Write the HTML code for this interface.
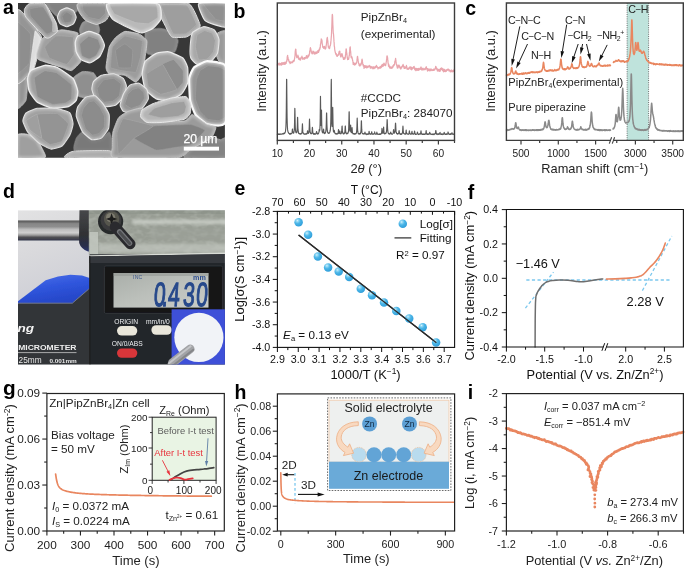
<!DOCTYPE html>
<html><head><meta charset="utf-8"><title>Figure</title>
<style>html,body{margin:0;padding:0;background:#fff}svg{display:block}text{font-family:'Liberation Sans', Arial, sans-serif}</style>
</head><body>
<svg width="685" height="568" viewBox="0 0 685 568">
<defs>
<radialGradient id="ball" cx="0.36" cy="0.3" r="0.78">
<stop offset="0" stop-color="#d8f3fc"/><stop offset="0.16" stop-color="#93d8f4"/><stop offset="0.45" stop-color="#4ab5e7"/><stop offset="1" stop-color="#2b9ad8"/>
</radialGradient>

<filter id="blurA" x="-5%" y="-5%" width="110%" height="110%"><feGaussianBlur stdDeviation="0.5"/></filter>
<filter id="blurG" x="-20%" y="-20%" width="140%" height="140%"><feGaussianBlur stdDeviation="1.2"/></filter>

<linearGradient id="dBg" x1="0" y1="0" x2="0.5" y2="1"><stop offset="0" stop-color="#e2e2e3"/><stop offset="0.25" stop-color="#d9d9dc"/><stop offset="0.5" stop-color="#cfd0d7"/></linearGradient>
<linearGradient id="dRod" x1="0" y1="0" x2="0" y2="1"><stop offset="0" stop-color="#8a8a8a"/><stop offset="0.07" stop-color="#606060"/><stop offset="0.17" stop-color="#878787"/><stop offset="0.32" stop-color="#8e8e8e"/><stop offset="0.45" stop-color="#bdbdbd"/><stop offset="0.62" stop-color="#cfcfcf"/><stop offset="0.74" stop-color="#9a9a9a"/><stop offset="0.84" stop-color="#505052"/><stop offset="1" stop-color="#33364c"/></linearGradient>
<linearGradient id="dCollar" x1="0" y1="0" x2="0" y2="1"><stop offset="0" stop-color="#47484a"/><stop offset="0.6" stop-color="#303134"/><stop offset="0.85" stop-color="#2a2d4a"/><stop offset="1" stop-color="#2a3470"/></linearGradient>
<linearGradient id="dLcd" x1="0" y1="0" x2="1" y2="1"><stop offset="0" stop-color="#a9aea9"/><stop offset="0.5" stop-color="#bcc0bb"/><stop offset="1" stop-color="#c9ccc8"/></linearGradient>
<linearGradient id="dGlove" x1="0.2" y1="0" x2="0.6" y2="1"><stop offset="0" stop-color="#4a6ee8"/><stop offset="0.45" stop-color="#2f55dc"/><stop offset="1" stop-color="#2444c4"/></linearGradient>
<filter id="blurD2" x="-10%" y="-50%" width="120%" height="200%"><feGaussianBlur stdDeviation="1.6"/></filter>
<filter id="blurD" x="-5%" y="-5%" width="110%" height="110%"><feGaussianBlur stdDeviation="0.45"/></filter>
<filter id="hammer" x="0" y="0" width="100%" height="100%"><feTurbulence type="fractalNoise" baseFrequency="0.14 0.22" numOctaves="2" seed="7" result="n"/><feColorMatrix in="n" type="matrix" values="0 0 0 0 1  0 0 0 0 1  0 0 0 0 1  2.4 0 0 0 -0.95" result="m"/><feComposite in="SourceGraphic" in2="m" operator="in"/></filter>
</defs>
<rect width="685" height="568" fill="#fff"/>
<path d="M277.3,65.15 L277.43,64.4 L277.56,64.21 L277.69,63.13 L277.82,64 L277.94,63.96 L278.07,64.1 L278.2,63.8 L278.33,64.12 L278.46,63.88 L278.59,63.41 L278.72,64.62 L278.85,64.61 L278.98,65.06 L279.1,64.15 L279.23,63.89 L279.36,63.81 L279.49,63.25 L279.62,64.64 L279.75,63.49 L279.88,63.44 L280.01,63.97 L280.14,64.89 L280.26,64.2 L280.39,63.5 L280.52,63.66 L280.65,64.39 L280.78,63.95 L280.91,63.61 L281.04,63.9 L281.17,64.42 L281.3,65.09 L281.42,63.31 L281.55,63.64 L281.68,63.53 L281.81,62.63 L281.94,63.44 L282.07,63.37 L282.2,64.54 L282.33,63.84 L282.46,63 L282.58,64.24 L282.71,63.67 L282.84,62.89 L282.97,63.5 L283.1,63.49 L283.23,63.31 L283.36,63.79 L283.49,62.52 L283.62,63.58 L283.74,64.26 L283.87,64.15 L284,64.26 L284.13,64.23 L284.26,64.4 L284.39,62.93 L284.52,63.97 L284.65,62.44 L284.78,63.08 L284.9,62.31 L285.03,63.88 L285.16,63.97 L285.29,63.06 L285.42,64.06 L285.55,62.61 L285.68,62.96 L285.81,62.83 L285.93,62.01 L286.06,62.66 L286.19,63.27 L286.32,61.38 L286.45,62.12 L286.58,61.16 L286.71,61.75 L286.84,60.46 L286.97,59.87 L287.09,59.04 L287.22,57.93 L287.35,56.17 L287.48,57.06 L287.61,55.28 L287.74,56.38 L287.87,57.2 L288,57.22 L288.13,58.6 L288.25,59.94 L288.38,59.94 L288.51,60 L288.64,59.32 L288.77,60.73 L288.9,61.21 L289.03,61.47 L289.16,61.4 L289.29,62.27 L289.41,61.86 L289.54,62.2 L289.67,62.7 L289.8,61.91 L289.93,62.25 L290.06,63.63 L290.19,62.95 L290.32,61.77 L290.45,62.44 L290.57,62.8 L290.7,63.16 L290.83,62.55 L290.96,62.17 L291.09,62.04 L291.22,62.77 L291.35,62.56 L291.48,62.08 L291.61,62.22 L291.73,62.06 L291.86,62.65 L291.99,61.83 L292.12,62.42 L292.25,62.57 L292.38,62.31 L292.51,61.52 L292.64,62.65 L292.77,61.46 L292.89,61.99 L293.02,61.25 L293.15,60.6 L293.28,61.57 L293.41,61.47 L293.54,61.12 L293.67,61.15 L293.8,60.45 L293.93,60.17 L294.05,60.22 L294.18,61.05 L294.31,60.07 L294.44,58.88 L294.57,58.91 L294.7,57.64 L294.83,56.78 L294.96,56.42 L295.09,54.34 L295.21,52.16 L295.34,50.93 L295.47,49.96 L295.6,49.03 L295.73,49.56 L295.86,49.29 L295.99,51.44 L296.12,52.77 L296.25,53.82 L296.37,55.5 L296.5,56.18 L296.63,56.08 L296.76,57.58 L296.89,56.59 L297.02,57.4 L297.15,57.32 L297.28,57.36 L297.41,56.41 L297.53,56.36 L297.66,55.84 L297.79,56.11 L297.92,55.02 L298.05,55.71 L298.18,56 L298.31,56.02 L298.44,58.79 L298.57,57.78 L298.69,57.41 L298.82,59.33 L298.95,58.21 L299.08,59.19 L299.21,59.6 L299.34,58.87 L299.47,59.06 L299.6,59.04 L299.73,59.29 L299.85,58.47 L299.98,58.67 L300.11,59.24 L300.24,59.85 L300.37,59.56 L300.5,60.09 L300.63,59.42 L300.76,58.63 L300.89,58.68 L301.01,57.44 L301.14,57.79 L301.27,57.47 L301.4,57.86 L301.53,57.74 L301.66,56.82 L301.79,56.67 L301.92,56.19 L302.04,57.15 L302.17,57.59 L302.3,57.94 L302.43,57.47 L302.56,59.15 L302.69,58.83 L302.82,58.2 L302.95,58.02 L303.08,58.16 L303.2,58.44 L303.33,58.34 L303.46,58.61 L303.59,58.75 L303.72,59.05 L303.85,58.9 L303.98,58.17 L304.11,58.41 L304.24,57.94 L304.36,57.78 L304.49,59.11 L304.62,57.75 L304.75,59.05 L304.88,57.7 L305.01,57.98 L305.14,58.38 L305.27,57.74 L305.4,57.88 L305.52,57.47 L305.65,57.28 L305.78,57.38 L305.91,57.05 L306.04,58.24 L306.17,57.18 L306.3,58.15 L306.43,55.65 L306.56,57.06 L306.68,57.29 L306.81,56.74 L306.94,57.42 L307.07,57.09 L307.2,56.5 L307.33,56.8 L307.46,58.01 L307.59,56.51 L307.72,56.43 L307.84,55.91 L307.97,56.11 L308.1,55.21 L308.23,55.67 L308.36,56.99 L308.49,56.06 L308.62,55.65 L308.75,55.7 L308.88,55.9 L309,54.94 L309.13,55.45 L309.26,54.55 L309.39,53.63 L309.52,54 L309.65,51.17 L309.78,51.47 L309.91,51.14 L310.04,49.63 L310.16,49.18 L310.29,48.17 L310.42,47.7 L310.55,49.49 L310.68,48.66 L310.81,48.89 L310.94,50.37 L311.07,50.25 L311.2,51.51 L311.32,51.76 L311.45,52.9 L311.58,51.56 L311.71,53.02 L311.84,52.86 L311.97,52.28 L312.1,53.57 L312.23,52.53 L312.36,53.88 L312.48,53.2 L312.61,53.18 L312.74,52.66 L312.87,52.88 L313,51.08 L313.13,51.86 L313.26,51.25 L313.39,51.65 L313.52,51.54 L313.64,52.1 L313.77,51.56 L313.9,53.29 L314.03,53.77 L314.16,52.56 L314.29,52.8 L314.42,53.06 L314.55,53.66 L314.68,54.06 L314.8,52.37 L314.93,52.71 L315.06,52.46 L315.19,52.43 L315.32,52.12 L315.45,53.2 L315.58,52.34 L315.71,53.77 L315.84,53.41 L315.96,52.3 L316.09,52.26 L316.22,52.44 L316.35,53.5 L316.48,52.21 L316.61,51.8 L316.74,52.54 L316.87,52.71 L317,52.08 L317.12,53.26 L317.25,52.43 L317.38,52.48 L317.51,51.68 L317.64,52.04 L317.77,51.89 L317.9,50.63 L318.03,51.93 L318.15,50.67 L318.28,51.52 L318.41,50.6 L318.54,52.38 L318.67,51.29 L318.8,51.41 L318.93,51.26 L319.06,49.81 L319.19,49.05 L319.31,49.86 L319.44,50.24 L319.57,49.46 L319.7,49.46 L319.83,49.11 L319.96,47.28 L320.09,47.69 L320.22,47.97 L320.35,45.85 L320.47,44.23 L320.6,44.33 L320.73,43.23 L320.86,42.73 L320.99,41.04 L321.12,40.73 L321.25,38.8 L321.38,40.12 L321.51,40.48 L321.63,40.63 L321.76,39.66 L321.89,41.46 L322.02,40.53 L322.15,43.23 L322.28,43.92 L322.41,44.21 L322.54,45.66 L322.67,46.17 L322.79,47.13 L322.92,47.1 L323.05,47.5 L323.18,46.54 L323.31,47.13 L323.44,47.58 L323.57,47.98 L323.7,47.69 L323.83,48.29 L323.95,46.69 L324.08,46.7 L324.21,46.71 L324.34,46.36 L324.47,46.91 L324.6,46.66 L324.73,48.15 L324.86,47.57 L324.99,48.65 L325.11,48.22 L325.24,49.16 L325.37,47.58 L325.5,48.55 L325.63,47.86 L325.76,47.96 L325.89,48.13 L326.02,46.37 L326.15,45.66 L326.27,45.07 L326.4,44.83 L326.53,42.55 L326.66,42.36 L326.79,40.23 L326.92,38.96 L327.05,38.27 L327.18,38.03 L327.31,37.46 L327.43,38.15 L327.56,39.48 L327.69,40.67 L327.82,40.69 L327.95,43.16 L328.08,44.52 L328.21,45.97 L328.34,47.21 L328.47,47.02 L328.59,47.14 L328.72,46.89 L328.85,47.7 L328.98,48.22 L329.11,48.56 L329.24,47.37 L329.37,47.92 L329.5,48.11 L329.63,48.49 L329.75,47.34 L329.88,46.58 L330.01,46.1 L330.14,45.81 L330.27,45.1 L330.4,45.27 L330.53,44.67 L330.66,43.64 L330.79,42.94 L330.91,40.94 L331.04,40.16 L331.17,38.32 L331.3,36.92 L331.43,35.65 L331.56,32.7 L331.69,29 L331.82,26.69 L331.95,22.77 L332.07,18.47 L332.2,15.43 L332.33,14.39 L332.46,14.98 L332.59,16.15 L332.72,20.65 L332.85,24.68 L332.98,26.89 L333.11,30.25 L333.23,32.22 L333.36,33.67 L333.49,33.7 L333.62,35.43 L333.75,37.61 L333.88,39.54 L334.01,41.9 L334.14,42.73 L334.26,45.76 L334.39,46.66 L334.52,46.86 L334.65,49.13 L334.78,49.43 L334.91,50.69 L335.04,51.01 L335.17,52.3 L335.3,52.27 L335.42,52.41 L335.55,53.48 L335.68,53.43 L335.81,53.37 L335.94,54.57 L336.07,53.89 L336.2,53.99 L336.33,54.24 L336.46,53.92 L336.58,54.58 L336.71,56.06 L336.84,54.67 L336.97,55.29 L337.1,54.77 L337.23,55.13 L337.36,56.36 L337.49,56.06 L337.62,55.25 L337.74,55.59 L337.87,55.1 L338,55.05 L338.13,54.87 L338.26,54.71 L338.39,55.16 L338.52,55 L338.65,54.55 L338.78,53.7 L338.9,52.46 L339.03,52.51 L339.16,51.37 L339.29,51.8 L339.42,51.32 L339.55,51.47 L339.68,51.28 L339.81,51.13 L339.94,53.42 L340.06,54.32 L340.19,53.5 L340.32,54.95 L340.45,55.97 L340.58,55.06 L340.71,56.86 L340.84,55.83 L340.97,55.48 L341.1,56.78 L341.22,56.04 L341.35,55.28 L341.48,55.8 L341.61,53.84 L341.74,55.5 L341.87,53.7 L342,54.15 L342.13,53.88 L342.26,54.7 L342.38,55.5 L342.51,55.19 L342.64,56.7 L342.77,56.67 L342.9,56.94 L343.03,57.6 L343.16,57.5 L343.29,57.89 L343.42,59.07 L343.54,58.64 L343.67,59.48 L343.8,59.19 L343.93,58.45 L344.06,58 L344.19,58.66 L344.32,59.15 L344.45,58.92 L344.58,58.34 L344.7,59.17 L344.83,57.41 L344.96,57.35 L345.09,57.68 L345.22,58.27 L345.35,56.59 L345.48,54.92 L345.61,54.71 L345.74,53.46 L345.86,52.18 L345.99,50.07 L346.12,48.83 L346.25,48.97 L346.38,49.56 L346.51,51.3 L346.64,53 L346.77,52.93 L346.9,54.39 L347.02,55.79 L347.15,56.61 L347.28,57.76 L347.41,58.34 L347.54,58.67 L347.67,59.6 L347.8,59.01 L347.93,58.68 L348.06,58.48 L348.18,58.79 L348.31,58.72 L348.44,58.11 L348.57,59.29 L348.7,58.71 L348.83,57.94 L348.96,57.11 L349.09,55.99 L349.22,55.43 L349.34,55.81 L349.47,52.19 L349.6,51.9 L349.73,50.54 L349.86,48.62 L349.99,47.21 L350.12,47.39 L350.25,46.81 L350.37,48.91 L350.5,50.99 L350.63,51.33 L350.76,53.03 L350.89,54.9 L351.02,56.45 L351.15,57.45 L351.28,57.64 L351.41,57.22 L351.53,57.09 L351.66,57.78 L351.79,57.73 L351.92,56.84 L352.05,57.62 L352.18,58.22 L352.31,59.29 L352.44,58.95 L352.57,60.56 L352.69,60.28 L352.82,61.25 L352.95,61.9 L353.08,63.17 L353.21,64.47 L353.34,63.05 L353.47,63.41 L353.6,63.88 L353.73,62.74 L353.85,64.04 L353.98,63.06 L354.11,64.74 L354.24,64.72 L354.37,64.28 L354.5,63.62 L354.63,65.03 L354.76,64.29 L354.89,64.23 L355.01,64.5 L355.14,63.24 L355.27,64.4 L355.4,64.68 L355.53,64.27 L355.66,64.09 L355.79,63.39 L355.92,64.13 L356.05,63.71 L356.17,63.39 L356.3,62.78 L356.43,63.2 L356.56,62.95 L356.69,61.9 L356.82,61.45 L356.95,60.81 L357.08,59.96 L357.21,58.17 L357.33,57.03 L357.46,56.39 L357.59,56.65 L357.72,57.53 L357.85,58.7 L357.98,59.05 L358.11,60.42 L358.24,60.72 L358.37,62.74 L358.49,62.47 L358.62,63.4 L358.75,63.22 L358.88,63.79 L359.01,63.86 L359.14,65.39 L359.27,64.84 L359.4,64.69 L359.53,64.38 L359.65,64.65 L359.78,65.37 L359.91,66.02 L360.04,64.34 L360.17,64.62 L360.3,65 L360.43,64.7 L360.56,64.05 L360.69,64.85 L360.81,65.08 L360.94,63.57 L361.07,64.24 L361.2,64.25 L361.33,63.74 L361.46,62.32 L361.59,63.05 L361.72,61.25 L361.85,59.75 L361.97,60.28 L362.1,59.16 L362.23,60.78 L362.36,60.41 L362.49,62.44 L362.62,62.52 L362.75,64.18 L362.88,64.55 L363.01,64.86 L363.13,65.02 L363.26,65.9 L363.39,64.55 L363.52,65.99 L363.65,66.15 L363.78,66.37 L363.91,66.64 L364.04,68.33 L364.17,66.44 L364.29,66.9 L364.42,66.61 L364.55,67.45 L364.68,65.53 L364.81,67.63 L364.94,66.36 L365.07,65.54 L365.2,66.23 L365.33,66.76 L365.45,66.99 L365.58,66.89 L365.71,67.39 L365.84,66.94 L365.97,66.95 L366.1,65.83 L366.23,67.29 L366.36,67.59 L366.48,66.82 L366.61,66.03 L366.74,66.34 L366.87,68 L367,66.75 L367.13,66.72 L367.26,66.63 L367.39,67.45 L367.52,66.73 L367.64,66.56 L367.77,66.18 L367.9,66.91 L368.03,67.46 L368.16,66.75 L368.29,67.22 L368.42,66.71 L368.55,66.53 L368.68,66.36 L368.8,66.07 L368.93,66.43 L369.06,66.03 L369.19,65.45 L369.32,65.98 L369.45,66.07 L369.58,66.61 L369.71,66.65 L369.84,66.97 L369.96,66.08 L370.09,67.22 L370.22,67.83 L370.35,66.45 L370.48,68.13 L370.61,67.47 L370.74,67.24 L370.87,66.4 L371,68.02 L371.12,66.92 L371.25,67.2 L371.38,67.8 L371.51,66.96 L371.64,67 L371.77,66.93 L371.9,67.51 L372.03,67.91 L372.16,67.82 L372.28,67.84 L372.41,67.43 L372.54,67.71 L372.67,67.26 L372.8,68.75 L372.93,67.76 L373.06,66.59 L373.19,67.08 L373.32,68.55 L373.44,66.92 L373.57,67.43 L373.7,67.9 L373.83,67.07 L373.96,68.26 L374.09,68.59 L374.22,67.21 L374.35,68.28 L374.48,67.16 L374.6,67.09 L374.73,67.75 L374.86,67.73 L374.99,67.24 L375.12,67.99 L375.25,66.68 L375.38,66.96 L375.51,66.76 L375.64,67.67 L375.76,67.58 L375.89,67.35 L376.02,66.09 L376.15,66.66 L376.28,66.63 L376.41,65.33 L376.54,65.7 L376.67,66.58 L376.8,66.78 L376.92,66.74 L377.05,67.12 L377.18,67.19 L377.31,67.25 L377.44,67.23 L377.57,66.91 L377.7,67.33 L377.83,67.31 L377.96,68.85 L378.08,67.76 L378.21,67.64 L378.34,67.55 L378.47,67.63 L378.6,67.56 L378.73,68.02 L378.86,67.71 L378.99,68.18 L379.12,67.35 L379.24,67.92 L379.37,68.21 L379.5,67.08 L379.63,67.8 L379.76,67.83 L379.89,67.49 L380.02,67.39 L380.15,66.61 L380.28,68.23 L380.4,67.05 L380.53,66.83 L380.66,67.82 L380.79,66.39 L380.92,67.85 L381.05,67.46 L381.18,67.43 L381.31,66.86 L381.44,66.1 L381.56,65.49 L381.69,67.05 L381.82,65.65 L381.95,65.23 L382.08,65.99 L382.21,64.45 L382.34,64.51 L382.47,64.55 L382.59,64.81 L382.72,64.59 L382.85,65.1 L382.98,66.31 L383.11,66.12 L383.24,64.09 L383.37,64.58 L383.5,65.69 L383.63,65.2 L383.75,64.72 L383.88,65.09 L384.01,63.1 L384.14,64.39 L384.27,63.64 L384.4,63.95 L384.53,64.05 L384.66,64.72 L384.79,64.44 L384.91,64.53 L385.04,65.42 L385.17,65.16 L385.3,64.36 L385.43,65.7 L385.56,65.45 L385.69,65.32 L385.82,64.22 L385.95,63.93 L386.07,62.97 L386.2,61.96 L386.33,61.72 L386.46,60.83 L386.59,59.31 L386.72,59.56 L386.85,56.6 L386.98,56.18 L387.11,55.79 L387.23,56.89 L387.36,56.55 L387.49,57.4 L387.62,58.2 L387.75,59.43 L387.88,60.24 L388.01,62.51 L388.14,63.16 L388.27,64.11 L388.39,63.83 L388.52,66.1 L388.65,64.63 L388.78,64.41 L388.91,65.7 L389.04,66.2 L389.17,66.77 L389.3,65.99 L389.43,67.04 L389.55,67.8 L389.68,66.52 L389.81,66.69 L389.94,66.25 L390.07,67.4 L390.2,67.81 L390.33,67.82 L390.46,67.91 L390.59,68.27 L390.71,67.6 L390.84,68.08 L390.97,67.06 L391.1,67.16 L391.23,67.73 L391.36,67.15 L391.49,67.91 L391.62,68.34 L391.75,67.78 L391.87,67.12 L392,67.07 L392.13,68.17 L392.26,66.91 L392.39,67.3 L392.52,66.99 L392.65,67.02 L392.78,67.4 L392.91,66.27 L393.03,65.5 L393.16,66.73 L393.29,65.69 L393.42,65.6 L393.55,64.91 L393.68,65.21 L393.81,65.47 L393.94,65.58 L394.07,64.72 L394.19,64.64 L394.32,64.91 L394.45,64.54 L394.58,64.34 L394.71,63.08 L394.84,61.48 L394.97,62.14 L395.1,61.34 L395.23,60.27 L395.35,59.99 L395.48,59.07 L395.61,58.41 L395.74,59.71 L395.87,60.02 L396,61.82 L396.13,62.32 L396.26,63.39 L396.39,64.08 L396.51,64.67 L396.64,64.37 L396.77,65.68 L396.9,64.77 L397.03,66.58 L397.16,67.09 L397.29,67.86 L397.42,67.08 L397.55,66.58 L397.67,66.17 L397.8,68.15 L397.93,66.29 L398.06,67.53 L398.19,65.68 L398.32,66.77 L398.45,66.98 L398.58,66.52 L398.7,66 L398.83,65.26 L398.96,64.97 L399.09,65.95 L399.22,65.76 L399.35,65.73 L399.48,66.31 L399.61,66.06 L399.74,67.45 L399.86,67.85 L399.99,66.94 L400.12,67.59 L400.25,68.24 L400.38,67.4 L400.51,68.94 L400.64,68.7 L400.77,67.75 L400.9,68.45 L401.02,68.82 L401.15,67.2 L401.28,68.18 L401.41,67.7 L401.54,67.57 L401.67,67.97 L401.8,67.17 L401.93,66.47 L402.06,66.23 L402.18,66.71 L402.31,66.72 L402.44,65.96 L402.57,65.46 L402.7,65.13 L402.83,65.57 L402.96,65.05 L403.09,64.46 L403.22,65.02 L403.34,66.25 L403.47,65.7 L403.6,66.22 L403.73,66.78 L403.86,66.51 L403.99,67.84 L404.12,66.33 L404.25,68.49 L404.38,67.57 L404.5,67.21 L404.63,68.11 L404.76,67.05 L404.89,68.29 L405.02,68.4 L405.15,67.61 L405.28,67.63 L405.41,68.24 L405.54,67.18 L405.66,67.34 L405.79,67.26 L405.92,67.67 L406.05,66.34 L406.18,66.57 L406.31,67.27 L406.44,65.48 L406.57,67.04 L406.7,66.43 L406.82,66.73 L406.95,69.03 L407.08,68.24 L407.21,69.08 L407.34,68.24 L407.47,68.75 L407.6,68.28 L407.73,68.26 L407.86,68.56 L407.98,68.69 L408.11,69.48 L408.24,68.53 L408.37,68.83 L408.5,68.46 L408.63,68.64 L408.76,67.79 L408.89,69.04 L409.02,68.05 L409.14,68.23 L409.27,67.92 L409.4,68.36 L409.53,67.84 L409.66,67.26 L409.79,67.04 L409.92,66.9 L410.05,67.04 L410.18,67 L410.3,67.68 L410.43,68.18 L410.56,67.94 L410.69,67.15 L410.82,69.07 L410.95,69.47 L411.08,68.23 L411.21,68.31 L411.34,67.49 L411.46,69.12 L411.59,68.18 L411.72,69.77 L411.85,67.41 L411.98,68.82 L412.11,69.13 L412.24,68.51 L412.37,68.25 L412.5,68.75 L412.62,68.23 L412.75,68.2 L412.88,68.2 L413.01,67.7 L413.14,67.63 L413.27,67.91 L413.4,67.01 L413.53,67.17 L413.66,66.67 L413.78,67.76 L413.91,66.83 L414.04,68.36 L414.17,66.45 L414.3,67.85 L414.43,67.67 L414.56,69.26 L414.69,68.98 L414.81,68.21 L414.94,68.7 L415.07,69.82 L415.2,69.1 L415.33,69.49 L415.46,68.39 L415.59,68.43 L415.72,69.6 L415.85,70.58 L415.97,69.03 L416.1,69.67 L416.23,68.85 L416.36,70.07 L416.49,69.14 L416.62,69.17 L416.75,68.38 L416.88,69.2 L417.01,69.54 L417.13,70.2 L417.26,68.8 L417.39,69.99 L417.52,69.27 L417.65,69.3 L417.78,68.94 L417.91,68.53 L418.04,68.79 L418.17,70.35 L418.29,68.8 L418.42,69.21 L418.55,70.05 L418.68,68.27 L418.81,69.66 L418.94,69.12 L419.07,69.48 L419.2,69.83 L419.33,69.24 L419.45,69.18 L419.58,69.64 L419.71,69.53 L419.84,68.7 L419.97,68.89 L420.1,68.13 L420.23,69.42 L420.36,67.84 L420.49,68.36 L420.61,68.94 L420.74,68.14 L420.87,67.32 L421,67 L421.13,67.15 L421.26,68.22 L421.39,68.19 L421.52,68.29 L421.65,69.98 L421.77,68.3 L421.9,68.66 L422.03,68.86 L422.16,69.3 L422.29,69.43 L422.42,69.18 L422.55,69.79 L422.68,69.73 L422.81,69.3 L422.93,68.15 L423.06,69.96 L423.19,69.02 L423.32,69.19 L423.45,69.48 L423.58,68.88 L423.71,69.12 L423.84,69.6 L423.97,69.36 L424.09,69.72 L424.22,69.05 L424.35,69.38 L424.48,68.89 L424.61,69.28 L424.74,69.55 L424.87,69.2 L425,68.47 L425.13,69.06 L425.25,69.12 L425.38,69.5 L425.51,68.66 L425.64,68.21 L425.77,67.52 L425.9,68.98 L426.03,67.15 L426.16,66.97 L426.29,67.6 L426.41,66.91 L426.54,68.79 L426.67,68.59 L426.8,69.02 L426.93,68.43 L427.06,68.86 L427.19,69.75 L427.32,69.89 L427.45,71.04 L427.57,70.16 L427.7,68.58 L427.83,69.72 L427.96,69.51 L428.09,70.35 L428.22,69.73 L428.35,70.08 L428.48,69.66 L428.61,70.19 L428.73,70.68 L428.86,69.55 L428.99,68.79 L429.12,69.35 L429.25,70.79 L429.38,70.07 L429.51,69.79 L429.64,69.44 L429.77,70.55 L429.89,70.14 L430.02,69.93 L430.15,69.7 L430.28,69.92 L430.41,69.84 L430.54,70.33 L430.67,70.72 L430.8,68.95 L430.92,69.24 L431.05,69.98 L431.18,70.09 L431.31,69.19 L431.44,69.71 L431.57,69.83 L431.7,69.81 L431.83,69.8 L431.96,70 L432.08,70.54 L432.21,70.46 L432.34,70.37 L432.47,70.2 L432.6,69.65 L432.73,69.77 L432.86,70.41 L432.99,70.08 L433.12,70.45 L433.24,70.14 L433.37,70.01 L433.5,70.2 L433.63,69.09 L433.76,69.82 L433.89,69.55 L434.02,70.3 L434.15,69.41 L434.28,69.85 L434.4,69.41 L434.53,69.81 L434.66,69.82 L434.79,69.15 L434.92,69.13 L435.05,68.92 L435.18,68.94 L435.31,67.97 L435.44,67.74 L435.56,67.06 L435.69,66.44 L435.82,66.94 L435.95,67.21 L436.08,66.87 L436.21,68.61 L436.34,67.76 L436.47,68.97 L436.6,69.08 L436.72,68.19 L436.85,69.31 L436.98,68.62 L437.11,69.56 L437.24,70.09 L437.37,70.82 L437.5,70.31 L437.63,69.1 L437.76,69.79 L437.88,70.85 L438.01,70.16 L438.14,71.06 L438.27,69.71 L438.4,69.83 L438.53,69.41 L438.66,69.96 L438.79,70.87 L438.92,69.68 L439.04,70.65 L439.17,70.45 L439.3,70.63 L439.43,70.06 L439.56,70.21 L439.69,71.36 L439.82,69.49 L439.95,70.57 L440.08,70.97 L440.2,70.35 L440.33,70.97 L440.46,68.37 L440.59,69.76 L440.72,69.19 L440.85,69.49 L440.98,69.51 L441.11,69.65 L441.24,68.71 L441.36,69.45 L441.49,67.95 L441.62,69.28 L441.75,68.69 L441.88,68.02 L442.01,68.24 L442.14,68.44 L442.27,69.08 L442.4,69.85 L442.52,70.64 L442.65,70.45 L442.78,69.37 L442.91,68.9 L443.04,70.06 L443.17,69.48 L443.3,70.21 L443.43,69.96 L443.56,71.78 L443.68,69.44 L443.81,70.58 L443.94,71.44 L444.07,70.21 L444.2,70.02 L444.33,71.38 L444.46,69.3 L444.59,69.53 L444.72,69.81 L444.84,70.71 L444.97,70.92 L445.1,70.43 L445.23,71.71 L445.36,70.39 L445.49,70.51 L445.62,70.34 L445.75,71.19 L445.88,70.51 L446,70.28 L446.13,71.43 L446.26,71.2 L446.39,71.02 L446.52,69.75 L446.65,69.83 L446.78,70.25 L446.91,70.19 L447.03,70.04 L447.16,70.08 L447.29,70.46 L447.42,69.41 L447.55,69.95 L447.68,69.42 L447.81,69.19 L447.94,69.17 L448.07,69.68 L448.19,69.49 L448.32,69.05 L448.45,69.86 L448.58,69.95 L448.71,70.27 L448.84,70.04 L448.97,70.86 L449.1,70.61 L449.23,69.84 L449.35,69.83 L449.48,69.81 L449.61,70.85 L449.74,70.29 L449.87,70.51 L450,70.69 L450.13,71.43 L450.26,71.98 L450.39,70.73 L450.51,71.91 L450.64,71.13 L450.77,71.5 L450.9,70.7 L451.03,70.18 L451.16,71.14 L451.29,71.6 L451.42,70.03 L451.55,70.87 L451.67,71.03 L451.8,71.25 L451.93,70.33 L452.06,70.63 L452.19,71.46 L452.32,71.95 L452.45,71.01 L452.58,71.51 L452.71,71.07 L452.83,71.22 L452.96,70.77 L453.09,70.86 L453.22,70.68 L453.35,71.06 L453.48,71.62 L453.61,71.12 L453.74,71.38 L453.87,70.67 L453.99,71.43 L454.12,69.3 L454.25,70.26 L454.38,70.86 L454.51,70.05" fill="none" stroke="#E9A6AE" stroke-width="1.25" stroke-linejoin="round" stroke-linecap="round" />
<path d="M277.3,134.33 L277.43,134.26 L277.56,134.06 L277.69,134.24 L277.82,133.94 L277.94,134.05 L278.07,134.14 L278.2,133.92 L278.33,134.4 L278.46,134.09 L278.59,134.39 L278.72,134.18 L278.85,134.26 L278.98,134.03 L279.1,134.14 L279.23,134.11 L279.36,134.23 L279.49,134.43 L279.62,134.08 L279.75,134.15 L279.88,134.24 L280.01,134.32 L280.14,134.14 L280.26,134.09 L280.39,134.05 L280.52,134.15 L280.65,134.19 L280.78,134.01 L280.91,134.07 L281.04,134.26 L281.17,134.11 L281.3,134 L281.42,134.22 L281.55,134.22 L281.68,134.19 L281.81,134.19 L281.94,133.98 L282.07,134.08 L282.2,134.08 L282.33,134.03 L282.46,133.68 L282.58,133.98 L282.71,134.02 L282.84,134.03 L282.97,133.86 L283.1,133.89 L283.23,133.53 L283.36,133.55 L283.49,133.25 L283.62,133.7 L283.74,133.99 L283.87,133.96 L284,133.38 L284.13,133.63 L284.26,133.65 L284.39,133.27 L284.52,132.86 L284.65,133.33 L284.78,132.84 L284.9,132.63 L285.03,132.76 L285.16,132.22 L285.29,131.88 L285.42,131.49 L285.55,130.46 L285.68,129.33 L285.81,128.24 L285.93,126.01 L286.06,122.89 L286.19,117.51 L286.32,108.38 L286.45,94.45 L286.58,79.4 L286.71,79.41 L286.84,94.43 L286.97,108.58 L287.09,117.47 L287.22,122.51 L287.35,126.11 L287.48,127.83 L287.61,129.89 L287.74,130.33 L287.87,131.17 L288,131.95 L288.13,132.07 L288.25,132.19 L288.38,132.41 L288.51,132.92 L288.64,133.1 L288.77,133.31 L288.9,133.32 L289.03,133.28 L289.16,133.53 L289.29,133.77 L289.41,133.42 L289.54,134.26 L289.67,133.58 L289.8,133.91 L289.93,134.06 L290.06,133.9 L290.19,133.81 L290.32,133.9 L290.45,134.02 L290.57,133.31 L290.7,133.87 L290.83,133.71 L290.96,133.65 L291.09,133.78 L291.22,133.77 L291.35,133.79 L291.48,133.54 L291.61,133.76 L291.73,133.05 L291.86,133.05 L291.99,132.65 L292.12,132.23 L292.25,130.86 L292.38,129.29 L292.51,129.02 L292.64,131.1 L292.77,132.2 L292.89,132.57 L293.02,132.64 L293.15,132.85 L293.28,132.81 L293.41,133.27 L293.54,133.08 L293.67,132.55 L293.8,132.86 L293.93,132.09 L294.05,131.18 L294.18,130.91 L294.31,129.53 L294.44,126.87 L294.57,122.38 L294.7,115.54 L294.83,108.31 L294.96,111.2 L295.09,119.34 L295.21,125.03 L295.34,128.11 L295.47,129.82 L295.6,131.23 L295.73,131.36 L295.86,132.25 L295.99,132.51 L296.12,132.72 L296.25,132.65 L296.37,132.76 L296.5,132.8 L296.63,132.31 L296.76,132.23 L296.89,131.81 L297.02,130.72 L297.15,129.4 L297.28,127.37 L297.41,122.93 L297.53,117.36 L297.66,117.64 L297.79,122.88 L297.92,127.44 L298.05,129.93 L298.18,130.72 L298.31,131.96 L298.44,132.8 L298.57,133.2 L298.69,133.05 L298.82,133.12 L298.95,133.52 L299.08,133.46 L299.21,133.65 L299.34,133.51 L299.47,133.9 L299.6,133.91 L299.73,133.92 L299.85,133.66 L299.98,133.57 L300.11,133.66 L300.24,133.99 L300.37,133.58 L300.5,134.02 L300.63,134.21 L300.76,133.77 L300.89,133.83 L301.01,134.01 L301.14,133.95 L301.27,133.61 L301.4,133.6 L301.53,133.52 L301.66,133.25 L301.79,133.09 L301.92,132.51 L302.04,131.71 L302.17,129.28 L302.3,126.44 L302.43,123.79 L302.56,126.21 L302.69,129.67 L302.82,131.66 L302.95,132.52 L303.08,132.97 L303.2,133.39 L303.33,133.42 L303.46,133.44 L303.59,133.62 L303.72,133.71 L303.85,133.93 L303.98,134.08 L304.11,134.01 L304.24,134.26 L304.36,134 L304.49,133.91 L304.62,133.91 L304.75,133.89 L304.88,134 L305.01,134.31 L305.14,133.8 L305.27,134.16 L305.4,134.06 L305.52,134.21 L305.65,133.97 L305.78,134.18 L305.91,133.95 L306.04,134.14 L306.17,133.66 L306.3,134.08 L306.43,134.09 L306.56,133.63 L306.68,134.02 L306.81,133.58 L306.94,133.85 L307.07,133.47 L307.2,133.25 L307.33,132.55 L307.46,131.12 L307.59,130.72 L307.72,131.48 L307.84,132.16 L307.97,133.01 L308.1,133.25 L308.23,133.12 L308.36,133.04 L308.49,133.35 L308.62,132.84 L308.75,132.74 L308.88,132.37 L309,131.2 L309.13,129.35 L309.26,126.81 L309.39,121.89 L309.52,118.98 L309.65,122.67 L309.78,126.5 L309.91,129.59 L310.04,130.95 L310.16,132.04 L310.29,132.66 L310.42,132.51 L310.55,133.11 L310.68,133.5 L310.81,133.65 L310.94,133.63 L311.07,133.44 L311.2,133.7 L311.32,133.54 L311.45,133.45 L311.58,133.5 L311.71,133.77 L311.84,132.94 L311.97,132.83 L312.1,131.8 L312.23,129.77 L312.36,127.44 L312.48,127.59 L312.61,129.97 L312.74,131.85 L312.87,132.53 L313,133.01 L313.13,133.65 L313.26,133.64 L313.39,133.6 L313.52,133.83 L313.64,134.22 L313.77,133.83 L313.9,133.69 L314.03,134.15 L314.16,134.35 L314.29,134.24 L314.42,133.78 L314.55,133.65 L314.68,134.25 L314.8,133.99 L314.93,134.11 L315.06,133.98 L315.19,134.31 L315.32,134.01 L315.45,133.92 L315.58,133.98 L315.71,133.7 L315.84,133.89 L315.96,133.77 L316.09,133.27 L316.22,133.2 L316.35,132.72 L316.48,131.85 L316.61,131.58 L316.74,132.32 L316.87,132.96 L317,133.07 L317.12,133.23 L317.25,133.8 L317.38,133.65 L317.51,133.71 L317.64,133.5 L317.77,133.35 L317.9,134.08 L318.03,133.53 L318.15,133.55 L318.28,133.3 L318.41,133.67 L318.54,133.17 L318.67,132.97 L318.8,132.63 L318.93,131.96 L319.06,131.1 L319.19,129.58 L319.31,130.49 L319.44,130.86 L319.57,130.93 L319.7,130.41 L319.83,129.58 L319.96,127.4 L320.09,124.08 L320.22,117.58 L320.35,105.44 L320.47,96.22 L320.6,105.27 L320.73,116.74 L320.86,122.8 L320.99,125.42 L321.12,125.47 L321.25,123.4 L321.38,116.46 L321.51,110.07 L321.63,117.54 L321.76,124.78 L321.89,128.53 L322.02,130.48 L322.15,131.63 L322.28,132 L322.41,132.36 L322.54,132.59 L322.67,132.86 L322.79,132.75 L322.92,132.84 L323.05,132.85 L323.18,132.14 L323.31,131.21 L323.44,129.59 L323.57,129.04 L323.7,130.4 L323.83,131.72 L323.95,132.5 L324.08,133.01 L324.21,133.23 L324.34,133.17 L324.47,133.35 L324.6,133.07 L324.73,133.66 L324.86,133.69 L324.99,133.16 L325.11,133.17 L325.24,132.96 L325.37,132.9 L325.5,132.38 L325.63,131.85 L325.76,131.74 L325.89,130.6 L326.02,129.62 L326.15,127.36 L326.27,123.97 L326.4,118.9 L326.53,113.27 L326.66,112.95 L326.79,118.63 L326.92,124.14 L327.05,127.39 L327.18,129.2 L327.31,130.74 L327.43,131.13 L327.56,132.13 L327.69,132.32 L327.82,132.69 L327.95,132.57 L328.08,132.83 L328.21,133.15 L328.34,133.36 L328.47,133.3 L328.59,133.23 L328.72,132.96 L328.85,133.24 L328.98,133.12 L329.11,132.99 L329.24,133.2 L329.37,132.72 L329.5,133.04 L329.63,132.44 L329.75,132.21 L329.88,132.02 L330.01,131.42 L330.14,131.06 L330.27,130.44 L330.4,129.1 L330.53,127.74 L330.66,125.27 L330.79,121.51 L330.91,114.9 L331.04,102.44 L331.17,85.35 L331.3,79.39 L331.43,93.63 L331.56,108.98 L331.69,117.79 L331.82,122.57 L331.95,124.89 L332.07,126.18 L332.2,126.41 L332.33,124.95 L332.46,120.78 L332.59,113.27 L332.72,107.36 L332.85,113.64 L332.98,121.71 L333.11,126.98 L333.23,128.93 L333.36,130.52 L333.49,131.57 L333.62,131.72 L333.75,132.03 L333.88,132.19 L334.01,131.91 L334.14,131.45 L334.26,130.43 L334.39,130.8 L334.52,131.82 L334.65,132.34 L334.78,132.76 L334.91,133.14 L335.04,133.31 L335.17,133.4 L335.3,133.78 L335.42,133.55 L335.55,133.64 L335.68,133.79 L335.81,133.44 L335.94,133.9 L336.07,133.95 L336.2,134.11 L336.33,133.7 L336.46,133.8 L336.58,133.93 L336.71,133.83 L336.84,133.64 L336.97,134.06 L337.1,133.84 L337.23,133.93 L337.36,133.65 L337.49,133.98 L337.62,133.69 L337.74,133.54 L337.87,133.67 L338,133.49 L338.13,132.7 L338.26,132.23 L338.39,130.9 L338.52,129.53 L338.65,130.32 L338.78,132.09 L338.9,132.94 L339.03,132.93 L339.16,133.55 L339.29,133.19 L339.42,133.01 L339.55,132.74 L339.68,131.66 L339.81,131.13 L339.94,131.65 L340.06,132.68 L340.19,133.15 L340.32,133.46 L340.45,133.65 L340.58,133.7 L340.71,133.57 L340.84,133.78 L340.97,133.54 L341.1,133.68 L341.22,133.42 L341.35,133.05 L341.48,132.53 L341.61,131.99 L341.74,131.01 L341.87,128.67 L342,126.26 L342.13,126.07 L342.26,128.58 L342.38,130.64 L342.51,131.63 L342.64,132.72 L342.77,133.08 L342.9,133.31 L343.03,133.62 L343.16,133.41 L343.29,133.96 L343.42,133.43 L343.54,133.77 L343.67,133.51 L343.8,133.67 L343.93,133.9 L344.06,133.38 L344.19,133.61 L344.32,133.49 L344.45,133.34 L344.58,133.1 L344.7,132.79 L344.83,132.05 L344.96,130.81 L345.09,128.78 L345.22,126.17 L345.35,126.03 L345.48,128.39 L345.61,130.87 L345.74,131.88 L345.86,132.92 L345.99,132.92 L346.12,133.05 L346.25,133.63 L346.38,133.39 L346.51,133.32 L346.64,133.84 L346.77,133.39 L346.9,133.89 L347.02,133.48 L347.15,133.7 L347.28,133.63 L347.41,133.21 L347.54,133.46 L347.67,133.29 L347.8,133.26 L347.93,133.16 L348.06,133.12 L348.18,132.46 L348.31,132.01 L348.44,131.7 L348.57,130.3 L348.7,128.39 L348.83,124.57 L348.96,118.71 L349.09,111.75 L349.22,111.78 L349.34,118.94 L349.47,125.15 L349.6,127.73 L349.73,129.66 L349.86,130.79 L349.99,131.13 L350.12,131.25 L350.25,130.38 L350.37,128.69 L350.5,126.45 L350.63,125.12 L350.76,127.6 L350.89,130.22 L351.02,131.57 L351.15,131.97 L351.28,132.68 L351.41,132.66 L351.53,132.43 L351.66,131.95 L351.79,131.38 L351.92,129.22 L352.05,127.67 L352.18,128.97 L352.31,131.1 L352.44,132.52 L352.57,133.25 L352.69,133.1 L352.82,133.14 L352.95,133.65 L353.08,133.72 L353.21,133.95 L353.34,133.72 L353.47,133.9 L353.6,133.57 L353.73,133.71 L353.85,133.84 L353.98,133.87 L354.11,134.06 L354.24,134.18 L354.37,133.71 L354.5,134.27 L354.63,133.82 L354.76,133.87 L354.89,134.14 L355.01,133.49 L355.14,133.64 L355.27,133.72 L355.4,133.85 L355.53,133.98 L355.66,133.93 L355.79,133.49 L355.92,133.69 L356.05,133.34 L356.17,133.5 L356.3,132.92 L356.43,132.76 L356.56,131.78 L356.69,131.12 L356.82,129.01 L356.95,126.2 L357.08,121.09 L357.21,118.15 L357.33,121.23 L357.46,126 L357.59,129.29 L357.72,131.11 L357.85,131.98 L357.98,132.62 L358.11,133.08 L358.24,133.44 L358.37,133.58 L358.49,133.6 L358.62,133.99 L358.75,133.61 L358.88,133.9 L359.01,133.58 L359.14,134.25 L359.27,133.79 L359.4,133.87 L359.53,134.09 L359.65,133.79 L359.78,133.65 L359.91,133.44 L360.04,133.67 L360.17,134.01 L360.3,133.57 L360.43,133.7 L360.56,133.32 L360.69,132.74 L360.81,132 L360.94,131.23 L361.07,129.51 L361.2,125.78 L361.33,120.8 L361.46,120.88 L361.59,125.76 L361.72,129.16 L361.85,131.23 L361.97,132.39 L362.1,132.71 L362.23,133.02 L362.36,133.26 L362.49,133.56 L362.62,133.69 L362.75,133.79 L362.88,133.63 L363.01,133.92 L363.13,133.83 L363.26,133.8 L363.39,133.66 L363.52,133.81 L363.65,133.91 L363.78,134.05 L363.91,134.09 L364.04,134.01 L364.17,134.01 L364.29,133.71 L364.42,133.97 L364.55,133.79 L364.68,133.41 L364.81,132.57 L364.94,132.15 L365.07,132.58 L365.2,133.07 L365.33,133.61 L365.45,133.58 L365.58,133.65 L365.71,134.13 L365.84,134.17 L365.97,134.25 L366.1,134.04 L366.23,134.14 L366.36,134.24 L366.48,134.08 L366.61,133.79 L366.74,134.56 L366.87,134.38 L367,134.39 L367.13,134.18 L367.26,134.02 L367.39,134.17 L367.52,134.2 L367.64,133.9 L367.77,134.05 L367.9,134.22 L368.03,134.37 L368.16,134.17 L368.29,133.94 L368.42,133.71 L368.55,134.19 L368.68,133.64 L368.8,133.37 L368.93,132.5 L369.06,131.21 L369.19,131.84 L369.32,132.61 L369.45,133.45 L369.58,133.47 L369.71,133.81 L369.84,134.18 L369.96,133.93 L370.09,133.91 L370.22,133.86 L370.35,133.83 L370.48,134.23 L370.61,134.06 L370.74,133.73 L370.87,134.3 L371,134.2 L371.12,134.08 L371.25,133.37 L371.38,133.41 L371.51,133 L371.64,131.71 L371.77,131.76 L371.9,132.73 L372.03,133.03 L372.16,133.75 L372.28,134.06 L372.41,134.1 L372.54,134.31 L372.67,134.09 L372.8,134.09 L372.93,134.08 L373.06,133.99 L373.19,133.93 L373.32,133.98 L373.44,134.09 L373.57,133.99 L373.7,134.08 L373.83,134.03 L373.96,134.05 L374.09,133.72 L374.22,133.21 L374.35,132.96 L374.48,132.67 L374.6,131.85 L374.73,132.25 L374.86,133.09 L374.99,133.56 L375.12,133.72 L375.25,133.96 L375.38,134.12 L375.51,134.26 L375.64,133.99 L375.76,134.01 L375.89,134 L376.02,134.05 L376.15,134.19 L376.28,133.79 L376.41,134.2 L376.54,133.65 L376.67,133.25 L376.8,132.2 L376.92,132.29 L377.05,132.97 L377.18,133.56 L377.31,133.45 L377.44,134.04 L377.57,133.73 L377.7,134.15 L377.83,134.3 L377.96,134.12 L378.08,134.12 L378.21,134.13 L378.34,134.13 L378.47,134.22 L378.6,134.34 L378.73,134.29 L378.86,134.45 L378.99,134.19 L379.12,134.09 L379.24,134.09 L379.37,133.95 L379.5,134.1 L379.63,134.06 L379.76,134.48 L379.89,134.24 L380.02,134.46 L380.15,133.78 L380.28,134.17 L380.4,134.28 L380.53,134.13 L380.66,133.96 L380.79,134.03 L380.92,133.97 L381.05,133.9 L381.18,133.82 L381.31,133.79 L381.44,133.41 L381.56,133 L381.69,132.17 L381.82,130.75 L381.95,128.43 L382.08,128.64 L382.21,130.53 L382.34,132.19 L382.47,132.66 L382.59,133.1 L382.72,133.22 L382.85,133.07 L382.98,133.32 L383.11,132.89 L383.24,132.22 L383.37,131.21 L383.5,128.7 L383.63,127.05 L383.75,128.98 L383.88,131.46 L384.01,132.3 L384.14,133.22 L384.27,133.31 L384.4,133.34 L384.53,133.7 L384.66,133.9 L384.79,133.76 L384.91,133.83 L385.04,133.55 L385.17,133.32 L385.3,133.74 L385.43,133.39 L385.56,133.57 L385.69,133.37 L385.82,133.4 L385.95,133.37 L386.07,132.69 L386.2,132.66 L386.33,132.24 L386.46,131.87 L386.59,130.68 L386.72,128.99 L386.85,126.6 L386.98,123.5 L387.11,119.63 L387.23,119.8 L387.36,123.23 L387.49,126.51 L387.62,129 L387.75,130.32 L387.88,131.48 L388.01,132.4 L388.14,132.75 L388.27,132.68 L388.39,133.49 L388.52,133.16 L388.65,133.36 L388.78,133.91 L388.91,133.78 L389.04,133.74 L389.17,134.07 L389.3,133.82 L389.43,133.92 L389.55,133.78 L389.68,133.86 L389.81,133.87 L389.94,134.05 L390.07,133.7 L390.2,133.68 L390.33,133.15 L390.46,132.88 L390.59,132.68 L390.71,132 L390.84,132.5 L390.97,133.31 L391.1,133.51 L391.23,133.77 L391.36,133.8 L391.49,133.55 L391.62,134.05 L391.75,134.22 L391.87,134.17 L392,133.97 L392.13,134 L392.26,134 L392.39,134.18 L392.52,134.08 L392.65,133.75 L392.78,133.71 L392.91,133.58 L393.03,133.32 L393.16,132.99 L393.29,132.47 L393.42,130.92 L393.55,129.82 L393.68,129.64 L393.81,131.02 L393.94,132.26 L394.07,132.66 L394.19,133.22 L394.32,132.86 L394.45,133.01 L394.58,132.9 L394.71,132.4 L394.84,131.88 L394.97,131.45 L395.1,130.16 L395.23,128.21 L395.35,125.43 L395.48,123.2 L395.61,123.37 L395.74,125.62 L395.87,128.51 L396,130.48 L396.13,131.64 L396.26,132.11 L396.39,132.79 L396.51,133.15 L396.64,133.72 L396.77,133.47 L396.9,133.75 L397.03,133.8 L397.16,133.85 L397.29,133.61 L397.42,133.88 L397.55,134.12 L397.67,133.81 L397.8,133.93 L397.93,133.75 L398.06,133.91 L398.19,133.89 L398.32,133.89 L398.45,133.59 L398.58,133.39 L398.7,133 L398.83,132.44 L398.96,131.15 L399.09,130.53 L399.22,131.01 L399.35,132.53 L399.48,133.03 L399.61,133.42 L399.74,133.9 L399.86,133.91 L399.99,134 L400.12,133.73 L400.25,134.45 L400.38,134.38 L400.51,133.91 L400.64,133.81 L400.77,133.92 L400.9,134.08 L401.02,133.87 L401.15,134.07 L401.28,133.89 L401.41,134.46 L401.54,133.9 L401.67,133.82 L401.8,134.18 L401.93,133.8 L402.06,133.61 L402.18,133.41 L402.31,133.21 L402.44,132.54 L402.57,131.78 L402.7,130.13 L402.83,127.59 L402.96,126.17 L403.09,127.85 L403.22,130.5 L403.34,131.8 L403.47,132.56 L403.6,133.14 L403.73,133.52 L403.86,133.22 L403.99,133.66 L404.12,133.45 L404.25,133.58 L404.38,133.81 L404.5,133.94 L404.63,133.99 L404.76,134.02 L404.89,134.22 L405.02,134.06 L405.15,134.03 L405.28,133.87 L405.41,134.19 L405.54,133.96 L405.66,133.44 L405.79,133.07 L405.92,132.59 L406.05,131.36 L406.18,130.14 L406.31,131.38 L406.44,132.26 L406.57,133.16 L406.7,133.74 L406.82,133.67 L406.95,133.92 L407.08,133.97 L407.21,133.98 L407.34,133.73 L407.47,134.02 L407.6,134.12 L407.73,134.14 L407.86,134.24 L407.98,134.26 L408.11,134.03 L408.24,134.04 L408.37,134.34 L408.5,134.16 L408.63,133.95 L408.76,133.8 L408.89,133.85 L409.02,133.52 L409.14,132.69 L409.27,131.67 L409.4,130.73 L409.53,131.58 L409.66,133.03 L409.79,133.11 L409.92,133.79 L410.05,133.65 L410.18,133.82 L410.3,134.15 L410.43,133.81 L410.56,133.89 L410.69,133.87 L410.82,133.96 L410.95,134.1 L411.08,134.22 L411.21,133.86 L411.34,134.04 L411.46,133.52 L411.59,133.83 L411.72,132.84 L411.85,131.87 L411.98,131.27 L412.11,131.98 L412.24,132.89 L412.37,133.16 L412.5,133.88 L412.62,134.01 L412.75,133.9 L412.88,133.82 L413.01,134.1 L413.14,134.27 L413.27,133.77 L413.4,133.87 L413.53,134.07 L413.66,133.88 L413.78,133.91 L413.91,133.87 L414.04,133.87 L414.17,133.6 L414.3,133.1 L414.43,132.13 L414.56,131.12 L414.69,131.55 L414.81,132.99 L414.94,133.55 L415.07,133.83 L415.2,133.79 L415.33,134.33 L415.46,133.76 L415.59,134.23 L415.72,134.22 L415.85,134.29 L415.97,134.38 L416.1,134.23 L416.23,134.2 L416.36,134.08 L416.49,134.25 L416.62,134.16 L416.75,134.18 L416.88,133.77 L417.01,133.57 L417.13,133.59 L417.26,133.18 L417.39,132.12 L417.52,132.21 L417.65,133.03 L417.78,133.64 L417.91,133.9 L418.04,134.15 L418.17,134.03 L418.29,134.18 L418.42,134.36 L418.55,134.11 L418.68,134.57 L418.81,134.11 L418.94,134.2 L419.07,133.85 L419.2,134.17 L419.33,134.09 L419.45,134.06 L419.58,134.21 L419.71,133.96 L419.84,134.17 L419.97,133.75 L420.1,133.97 L420.23,134.22 L420.36,133.9 L420.49,133.81 L420.61,133.22 L420.74,132.52 L420.87,131.87 L421,130.94 L421.13,131.78 L421.26,132.75 L421.39,133.58 L421.52,133.63 L421.65,134.01 L421.77,134.11 L421.9,133.9 L422.03,134.36 L422.16,134.16 L422.29,134.3 L422.42,133.92 L422.55,133.98 L422.68,134.13 L422.81,134.3 L422.93,134.42 L423.06,134.29 L423.19,134.2 L423.32,134.33 L423.45,134.19 L423.58,134.26 L423.71,134.3 L423.84,134.11 L423.97,134.3 L424.09,133.97 L424.22,134.07 L424.35,134.33 L424.48,134.09 L424.61,134.28 L424.74,134.22 L424.87,134.13 L425,134.41 L425.13,134.19 L425.25,133.96 L425.38,133.91 L425.51,133.91 L425.64,133.45 L425.77,133.58 L425.9,132.74 L426.03,131.33 L426.16,130.6 L426.29,131.88 L426.41,132.79 L426.54,133.76 L426.67,133.71 L426.8,133.97 L426.93,134.33 L427.06,134.43 L427.19,133.94 L427.32,134.29 L427.45,133.97 L427.57,134.09 L427.7,133.88 L427.83,134.29 L427.96,134.01 L428.09,134.06 L428.22,134.53 L428.35,134.34 L428.48,134.15 L428.61,133.85 L428.73,134.21 L428.86,133.72 L428.99,133.91 L429.12,134.11 L429.25,134 L429.38,133.63 L429.51,133.25 L429.64,132.45 L429.77,132.28 L429.89,133.12 L430.02,133.91 L430.15,133.86 L430.28,134.06 L430.41,134.18 L430.54,133.89 L430.67,133.98 L430.8,133.91 L430.92,134.27 L431.05,134.15 L431.18,134 L431.31,134.01 L431.44,134.36 L431.57,134.38 L431.7,134.31 L431.83,134.25 L431.96,134.33 L432.08,134.25 L432.21,134.31 L432.34,134.17 L432.47,134.06 L432.6,134.11 L432.73,134.29 L432.86,134.54 L432.99,134.09 L433.12,134.04 L433.24,134.36 L433.37,134.36 L433.5,134.1 L433.63,134.11 L433.76,134.1 L433.89,134.26 L434.02,134.73 L434.15,134.05 L434.28,134.22 L434.4,134.06 L434.53,134.14 L434.66,134.16 L434.79,134.08 L434.92,133.79 L435.05,133.7 L435.18,133.88 L435.31,133.52 L435.44,133.07 L435.56,132.37 L435.69,130.94 L435.82,130.48 L435.95,130.92 L436.08,132.08 L436.21,132.86 L436.34,133.44 L436.47,134.18 L436.6,133.87 L436.72,134.01 L436.85,134.29 L436.98,134 L437.11,133.85 L437.24,134.02 L437.37,134.08 L437.5,133.87 L437.63,134.12 L437.76,134.19 L437.88,134.54 L438.01,134.32 L438.14,134.21 L438.27,134.1 L438.4,134.06 L438.53,133.86 L438.66,134.15 L438.79,133.77 L438.92,134.13 L439.04,134.42 L439.17,134.03 L439.3,134.13 L439.43,133.82 L439.56,133.51 L439.69,133.63 L439.82,133.04 L439.95,132.48 L440.08,132.42 L440.2,133.2 L440.33,133.5 L440.46,133.94 L440.59,134.16 L440.72,133.97 L440.85,134.05 L440.98,134.33 L441.11,134.25 L441.24,134.14 L441.36,133.92 L441.49,134.15 L441.62,134.47 L441.75,134.13 L441.88,134.18 L442.01,134.06 L442.14,134.2 L442.27,134.21 L442.4,134.26 L442.52,134.09 L442.65,134.01 L442.78,134.57 L442.91,134.22 L443.04,134.03 L443.17,134.13 L443.3,134.22 L443.43,134.29 L443.56,134.09 L443.68,133.87 L443.81,133.84 L443.94,133.14 L444.07,132.58 L444.2,132.47 L444.33,132.78 L444.46,133.38 L444.59,133.64 L444.72,133.73 L444.84,134.08 L444.97,134.1 L445.1,134.44 L445.23,134.01 L445.36,134.18 L445.49,134.13 L445.62,134.04 L445.75,134.52 L445.88,134.45 L446,134.23 L446.13,133.96 L446.26,134.26 L446.39,134.29 L446.52,134.09 L446.65,133.91 L446.78,134.49 L446.91,133.92 L447.03,134.33 L447.16,133.99 L447.29,133.99 L447.42,134.16 L447.55,133.65 L447.68,133.56 L447.81,133.16 L447.94,132.58 L448.07,131.94 L448.19,132.4 L448.32,132.96 L448.45,133.84 L448.58,133.79 L448.71,134.04 L448.84,133.74 L448.97,134.08 L449.1,134.24 L449.23,134.11 L449.35,134.29 L449.48,134.42 L449.61,134.48 L449.74,134.11 L449.87,133.95 L450,133.78 L450.13,134.16 L450.26,133.93 L450.39,134.3 L450.51,133.84 L450.64,134.4 L450.77,134.21 L450.9,133.9 L451.03,134.22 L451.16,134.24 L451.29,134.19 L451.42,134.02 L451.55,133.99 L451.67,133.7 L451.8,133.07 L451.93,132.78 L452.06,132.9 L452.19,133.75 L452.32,133.65 L452.45,133.99 L452.58,133.89 L452.71,134.31 L452.83,134.2 L452.96,134.01 L453.09,134.25 L453.22,134.18 L453.35,134.34 L453.48,134.24 L453.61,134.23 L453.74,134.2 L453.87,133.95 L453.99,134.33 L454.12,134.38 L454.25,134.07 L454.38,134.34 L454.51,134.46" fill="none" stroke="#5a5a5a" stroke-width="1.15" stroke-linejoin="round" stroke-linecap="round" />
<rect x="277.3" y="3" width="177.2" height="137.4" fill="none" stroke="#3c3c3c" stroke-width="1.4" />
<line x1="277.3" y1="140.4" x2="277.3" y2="144.6" stroke="#3c3c3c" stroke-width="1.2" />
<line x1="293.41" y1="140.4" x2="293.41" y2="143" stroke="#3c3c3c" stroke-width="1.2" />
<line x1="309.52" y1="140.4" x2="309.52" y2="144.6" stroke="#3c3c3c" stroke-width="1.2" />
<line x1="325.63" y1="140.4" x2="325.63" y2="143" stroke="#3c3c3c" stroke-width="1.2" />
<line x1="341.74" y1="140.4" x2="341.74" y2="144.6" stroke="#3c3c3c" stroke-width="1.2" />
<line x1="357.85" y1="140.4" x2="357.85" y2="143" stroke="#3c3c3c" stroke-width="1.2" />
<line x1="373.96" y1="140.4" x2="373.96" y2="144.6" stroke="#3c3c3c" stroke-width="1.2" />
<line x1="390.07" y1="140.4" x2="390.07" y2="143" stroke="#3c3c3c" stroke-width="1.2" />
<line x1="406.18" y1="140.4" x2="406.18" y2="144.6" stroke="#3c3c3c" stroke-width="1.2" />
<line x1="422.29" y1="140.4" x2="422.29" y2="143" stroke="#3c3c3c" stroke-width="1.2" />
<line x1="438.4" y1="140.4" x2="438.4" y2="144.6" stroke="#3c3c3c" stroke-width="1.2" />
<line x1="454.51" y1="140.4" x2="454.51" y2="143" stroke="#3c3c3c" stroke-width="1.2" />
<text x="277.3" y="156.9" font-size="10.2" text-anchor="middle" fill="#222" >10</text>
<text x="309.52" y="156.9" font-size="10.2" text-anchor="middle" fill="#222" >20</text>
<text x="341.74" y="156.9" font-size="10.2" text-anchor="middle" fill="#222" >30</text>
<text x="373.96" y="156.9" font-size="10.2" text-anchor="middle" fill="#222" >40</text>
<text x="406.18" y="156.9" font-size="10.2" text-anchor="middle" fill="#222" >50</text>
<text x="438.4" y="156.9" font-size="10.2" text-anchor="middle" fill="#222" >60</text>
<text x="366.2" y="172.9" font-size="12.9" text-anchor="middle" fill="#222" >2<tspan font-style="italic">θ</tspan> (°)</text>
<text transform="translate(266.1,71) rotate(-90)" font-size="12.9" text-anchor="middle" fill="#222" >Intensity (a.u.)</text>
<text x="360.8" y="20.8" font-size="11.7" fill="#222" >PipZnBr<tspan font-size="0.62em" dy="2.2">4</tspan><tspan dy="-2.2">&#8203;</tspan></text>
<text x="360.8" y="37.8" font-size="11.7" fill="#222" >(experimental)</text>
<text x="360.8" y="102" font-size="11.7" fill="#222" >#CCDC</text>
<text x="360.8" y="116.6" font-size="11.7" fill="#222" >PipZnBr<tspan font-size="0.62em" dy="2.2">4</tspan><tspan dy="-2.2">&#8203;</tspan>: 284070</text>
<text x="233.6" y="17.6" font-size="19.5" font-weight="bold" fill="#000" >b</text>
<rect x="627.1" y="3" width="21.5" height="137.4" fill="#BFE3DC" stroke="none" stroke-width="1" />
<line x1="627.1" y1="3" x2="627.1" y2="140.4" stroke="#555" stroke-width="0.8" stroke-dasharray="1 1.2"/>
<line x1="648.6" y1="3" x2="648.6" y2="140.4" stroke="#555" stroke-width="0.8" stroke-dasharray="1 1.2"/>
<path d="M506.45,75.26 L506.6,75.05 L506.75,75.72 L506.9,75.02 L507.05,75.09 L507.2,75.43 L507.35,74.79 L507.5,74.84 L507.65,75 L507.8,74.85 L507.94,74.6 L508.09,74.81 L508.24,74.74 L508.39,74.94 L508.54,74.33 L508.69,74.52 L508.84,74.94 L508.99,75.06 L509.14,74.15 L509.29,74.62 L509.44,74.13 L509.59,74.07 L509.74,73.95 L509.88,73.93 L510.03,74.12 L510.18,73.86 L510.33,73.45 L510.48,73.04 L510.63,72.74 L510.78,72.2 L510.93,71.78 L511.08,70.61 L511.23,69.78 L511.38,68.72 L511.53,67.86 L511.68,67.58 L511.82,67.88 L511.97,69 L512.12,69.65 L512.27,71 L512.42,71.31 L512.57,71.87 L512.72,72.48 L512.87,72.89 L513.02,73.13 L513.17,73.58 L513.32,73.69 L513.47,73.64 L513.61,73.5 L513.76,73.61 L513.91,74.01 L514.06,73.71 L514.21,73.3 L514.36,73.4 L514.51,73.34 L514.66,73.65 L514.81,73.16 L514.96,73.5 L515.11,72.75 L515.26,72.18 L515.4,71.53 L515.55,71.43 L515.7,70.94 L515.85,70.98 L516,71.78 L516.15,72.15 L516.3,72.89 L516.45,72.92 L516.6,72.48 L516.75,73.58 L516.9,73.05 L517.05,74.01 L517.2,74.16 L517.34,73.66 L517.49,73.52 L517.64,73.49 L517.79,74.08 L517.94,73.83 L518.09,73.75 L518.24,73.85 L518.39,74.44 L518.54,74 L518.69,74.1 L518.84,74.11 L518.99,74.17 L519.13,74.18 L519.28,73.73 L519.43,73.85 L519.58,73.7 L519.73,73.71 L519.88,74.16 L520.03,73.74 L520.18,73.84 L520.33,73.68 L520.48,73.69 L520.63,74.03 L520.78,73.71 L520.93,73.69 L521.07,73.92 L521.22,73.91 L521.37,73.97 L521.52,73.8 L521.67,73.31 L521.82,73.89 L521.97,73.85 L522.12,73.97 L522.27,73.49 L522.42,74.31 L522.57,73.36 L522.72,73.84 L522.87,73.66 L523.01,73.51 L523.16,73.82 L523.31,73.53 L523.46,73.01 L523.61,73.28 L523.76,73.68 L523.91,74.11 L524.06,73.16 L524.21,73.51 L524.36,73.87 L524.51,73.64 L524.66,73.38 L524.8,73.1 L524.95,73 L525.1,73.24 L525.25,73.32 L525.4,72.83 L525.55,72.96 L525.7,73.44 L525.85,73.24 L526,73.14 L526.15,73.21 L526.3,73.09 L526.45,73.51 L526.6,73.67 L526.74,73.76 L526.89,73.4 L527.04,73.39 L527.19,73.55 L527.34,73.6 L527.49,73.51 L527.64,73.43 L527.79,72.94 L527.94,72.68 L528.09,73.28 L528.24,73.01 L528.39,72.99 L528.53,72.76 L528.68,72.63 L528.83,73.27 L528.98,73 L529.13,72.59 L529.28,72.91 L529.43,72.85 L529.58,72.86 L529.73,73.25 L529.88,72.63 L530.03,72.26 L530.18,72.53 L530.33,72.3 L530.47,72.53 L530.62,72.38 L530.77,72.35 L530.92,72.06 L531.07,72.25 L531.22,71.98 L531.37,72.2 L531.52,71.98 L531.67,71.78 L531.82,72.2 L531.97,71.92 L532.12,72.49 L532.26,72.28 L532.41,72.32 L532.56,72.26 L532.71,72.26 L532.86,71.7 L533.01,72.63 L533.16,72.14 L533.31,72.6 L533.46,72.22 L533.61,72.35 L533.76,72.34 L533.91,72.14 L534.05,72.36 L534.2,72.52 L534.35,72.29 L534.5,72.08 L534.65,72.25 L534.8,72.45 L534.95,72.66 L535.1,72.58 L535.25,72.43 L535.4,72.1 L535.55,72.57 L535.7,72.34 L535.85,72.26 L535.99,72.53 L536.14,72.45 L536.29,72.4 L536.44,71.98 L536.59,72.1 L536.74,71.81 L536.89,72.27 L537.04,72.21 L537.19,72.42 L537.34,72.22 L537.49,72.06 L537.64,72.66 L537.78,71.86 L537.93,71.76 L538.08,71.92 L538.23,72.19 L538.38,71.95 L538.53,71.9 L538.68,71.71 L538.83,72.33 L538.98,71.78 L539.13,71.64 L539.28,71.85 L539.43,71.65 L539.58,71.76 L539.72,72.12 L539.87,71.64 L540.02,71.7 L540.17,71.58 L540.32,71.57 L540.47,71.78 L540.62,71.65 L540.77,71.37 L540.92,71.15 L541.07,71.26 L541.22,71.41 L541.37,71.09 L541.51,70.94 L541.66,70.36 L541.81,70.88 L541.96,70.04 L542.11,69.82 L542.26,69.7 L542.41,69.36 L542.56,68.79 L542.71,67.86 L542.86,67.04 L543.01,65.8 L543.16,64.18 L543.31,63.29 L543.45,62.34 L543.6,62.61 L543.75,63.27 L543.9,64.79 L544.05,66.02 L544.2,67.2 L544.35,68.18 L544.5,68.75 L544.65,69.07 L544.8,69.86 L544.95,69.61 L545.1,70.08 L545.25,70.49 L545.39,70.35 L545.54,70.72 L545.69,70.44 L545.84,70.58 L545.99,70.91 L546.14,71 L546.29,71.16 L546.44,70.88 L546.59,70.99 L546.74,71.09 L546.89,71.06 L547.04,70.63 L547.18,70.81 L547.33,71.32 L547.48,70.64 L547.63,71.1 L547.78,70.83 L547.93,71.17 L548.08,70.71 L548.23,70.9 L548.38,70.36 L548.53,70.83 L548.68,71.08 L548.83,70.4 L548.98,71.04 L549.12,70.53 L549.27,70.65 L549.42,69.92 L549.57,70.83 L549.72,70.28 L549.87,70.3 L550.02,70.06 L550.17,70.07 L550.32,70.54 L550.47,70.08 L550.62,70.39 L550.77,70.09 L550.91,70.21 L551.06,70 L551.21,70.25 L551.36,70.81 L551.51,70.36 L551.66,70.36 L551.81,70.16 L551.96,70.56 L552.11,70.68 L552.26,69.95 L552.41,70.05 L552.56,70.95 L552.71,70.54 L552.85,70.48 L553,70.6 L553.15,70.74 L553.3,70.67 L553.45,70.42 L553.6,70.99 L553.75,70.47 L553.9,70.25 L554.05,70.32 L554.2,70.42 L554.35,70.35 L554.5,70.38 L554.64,70.5 L554.79,69.58 L554.94,70.2 L555.09,70.61 L555.24,70.5 L555.39,70.17 L555.54,70.17 L555.69,70.59 L555.84,70.22 L555.99,70.13 L556.14,70.7 L556.29,70.12 L556.43,70.36 L556.58,70.15 L556.73,70.14 L556.88,69.86 L557.03,69.85 L557.18,70.34 L557.33,69.7 L557.48,70.01 L557.63,69.59 L557.78,69.77 L557.93,69.76 L558.08,69.29 L558.23,69.91 L558.37,69.49 L558.52,69.74 L558.67,69.09 L558.82,69.41 L558.97,69.6 L559.12,68.88 L559.27,68.42 L559.42,68.41 L559.57,67.96 L559.72,67.4 L559.87,66.83 L560.02,65.94 L560.16,65.2 L560.31,63.74 L560.46,62.11 L560.61,60.91 L560.76,59.33 L560.91,59.49 L561.06,59.28 L561.21,60.47 L561.36,62.09 L561.51,63.81 L561.66,64.77 L561.81,65.59 L561.96,67.06 L562.1,66.9 L562.25,68.03 L562.4,68.02 L562.55,67.99 L562.7,68.88 L562.85,68.57 L563,68.51 L563.15,68.88 L563.3,69.27 L563.45,69.19 L563.6,69.28 L563.75,69.56 L563.89,69.21 L564.04,69.28 L564.19,69.15 L564.34,68.86 L564.49,69.2 L564.64,69.64 L564.79,68.8 L564.94,69.57 L565.09,69.29 L565.24,68.99 L565.39,69.21 L565.54,69.62 L565.69,69.01 L565.83,69.31 L565.98,69.35 L566.13,68.79 L566.28,69.11 L566.43,69 L566.58,68.63 L566.73,68.78 L566.88,68.32 L567.03,68.01 L567.18,67.52 L567.33,67.56 L567.48,67.03 L567.62,66.85 L567.77,66.81 L567.92,67.05 L568.07,67.53 L568.22,68.19 L568.37,68.02 L568.52,68.74 L568.67,68.59 L568.82,68.59 L568.97,68.3 L569.12,69.11 L569.27,68.26 L569.42,68.74 L569.56,69.01 L569.71,68.49 L569.86,68.32 L570.01,68.41 L570.16,68.56 L570.31,68.55 L570.46,68.22 L570.61,67.62 L570.76,67.48 L570.91,67.4 L571.06,66.63 L571.21,66.39 L571.36,66.38 L571.5,64.84 L571.65,64.71 L571.8,63.73 L571.95,63.87 L572.1,64.36 L572.25,64.67 L572.4,65.71 L572.55,66.66 L572.7,66.99 L572.85,67.36 L573,67.27 L573.15,67.64 L573.29,67.89 L573.44,68.14 L573.59,68.4 L573.74,67.88 L573.89,68.61 L574.04,68.16 L574.19,68.2 L574.34,67.98 L574.49,68.29 L574.64,68.26 L574.79,68.01 L574.94,68.25 L575.09,68.35 L575.23,68.21 L575.38,68.5 L575.53,68.04 L575.68,68.5 L575.83,68.21 L575.98,68.33 L576.13,67.76 L576.28,68.23 L576.43,68.15 L576.58,68.37 L576.73,67.81 L576.88,68.41 L577.02,67.76 L577.17,68.31 L577.32,68.08 L577.47,67.69 L577.62,68.35 L577.77,67.44 L577.92,67.61 L578.07,67.61 L578.22,67.58 L578.37,67.38 L578.52,67.37 L578.67,67.1 L578.82,66.78 L578.96,66.27 L579.11,66.08 L579.26,65.96 L579.41,64.91 L579.56,64.53 L579.71,63.09 L579.86,62.28 L580.01,60.61 L580.16,59.69 L580.31,57.35 L580.46,56.72 L580.61,56.95 L580.75,57.91 L580.9,59.5 L581.05,61.18 L581.2,62.43 L581.35,63.64 L581.5,64.29 L581.65,64.96 L581.8,65.04 L581.95,65.91 L582.1,66.49 L582.25,66.23 L582.4,66.31 L582.54,66.78 L582.69,67.16 L582.84,67.27 L582.99,66.67 L583.14,67.22 L583.29,66.99 L583.44,67.27 L583.59,66.66 L583.74,67.48 L583.89,67.16 L584.04,67.32 L584.19,67.23 L584.34,67.01 L584.48,67.39 L584.63,67.13 L584.78,67.06 L584.93,67.37 L585.08,67.16 L585.23,66.97 L585.38,67.34 L585.53,66.9 L585.68,66.98 L585.83,67.1 L585.98,67.07 L586.13,67.02 L586.27,67.01 L586.42,66.45 L586.57,66.04 L586.72,66.39 L586.87,66 L587.02,65.16 L587.17,64.87 L587.32,63.92 L587.47,62.81 L587.62,62.58 L587.77,61.68 L587.92,61.32 L588.07,61.98 L588.21,62.6 L588.36,62.91 L588.51,63.57 L588.66,64.01 L588.81,64.97 L588.96,65.24 L589.11,65.7 L589.26,65.81 L589.41,65.78 L589.56,65.92 L589.71,65.68 L589.86,66.38 L590,65.91 L590.15,66.13 L590.3,65.69 L590.45,65.7 L590.6,65.59 L590.75,65.04 L590.9,64.49 L591.05,64.79 L591.2,63.7 L591.35,63.59 L591.5,63.43 L591.65,63.56 L591.8,64.56 L591.94,64.82 L592.09,65.23 L592.24,64.92 L592.39,65.82 L592.54,66.16 L592.69,66.17 L592.84,66.18 L592.99,66.6 L593.14,66.43 L593.29,66.57 L593.44,66.72 L593.59,66.74 L593.74,66.18 L593.88,66.61 L594.03,66.34 L594.18,66.03 L594.33,66.61 L594.48,66.1 L594.63,66.41 L594.78,65.89 L594.93,66.25 L595.08,66.37 L595.23,66.47 L595.38,66.32 L595.53,66.2 L595.67,66.18 L595.82,66.76 L595.97,66.22 L596.12,66.28 L596.27,66.73 L596.42,65.77 L596.57,65.63 L596.72,65.83 L596.87,65.91 L597.02,65.63 L597.17,65.8 L597.32,65.66 L597.47,65.14 L597.61,65.39 L597.76,64.77 L597.91,65.04 L598.06,64.61 L598.21,64.75 L598.36,64.04 L598.51,63.45 L598.66,63.33 L598.81,63.18 L598.96,63.03 L599.11,63.08 L599.26,64.04 L599.4,64.49 L599.55,64.32 L599.7,64.65 L599.85,64.84 L600,65.41 L600.15,65.62 L600.3,65.23 L600.45,65.46 L600.6,65.5 L600.75,65.75 L600.9,65.95 L601.05,66.07 L601.19,65.76 L601.34,65.62 L601.49,66.02 L601.64,66.05 L601.79,65.83 L601.94,65.97 L602.09,66.02 L602.24,66.16 L602.39,65.96 L602.54,66.06 L602.69,65.99 L602.84,65.7 L602.99,66.11 L603.13,65.96 L603.28,66.19 L603.43,65.63 L603.58,65.74 L603.73,65.99 L603.88,65.47 L604.03,65.86 L604.18,65.77 L604.33,65.77 L604.48,65.8 L604.63,65.3 L604.78,65.86 L604.92,65.86 L605.07,66.09 L605.22,66.18 L605.37,65.89 L605.52,66.02 L605.67,65.18 L605.82,65.91 L605.97,66.04 L606.12,65.96 L606.27,65.79 L606.42,65.63 L606.57,65.62 L606.72,65.7 L606.86,65.79 L607.01,65.82 L607.16,65.64 L607.31,65.34 L607.46,66.09 L607.61,65.41 L607.76,64.94 L607.91,65.96 L608.06,65.84 L608.21,65.62 L608.36,65.8 L608.51,65.66 L608.65,65.33 L608.8,65.55 L608.95,65.2 L609.1,65.33 L609.25,65.26 L609.4,65.51 L609.55,65.72 L609.7,65.28 L609.85,65.54 L610,64.88 L610.15,65.13 L610.3,65.52 L610.45,65.61" fill="none" stroke="#E9865F" stroke-width="1.5" stroke-linejoin="round" stroke-linecap="round" />
<path d="M613.39,62.45 L613.54,62.45 L613.69,61.74 L613.84,61.98 L613.99,61.43 L614.14,61.98 L614.29,62.02 L614.44,61.81 L614.59,61.59 L614.74,61.83 L614.88,61.75 L615.03,61.53 L615.18,61.21 L615.33,61.23 L615.48,61.09 L615.63,60.99 L615.78,60.96 L615.93,60.72 L616.08,60.33 L616.23,60.63 L616.38,60.84 L616.53,60.7 L616.68,60.93 L616.82,60.76 L616.97,61.3 L617.12,61.07 L617.27,60.97 L617.42,61.07 L617.57,60.99 L617.72,60.7 L617.87,60.78 L618.02,60.53 L618.17,60.26 L618.32,60.07 L618.47,59.7 L618.62,60 L618.76,60.04 L618.91,59.91 L619.06,60.62 L619.21,60.48 L619.36,60.4 L619.51,60.75 L619.66,61.01 L619.81,61.15 L619.96,61.08 L620.11,61.38 L620.26,61.08 L620.41,61.39 L620.55,61.65 L620.7,61.39 L620.85,61.73 L621,61.77 L621.15,61.4 L621.3,60.92 L621.45,61.7 L621.6,61.77 L621.75,60.98 L621.9,61.37 L622.05,61.33 L622.2,60.78 L622.35,61 L622.49,61.41 L622.64,61.13 L622.79,61.08 L622.94,61.39 L623.09,60.99 L623.24,60.75 L623.39,61.6 L623.54,61.14 L623.69,61.4 L623.84,61.76 L623.99,61.59 L624.14,61.62 L624.28,61.47 L624.43,61.8 L624.58,62.23 L624.73,61.56 L624.88,61.44 L625.03,61.8 L625.18,61.54 L625.33,61.75 L625.48,61.72 L625.63,61.82 L625.78,61.72 L625.93,61.72 L626.07,61.93 L626.22,61.33 L626.37,61.54 L626.52,61.56 L626.67,61.12 L626.82,61.12 L626.97,61.2 L627.12,61.07 L627.27,61.39 L627.42,61.04 L627.57,61.63 L627.72,60.68 L627.87,60.55 L628.01,61.03 L628.16,60.15 L628.31,60.64 L628.46,59.08 L628.61,59.44 L628.76,59.66 L628.91,59.37 L629.06,58.7 L629.21,57.98 L629.36,57.59 L629.51,57.22 L629.66,56.4 L629.8,55.74 L629.95,54.36 L630.1,53.63 L630.25,52.43 L630.4,51.35 L630.55,48.99 L630.7,46.95 L630.85,44.21 L631,41.32 L631.15,37.8 L631.3,34.53 L631.45,30.29 L631.6,24.92 L631.74,20.44 L631.89,19.86 L632.04,21.95 L632.19,26.67 L632.34,32.82 L632.49,37.9 L632.64,42.28 L632.79,45.1 L632.94,47.98 L633.09,49.58 L633.24,51.62 L633.39,52.16 L633.53,53.56 L633.68,53.87 L633.83,54.23 L633.98,53.99 L634.13,54.52 L634.28,53.71 L634.43,53.49 L634.58,52.98 L634.73,52.89 L634.88,51.26 L635.03,49.6 L635.18,48.11 L635.33,46.6 L635.47,44.11 L635.62,42.68 L635.77,42.49 L635.92,43.64 L636.07,45.57 L636.22,46.73 L636.37,48.09 L636.52,48.92 L636.67,49.51 L636.82,50.31 L636.97,50.01 L637.12,49.54 L637.26,48.24 L637.41,47.52 L637.56,45.96 L637.71,44.68 L637.86,43.3 L638.01,42.45 L638.16,43.04 L638.31,44.25 L638.46,45.69 L638.61,47 L638.76,48.72 L638.91,50.06 L639.06,50.21 L639.2,51.16 L639.35,50.99 L639.5,51.16 L639.65,51.28 L639.8,51.15 L639.95,51.32 L640.1,51.17 L640.25,50.04 L640.4,50.75 L640.55,50.6 L640.7,51.05 L640.85,50.63 L641,51.24 L641.14,51.92 L641.29,52.26 L641.44,52.79 L641.59,52.52 L641.74,52.78 L641.89,53.25 L642.04,52.83 L642.19,53.29 L642.34,53.34 L642.49,53.06 L642.64,52.47 L642.79,52.45 L642.93,52.29 L643.08,52.25 L643.23,52.01 L643.38,51.68 L643.53,51.28 L643.68,51.24 L643.83,51.53 L643.98,51.72 L644.13,52.11 L644.28,52.37 L644.43,53.06 L644.58,53.45 L644.73,54.19 L644.87,54.7 L645.02,55.41 L645.17,55.57 L645.32,56.12 L645.47,56.57 L645.62,57.35 L645.77,57.96 L645.92,58.48 L646.07,58.61 L646.22,58.89 L646.37,59.44 L646.52,59.54 L646.66,59.58 L646.81,60.27 L646.96,60.22 L647.11,60.17 L647.26,60.69 L647.41,60.72 L647.56,61.09 L647.71,61.08 L647.86,61.32 L648.01,61.39 L648.16,61.64 L648.31,61.94 L648.45,61.96 L648.6,62.01 L648.75,62.36 L648.9,61.86 L649.05,62.33 L649.2,62.66 L649.35,62.59 L649.5,62.8 L649.65,62.36 L649.8,62.94 L649.95,62.55 L650.1,63.06 L650.25,62.9 L650.39,63.11 L650.54,62.75 L650.69,62.94 L650.84,62.58 L650.99,63.18 L651.14,63.32 L651.29,63.27 L651.44,63.5 L651.59,63.41 L651.74,63.33 L651.89,63.47 L652.04,63.23 L652.18,63.63 L652.33,63.5 L652.48,63.55 L652.63,63.46 L652.78,63.38 L652.93,63.31 L653.08,63.51 L653.23,63.78 L653.38,63.19 L653.53,63.69 L653.68,64.57 L653.83,63.76 L653.98,63.7 L654.12,63.86 L654.27,63.75 L654.42,63.83 L654.57,63.87 L654.72,63.6 L654.87,64.17 L655.02,63.94 L655.17,64.19 L655.32,63.97 L655.47,64.21 L655.62,63.98 L655.77,64.74 L655.91,64.29 L656.06,64.35 L656.21,64.02 L656.36,63.67 L656.51,63.99 L656.66,64.21 L656.81,64.13 L656.96,63.97 L657.11,63.94 L657.26,63.84 L657.41,64.04 L657.56,64.32 L657.71,64.35 L657.85,64.35 L658,64.16 L658.15,64.27 L658.3,64.23 L658.45,64.35 L658.6,64.33 L658.75,64.42 L658.9,64.24 L659.05,64.27 L659.2,64.64 L659.35,64.63 L659.5,63.8 L659.64,64.41 L659.79,64.42 L659.94,64.55 L660.09,63.83 L660.24,63.94 L660.39,64.26 L660.54,64.4 L660.69,64.1 L660.84,64.67 L660.99,64.66 L661.14,64.58 L661.29,64.63 L661.44,64.15 L661.58,64.41 L661.73,63.88 L661.88,64.7 L662.03,64.75 L662.18,64.58 L662.33,64.24 L662.48,64.51 L662.63,64.75 L662.78,64.22 L662.93,64.59 L663.08,64.72 L663.23,64.36 L663.38,64.42 L663.52,64.86 L663.67,64.77 L663.82,64.94 L663.97,64.66 L664.12,64.37 L664.27,64.6 L664.42,64.47 L664.57,64.57 L664.72,64.76 L664.87,65.03 L665.02,64.7 L665.17,65.13 L665.31,64.36 L665.46,64.65 L665.61,64.71 L665.76,64.19 L665.91,64.32 L666.06,64.65 L666.21,64.76 L666.36,64.85 L666.51,64.77 L666.66,64.69 L666.81,64.43 L666.96,64.79 L667.11,65.18 L667.25,64.9 L667.4,64.63 L667.55,64.84 L667.7,64.92 L667.85,65.14 L668,64.7 L668.15,64.97 L668.3,64.99 L668.45,64.78 L668.6,64.84 L668.75,64.77 L668.9,64.9 L669.04,64.95 L669.19,64.6 L669.34,64.87 L669.49,65.29 L669.64,64.92 L669.79,64.47 L669.94,65.29 L670.09,64.89 L670.24,64.99 L670.39,65.09 L670.54,64.87 L670.69,64.72 L670.84,64.8 L670.98,65.05 L671.13,64.99 L671.28,64.93 L671.43,65.54 L671.58,65.08 L671.73,65.26 L671.88,65.55 L672.03,65.07 L672.18,64.95 L672.33,64.99 L672.48,65.09 L672.63,65.51 L672.77,65.34 L672.92,65.03 L673.07,64.95 L673.22,65.29 L673.37,65.55 L673.52,64.97 L673.67,65.52 L673.82,65.21 L673.97,65.14 L674.12,65.08 L674.27,64.99 L674.42,65.05 L674.56,65.47 L674.71,64.83 L674.86,65.07 L675.01,65.18 L675.16,64.91 L675.31,65.08 L675.46,64.86 L675.61,65.37 L675.76,65.38 L675.91,64.89 L676.06,65.58 L676.21,64.99 L676.36,64.77 L676.5,64.81 L676.65,65.37 L676.8,64.68 L676.95,65.24 L677.1,65.33 L677.25,65.52 L677.4,65.2 L677.55,65.58 L677.7,65.19 L677.85,65.53 L678,65.07 L678.15,65.39 L678.29,65.24 L678.44,65.37 L678.59,65.88 L678.74,65.34 L678.89,65.36 L679.04,65.39 L679.19,65.44 L679.34,64.82 L679.49,65.56 L679.64,65.05 L679.79,64.89 L679.94,65.42 L680.09,65.1 L680.23,65.47 L680.38,65.69 L680.53,65.43 L680.68,65.18 L680.83,65.46 L680.98,65.95 L681.13,65.46 L681.28,65.89 L681.43,65.82 L681.58,65.17 L681.73,65.7 L681.88,65.15 L682.02,65.63 L682.17,65.63 L682.32,65.45 L682.47,65.11 L682.62,65.42 L682.77,65.44 L682.92,65.64 L683.07,65.51 L683.22,65.66" fill="none" stroke="#E9865F" stroke-width="1.5" stroke-linejoin="round" stroke-linecap="round" />
<path d="M506.45,130.01 L506.6,129.75 L506.75,130.06 L506.9,130.33 L507.05,129.88 L507.2,129.84 L507.35,129.65 L507.5,130.4 L507.65,129.81 L507.8,130.22 L507.94,130.03 L508.09,129.96 L508.24,129.99 L508.39,130.33 L508.54,130.28 L508.69,130.03 L508.84,129.82 L508.99,130.18 L509.14,130.01 L509.29,129.87 L509.44,129.92 L509.59,129.63 L509.74,129.9 L509.88,129.66 L510.03,129.62 L510.18,129.39 L510.33,129.59 L510.48,129.59 L510.63,129.15 L510.78,129.43 L510.93,129.38 L511.08,129.47 L511.23,129.35 L511.38,128.92 L511.53,129.2 L511.68,128.98 L511.82,128.78 L511.97,128.63 L512.12,128.95 L512.27,128.94 L512.42,128.71 L512.57,128.9 L512.72,128.8 L512.87,128.77 L513.02,128.78 L513.17,129.13 L513.32,129.09 L513.47,129.11 L513.61,129.07 L513.76,129.01 L513.91,129.12 L514.06,128.53 L514.21,128.9 L514.36,128.34 L514.51,128.3 L514.66,128.05 L514.81,127.6 L514.96,127.09 L515.11,126.04 L515.26,125.53 L515.4,124.25 L515.55,123.11 L515.7,122.72 L515.85,122.93 L516,123.68 L516.15,124.88 L516.3,126.28 L516.45,126.44 L516.6,127.84 L516.75,128.02 L516.9,128.03 L517.05,128.28 L517.2,128.17 L517.34,128.48 L517.49,128.51 L517.64,128.52 L517.79,127.77 L517.94,127.89 L518.09,127.36 L518.24,127.06 L518.39,127.12 L518.54,127.52 L518.69,128.26 L518.84,128.63 L518.99,128.87 L519.13,128.83 L519.28,129.15 L519.43,129.53 L519.58,129.55 L519.73,129.42 L519.88,130.01 L520.03,130.18 L520.18,129.87 L520.33,129.73 L520.48,129.84 L520.63,129.67 L520.78,129.66 L520.93,129.99 L521.07,129.89 L521.22,130.14 L521.37,130.55 L521.52,130.08 L521.67,130 L521.82,130.04 L521.97,130.11 L522.12,130.32 L522.27,130.08 L522.42,130.22 L522.57,129.85 L522.72,129.87 L522.87,130.03 L523.01,130.26 L523.16,129.9 L523.31,130.34 L523.46,129.9 L523.61,130.13 L523.76,130.09 L523.91,130.41 L524.06,129.91 L524.21,129.93 L524.36,130.05 L524.51,130.26 L524.66,130.25 L524.8,129.87 L524.95,129.96 L525.1,129.87 L525.25,130.46 L525.4,130.21 L525.55,130.25 L525.7,129.7 L525.85,130.17 L526,130.08 L526.15,130.32 L526.3,129.81 L526.45,130.42 L526.6,130.27 L526.74,130.26 L526.89,129.91 L527.04,130.54 L527.19,130.2 L527.34,130.22 L527.49,130.16 L527.64,130.1 L527.79,130.19 L527.94,130.19 L528.09,130.38 L528.24,130.27 L528.39,130.02 L528.53,130.2 L528.68,130.35 L528.83,130.03 L528.98,130.14 L529.13,130.38 L529.28,130.25 L529.43,130.06 L529.58,130.28 L529.73,130.35 L529.88,130.3 L530.03,130.2 L530.18,130.53 L530.33,129.89 L530.47,130.23 L530.62,130.29 L530.77,129.98 L530.92,130 L531.07,130.01 L531.22,130.18 L531.37,130.13 L531.52,130.25 L531.67,130.39 L531.82,130.03 L531.97,130.17 L532.12,130.23 L532.26,129.75 L532.41,130.09 L532.56,129.79 L532.71,129.97 L532.86,129.94 L533.01,130.34 L533.16,130 L533.31,129.99 L533.46,130.26 L533.61,130.09 L533.76,129.84 L533.91,130.33 L534.05,130.3 L534.2,130.04 L534.35,129.78 L534.5,129.96 L534.65,129.92 L534.8,130.42 L534.95,129.95 L535.1,130.25 L535.25,130.34 L535.4,130.15 L535.55,130.15 L535.7,130.34 L535.85,130.24 L535.99,129.78 L536.14,130.29 L536.29,129.64 L536.44,129.94 L536.59,130.23 L536.74,129.7 L536.89,130.27 L537.04,130.5 L537.19,130.01 L537.34,129.69 L537.49,130.37 L537.64,129.85 L537.78,129.78 L537.93,129.8 L538.08,129.92 L538.23,129.88 L538.38,130.39 L538.53,129.82 L538.68,129.66 L538.83,129.67 L538.98,129.89 L539.13,130.31 L539.28,129.69 L539.43,129.92 L539.58,130.1 L539.72,129.88 L539.87,129.88 L540.02,129.85 L540.17,129.98 L540.32,129.75 L540.47,130.18 L540.62,129.52 L540.77,130.05 L540.92,130.05 L541.07,129.83 L541.22,129.74 L541.37,130.03 L541.51,129.56 L541.66,129.68 L541.81,129.52 L541.96,129.71 L542.11,129.44 L542.26,129.44 L542.41,129.66 L542.56,129.46 L542.71,129.44 L542.86,129.63 L543.01,128.82 L543.16,128.98 L543.31,128.96 L543.45,129.06 L543.6,128.35 L543.75,128.28 L543.9,128.07 L544.05,127.32 L544.2,126.88 L544.35,126.25 L544.5,125.24 L544.65,124.37 L544.8,123.26 L544.95,122.03 L545.1,121.83 L545.25,122.13 L545.39,122.95 L545.54,123.89 L545.69,125.38 L545.84,125.67 L545.99,126.57 L546.14,127.15 L546.29,126.8 L546.44,127.39 L546.59,127.27 L546.74,127.66 L546.89,127.81 L547.04,127.47 L547.18,127.47 L547.33,127.37 L547.48,126.77 L547.63,126.45 L547.78,125.76 L547.93,125.39 L548.08,124.39 L548.23,123.74 L548.38,122.59 L548.53,121.02 L548.68,120.52 L548.83,120.23 L548.98,120.55 L549.12,121.43 L549.27,122.42 L549.42,123.8 L549.57,124.78 L549.72,125.63 L549.87,126.17 L550.02,127.11 L550.17,127.08 L550.32,127.95 L550.47,128.19 L550.62,128.16 L550.77,128.64 L550.91,129.2 L551.06,128.89 L551.21,128.89 L551.36,129.15 L551.51,129.33 L551.66,129.64 L551.81,129.32 L551.96,129.62 L552.11,129.52 L552.26,129.77 L552.41,129.65 L552.56,129.4 L552.71,129.78 L552.85,129.89 L553,129.65 L553.15,129.3 L553.3,129.55 L553.45,129.76 L553.6,129.91 L553.75,129.68 L553.9,130 L554.05,129.71 L554.2,129.55 L554.35,129.92 L554.5,129.7 L554.64,130.11 L554.79,130.07 L554.94,129.78 L555.09,129.74 L555.24,129.91 L555.39,130.09 L555.54,129.89 L555.69,129.84 L555.84,130.08 L555.99,130 L556.14,129.73 L556.29,129.74 L556.43,129.43 L556.58,129.81 L556.73,129.78 L556.88,129.94 L557.03,129.7 L557.18,129.75 L557.33,129.74 L557.48,129.7 L557.63,129.74 L557.78,129.67 L557.93,130 L558.08,129.72 L558.23,129.81 L558.37,129.78 L558.52,129.47 L558.67,129.25 L558.82,129.39 L558.97,129.51 L559.12,129.54 L559.27,129.21 L559.42,129.56 L559.57,129.3 L559.72,129.45 L559.87,129.01 L560.02,128.52 L560.16,129.07 L560.31,128.91 L560.46,129.08 L560.61,128.43 L560.76,128.19 L560.91,128.13 L561.06,126.79 L561.21,126.48 L561.36,125.64 L561.51,125.14 L561.66,123.79 L561.81,122.42 L561.96,120.25 L562.1,118.73 L562.25,117.77 L562.4,117.74 L562.55,118.8 L562.7,120.75 L562.85,122.14 L563,123.71 L563.15,124.93 L563.3,126.1 L563.45,126.5 L563.6,127.06 L563.75,127.51 L563.89,127.71 L564.04,128.27 L564.19,128.39 L564.34,128.28 L564.49,128.72 L564.64,128.95 L564.79,129.35 L564.94,129.08 L565.09,129.43 L565.24,129.24 L565.39,129.5 L565.54,129.01 L565.69,128.98 L565.83,129.2 L565.98,129.16 L566.13,129.18 L566.28,129.2 L566.43,128.79 L566.58,128.94 L566.73,128.62 L566.88,128.9 L567.03,128.18 L567.18,127.77 L567.33,127.84 L567.48,126.85 L567.62,127.38 L567.77,127.25 L567.92,127.41 L568.07,127.79 L568.22,128.24 L568.37,128.58 L568.52,128.6 L568.67,128.99 L568.82,129.18 L568.97,129.13 L569.12,129.5 L569.27,129.05 L569.42,129.28 L569.56,129.45 L569.71,129.34 L569.86,129.52 L570.01,129.38 L570.16,128.91 L570.31,129.34 L570.46,128.84 L570.61,129.05 L570.76,128.68 L570.91,128.69 L571.06,127.72 L571.21,128 L571.36,127.37 L571.5,127.12 L571.65,126.37 L571.8,125.36 L571.95,123.89 L572.1,122.68 L572.25,121.46 L572.4,121.21 L572.55,121.66 L572.7,122.79 L572.85,124.22 L573,124.95 L573.15,126.14 L573.29,127 L573.44,127.44 L573.59,127.59 L573.74,128.2 L573.89,128.44 L574.04,128.55 L574.19,129 L574.34,129.02 L574.49,129.17 L574.64,129.34 L574.79,129.38 L574.94,129.57 L575.09,129.63 L575.23,129.61 L575.38,129.69 L575.53,129.79 L575.68,129.61 L575.83,129.91 L575.98,129.99 L576.13,129.72 L576.28,130.04 L576.43,129.9 L576.58,129.89 L576.73,130.16 L576.88,129.56 L577.02,129.99 L577.17,129.69 L577.32,129.86 L577.47,129.39 L577.62,129.99 L577.77,130.05 L577.92,129.6 L578.07,130.11 L578.22,129.66 L578.37,129.73 L578.52,129.52 L578.67,129.8 L578.82,129.6 L578.96,129.59 L579.11,129.59 L579.26,129.29 L579.41,129.52 L579.56,129.26 L579.71,129.45 L579.86,128.99 L580.01,128.87 L580.16,128.56 L580.31,128.34 L580.46,127.96 L580.61,127.28 L580.75,126.81 L580.9,127 L581.05,127.19 L581.2,127.8 L581.35,128.04 L581.5,128.53 L581.65,128.8 L581.8,129.04 L581.95,128.98 L582.1,129.52 L582.25,129.31 L582.4,129.17 L582.54,129.4 L582.69,129.53 L582.84,129.56 L582.99,129.75 L583.14,129.59 L583.29,129.77 L583.44,129.93 L583.59,129.59 L583.74,129.65 L583.89,130.07 L584.04,129.89 L584.19,129.98 L584.34,129.78 L584.48,129.81 L584.63,129.78 L584.78,129.65 L584.93,130.02 L585.08,129.57 L585.23,129.66 L585.38,129.56 L585.53,130.14 L585.68,129.59 L585.83,129.98 L585.98,129.48 L586.13,130.13 L586.27,130.21 L586.42,129.68 L586.57,129.97 L586.72,129.4 L586.87,129.54 L587.02,129.85 L587.17,129.58 L587.32,129.43 L587.47,129.5 L587.62,129.33 L587.77,129.25 L587.92,129.51 L588.07,128.88 L588.21,129.07 L588.36,129.1 L588.51,129.18 L588.66,128.92 L588.81,128.66 L588.96,128.15 L589.11,128.98 L589.26,128.04 L589.41,128.07 L589.56,127.37 L589.71,127.42 L589.86,126.49 L590,126.07 L590.15,125.47 L590.3,124.29 L590.45,123.53 L590.6,121.91 L590.75,120.31 L590.9,118.1 L591.05,115.51 L591.2,113.22 L591.35,112.06 L591.5,112.34 L591.65,113.13 L591.8,115.8 L591.94,117.63 L592.09,120.21 L592.24,122.01 L592.39,123.21 L592.54,124.27 L592.69,125.47 L592.84,126.31 L592.99,126.54 L593.14,127.35 L593.29,127.7 L593.44,127.71 L593.59,127.85 L593.74,128.44 L593.88,128.56 L594.03,128.49 L594.18,128.74 L594.33,129.46 L594.48,129.26 L594.63,129.33 L594.78,129.15 L594.93,129.37 L595.08,129.65 L595.23,129.3 L595.38,129.42 L595.53,129.5 L595.67,129.51 L595.82,129.77 L595.97,129.53 L596.12,129.75 L596.27,129.8 L596.42,129.82 L596.57,129.84 L596.72,129.53 L596.87,129.57 L597.02,129.49 L597.17,129.9 L597.32,129.99 L597.47,129.99 L597.61,130.22 L597.76,129.87 L597.91,130.15 L598.06,129.98 L598.21,130.13 L598.36,129.82 L598.51,129.96 L598.66,129.82 L598.81,129.77 L598.96,129.57 L599.11,130.2 L599.26,130.09 L599.4,130.59 L599.55,130.04 L599.7,130.11 L599.85,129.84 L600,130.27 L600.15,129.92 L600.3,130.48 L600.45,130.55 L600.6,129.68 L600.75,129.93 L600.9,129.81 L601.05,129.91 L601.19,129.83 L601.34,130.16 L601.49,130.35 L601.64,130.11 L601.79,130.37 L601.94,130.19 L602.09,130.32 L602.24,130.41 L602.39,129.94 L602.54,130.45 L602.69,129.94 L602.84,129.92 L602.99,130.29 L603.13,129.94 L603.28,129.91 L603.43,130.28 L603.58,130.07 L603.73,130.01 L603.88,129.97 L604.03,129.94 L604.18,130.17 L604.33,130.09 L604.48,130 L604.63,130.55 L604.78,130.26 L604.92,129.88 L605.07,130.19 L605.22,129.99 L605.37,130.03 L605.52,130.52 L605.67,130.4 L605.82,130.2 L605.97,130.36 L606.12,129.85 L606.27,130.29 L606.42,130.3 L606.57,130 L606.72,129.81 L606.86,130.26 L607.01,130.2 L607.16,130.13 L607.31,130.16 L607.46,130.17 L607.61,130.33 L607.76,130.45 L607.91,130.06 L608.06,130.41 L608.21,130.06 L608.36,130.01 L608.51,130.1 L608.65,130.28 L608.8,130.25 L608.95,130.15 L609.1,129.94 L609.25,130.35 L609.4,130.09 L609.55,130.15 L609.7,129.99 L609.85,130.51 L610,130.07 L610.15,129.88 L610.3,130.32 L610.45,130.15" fill="none" stroke="#8a8a8a" stroke-width="1.5" stroke-linejoin="round" stroke-linecap="round" />
<path d="M613.02,129.05 L613.17,128.93 L613.32,128.29 L613.47,128.46 L613.62,128.82 L613.77,128.29 L613.92,128.1 L614.06,127.98 L614.21,127.76 L614.36,127.21 L614.51,127.01 L614.66,126.54 L614.81,125.87 L614.96,125.11 L615.11,124.34 L615.26,123.05 L615.41,121.22 L615.56,119.18 L615.71,117.18 L615.85,115.16 L616,114.49 L616.15,114.75 L616.3,116.34 L616.45,118.06 L616.6,119.69 L616.75,120.8 L616.9,121.6 L617.05,121.59 L617.2,121.81 L617.35,121.64 L617.5,120.6 L617.65,120.19 L617.79,118.8 L617.94,117.32 L618.09,115.35 L618.24,112.89 L618.39,110.13 L618.54,108.12 L618.69,107.23 L618.84,107.78 L618.99,109.59 L619.14,112.12 L619.29,114.76 L619.44,116.35 L619.58,117.48 L619.73,118.35 L619.88,119.28 L620.03,119.71 L620.18,120.34 L620.33,119.66 L620.48,119.99 L620.63,119.89 L620.78,119.55 L620.93,118.54 L621.08,118.21 L621.23,117.22 L621.38,116.07 L621.52,114.53 L621.67,112.3 L621.82,109.97 L621.97,106.44 L622.12,102.33 L622.27,97.94 L622.42,93.48 L622.57,90.14 L622.72,88.36 L622.87,90.21 L623.02,93.46 L623.17,98.22 L623.31,102.73 L623.46,107.08 L623.61,110.44 L623.76,113.27 L623.91,115.13 L624.06,116.89 L624.21,117.92 L624.36,119.15 L624.51,120.36 L624.66,120.47 L624.81,121.2 L624.96,121.79 L625.11,122.09 L625.25,122.18 L625.4,122.32 L625.55,122.33 L625.7,122.95 L625.85,122.46 L626,122.76 L626.15,122.62 L626.3,122.75 L626.45,122.59 L626.6,122.8 L626.75,122.94 L626.9,122.61 L627.04,122.67 L627.19,122.64 L627.34,122.46 L627.49,122.81 L627.64,122.2 L627.79,122.19 L627.94,122.39 L628.09,122.14 L628.24,121.95 L628.39,122.07 L628.54,121.23 L628.69,121.52 L628.84,121.46 L628.98,120.64 L629.13,121.06 L629.28,120.07 L629.43,119.44 L629.58,118.66 L629.73,117.53 L629.88,116.61 L630.03,114.15 L630.18,111.91 L630.33,109.16 L630.48,105.17 L630.63,99.65 L630.77,93.59 L630.92,85.66 L631.07,78.57 L631.22,74 L631.37,74.25 L631.52,79.06 L631.67,86.62 L631.82,94.43 L631.97,101.21 L632.12,106.32 L632.27,110.66 L632.42,114.36 L632.57,116.78 L632.71,118.81 L632.86,120.04 L633.01,120.87 L633.16,122.7 L633.31,123.95 L633.46,123.81 L633.61,124.9 L633.76,125.39 L633.91,125.39 L634.06,126.46 L634.21,126.59 L634.36,126.7 L634.5,127.23 L634.65,127.31 L634.8,127.77 L634.95,128.12 L635.1,127.89 L635.25,128.23 L635.4,128.61 L635.55,128.12 L635.7,128.51 L635.85,128.41 L636,128.88 L636.15,128.59 L636.3,128.98 L636.44,128.89 L636.59,129.13 L636.74,129.05 L636.89,128.77 L637.04,128.92 L637.19,129.57 L637.34,129.64 L637.49,129.37 L637.64,129.54 L637.79,129.31 L637.94,129.37 L638.09,129.29 L638.23,129.58 L638.38,130.04 L638.53,129.48 L638.68,129.93 L638.83,129.89 L638.98,129.94 L639.13,129.51 L639.28,129.64 L639.43,130.11 L639.58,129.56 L639.73,129.91 L639.88,129.89 L640.03,129.96 L640.17,130.17 L640.32,129.91 L640.47,130.24 L640.62,130.22 L640.77,129.72 L640.92,130.08 L641.07,130 L641.22,130.1 L641.37,129.95 L641.52,130.09 L641.67,130.39 L641.82,130.15 L641.96,129.9 L642.11,130.17 L642.26,130.28 L642.41,129.83 L642.56,130.05 L642.71,130.05 L642.86,130.31 L643.01,130.09 L643.16,130.11 L643.31,130.24 L643.46,130.27 L643.61,130.07 L643.76,130.55 L643.9,130.24 L644.05,130.3 L644.2,130.07 L644.35,130.03 L644.5,129.85 L644.65,129.63 L644.8,130.3 L644.95,130.02 L645.1,129.8 L645.25,129.93 L645.4,130.12 L645.55,129.96 L645.69,130.13 L645.84,129.56 L645.99,129.83 L646.14,129.75 L646.29,130.03 L646.44,129.81 L646.59,129.79 L646.74,129.86 L646.89,129.66 L647.04,129.16 L647.19,129.67 L647.34,129.44 L647.49,129.19 L647.63,129.2 L647.78,129.34 L647.93,129.04 L648.08,128.72 L648.23,128.7 L648.38,128.25 L648.53,128.31 L648.68,127.99 L648.83,127.82 L648.98,127.08 L649.13,126.82 L649.28,127.29 L649.42,126.25 L649.57,125.75 L649.72,125.28 L649.87,124.4 L650.02,123.66 L650.17,122.21 L650.32,121.32 L650.47,119.83 L650.62,117.68 L650.77,115.62 L650.92,113.64 L651.07,110.58 L651.22,107.87 L651.36,105.72 L651.51,103.99 L651.66,103.2 L651.81,104.28 L651.96,105.82 L652.11,107.68 L652.26,109.82 L652.41,111.25 L652.56,112.29 L652.71,113.95 L652.86,114.19 L653.01,114.55 L653.15,115.37 L653.3,115.86 L653.45,116.65 L653.6,117.62 L653.75,118.3 L653.9,119.65 L654.05,120.41 L654.2,121.19 L654.35,122.07 L654.5,122.95 L654.65,123.71 L654.8,124.24 L654.95,125.16 L655.09,125.21 L655.24,126.09 L655.39,126.56 L655.54,126.93 L655.69,127.42 L655.84,127.37 L655.99,127.95 L656.14,127.66 L656.29,128.08 L656.44,128.22 L656.59,128.79 L656.74,128.36 L656.88,129.15 L657.03,129.11 L657.18,129.11 L657.33,129.06 L657.48,129.38 L657.63,130 L657.78,129.18 L657.93,129.59 L658.08,129.87 L658.23,129.92 L658.38,129.97 L658.53,129.87 L658.68,130.01 L658.82,129.85 L658.97,130.32 L659.12,130.03 L659.27,130.09 L659.42,130.4 L659.57,130.23 L659.72,130.51 L659.87,130.24 L660.02,130.23 L660.17,130.34 L660.32,130.36 L660.47,130.38 L660.61,130.56 L660.76,130.57 L660.91,130.52 L661.06,130.69 L661.21,130.67 L661.36,130.78 L661.51,130.58 L661.66,130.57 L661.81,130.66 L661.96,131.04 L662.11,131 L662.26,130.76 L662.41,130.56 L662.55,130.88 L662.7,131.04 L662.85,131.13 L663,130.92 L663.15,130.56 L663.3,130.59 L663.45,130.7 L663.6,131.06 L663.75,130.74 L663.9,130.95 L664.05,130.55 L664.2,131.02 L664.34,130.97 L664.49,130.73 L664.64,130.84 L664.79,130.8 L664.94,130.94 L665.09,130.82 L665.24,130.75 L665.39,130.87 L665.54,130.79 L665.69,131 L665.84,130.86 L665.99,130.78 L666.14,130.79 L666.28,130.85 L666.43,130.94 L666.58,130.93 L666.73,130.76 L666.88,130.88 L667.03,130.96 L667.18,131.13 L667.33,131.24 L667.48,131.02 L667.63,131.25 L667.78,131.33 L667.93,131.12 L668.07,131.4 L668.22,130.72 L668.37,131.08 L668.52,130.98 L668.67,130.95 L668.82,130.86 L668.97,130.85 L669.12,131.09 L669.27,130.89 L669.42,131.04 L669.57,130.87 L669.72,131.51 L669.87,131.09 L670.01,130.86 L670.16,130.73 L670.31,130.56 L670.46,130.87 L670.61,131.22 L670.76,130.94 L670.91,130.96 L671.06,131.27 L671.21,131.01 L671.36,131.11 L671.51,131.03 L671.66,131.2 L671.8,131.08 L671.95,130.93 L672.1,130.98 L672.25,131.3 L672.4,131.23 L672.55,131.22 L672.7,131.44 L672.85,130.99 L673,131.28 L673.15,130.75 L673.3,131.17 L673.45,131.01 L673.6,131.1 L673.74,131.01 L673.89,131.48 L674.04,131.13 L674.19,131.34 L674.34,131.03 L674.49,131.18 L674.64,131.08 L674.79,130.98 L674.94,131.1 L675.09,131.26 L675.24,131.45 L675.39,131.17 L675.53,130.9 L675.68,131.38 L675.83,131.06 L675.98,131.29 L676.13,130.94 L676.28,131.17 L676.43,131.24 L676.58,131.17 L676.73,131.36 L676.88,130.99 L677.03,131.42 L677.18,130.9 L677.33,131.49 L677.47,131.4 L677.62,131.29 L677.77,130.87 L677.92,131.29 L678.07,131.06 L678.22,131.06 L678.37,131.19 L678.52,131.52 L678.67,131.11 L678.82,130.85 L678.97,130.96 L679.12,131.27 L679.26,131.03 L679.41,131.1 L679.56,131.52 L679.71,131.14 L679.86,131.12 L680.01,130.91 L680.16,130.89 L680.31,130.96 L680.46,131.21 L680.61,131.5 L680.76,131.03 L680.91,131.2 L681.06,131.29 L681.2,130.9 L681.35,131.11 L681.5,130.98 L681.65,131.2 L681.8,131.01 L681.95,131.03 L682.1,130.77 L682.25,131.16 L682.4,131.21 L682.55,131.31 L682.7,131.15 L682.85,131.5 L682.99,130.88 L683.14,131.06" fill="none" stroke="#8a8a8a" stroke-width="1.5" stroke-linejoin="round" stroke-linecap="round" />
<path d="M610.3,140.4 L506.4,140.4 L506.4,3.0 L683.3,3.0 L683.3,140.4 L613.6,140.4" fill="none" stroke="#3c3c3c" stroke-width="1.4"/>
<line x1="609.3" y1="143.6" x2="611.6" y2="137.2" stroke="#3c3c3c" stroke-width="1.1" />
<line x1="612.3" y1="143.6" x2="614.6" y2="137.2" stroke="#3c3c3c" stroke-width="1.1" />
<line x1="521" y1="140.4" x2="521" y2="144.6" stroke="#3c3c3c" stroke-width="1.2" />
<line x1="539.65" y1="140.4" x2="539.65" y2="143" stroke="#3c3c3c" stroke-width="1.2" />
<line x1="558.3" y1="140.4" x2="558.3" y2="144.6" stroke="#3c3c3c" stroke-width="1.2" />
<line x1="576.95" y1="140.4" x2="576.95" y2="143" stroke="#3c3c3c" stroke-width="1.2" />
<line x1="595.6" y1="140.4" x2="595.6" y2="144.6" stroke="#3c3c3c" stroke-width="1.2" />
<line x1="616.75" y1="140.4" x2="616.75" y2="143" stroke="#3c3c3c" stroke-width="1.2" />
<line x1="635.4" y1="140.4" x2="635.4" y2="144.6" stroke="#3c3c3c" stroke-width="1.2" />
<line x1="654.05" y1="140.4" x2="654.05" y2="143" stroke="#3c3c3c" stroke-width="1.2" />
<line x1="672.7" y1="140.4" x2="672.7" y2="144.6" stroke="#3c3c3c" stroke-width="1.2" />
<text x="521" y="157" font-size="10.2" text-anchor="middle" fill="#222" >500</text>
<text x="558.3" y="157" font-size="10.2" text-anchor="middle" fill="#222" >1000</text>
<text x="595.6" y="157" font-size="10.2" text-anchor="middle" fill="#222" >1500</text>
<text x="635.4" y="157" font-size="10.2" text-anchor="middle" fill="#222" >3000</text>
<text x="672.7" y="157" font-size="10.2" text-anchor="middle" fill="#222" >3500</text>
<text x="594.8" y="172.9" font-size="12.8" text-anchor="middle" fill="#222" >Raman shift (cm<tspan font-size="0.65em" dy="-4.3">−1</tspan><tspan dy="4.3">&#8203;</tspan>)</text>
<text transform="translate(495.2,71) rotate(-90)" font-size="12.9" text-anchor="middle" fill="#222" >Intensity (a.u.)</text>
<text x="507.9" y="24.2" font-size="10.7" fill="#222" letter-spacing="-0.38">C<tspan font-size="0.9em">−</tspan>N<tspan font-size="0.9em">−</tspan>C</text>
<text x="521.2" y="40" font-size="10.7" fill="#222" letter-spacing="-0.38">C<tspan font-size="0.9em">−</tspan>C<tspan font-size="0.9em">−</tspan>N</text>
<text x="530.9" y="59.3" font-size="10.7" fill="#222" letter-spacing="-0.38">N<tspan font-size="0.9em">−</tspan>H</text>
<text x="565.1" y="24.2" font-size="10.7" fill="#222" letter-spacing="-0.38">C<tspan font-size="0.9em">−</tspan>N</text>
<text x="567.8" y="39.2" font-size="10.7" fill="#222" letter-spacing="-0.38"><tspan font-size="0.9em">−</tspan>CH<tspan font-size="0.65em" dy="2.2">2</tspan><tspan dy="-2.2">&#8203;</tspan></text>
<text x="596.9" y="39.2" font-size="10.7" fill="#222" letter-spacing="-0.38"><tspan font-size="0.9em">−</tspan>NH<tspan font-size="0.65em" dy="2.2">2</tspan><tspan dy="-2.2">&#8203;</tspan><tspan font-size="0.65em" dy="-4">+</tspan><tspan dy="4">&#8203;</tspan></text>
<text x="628.2" y="13" font-size="10.7" fill="#222" letter-spacing="-0.38">C<tspan font-size="0.9em">−</tspan>H</text>
<line x1="519.8" y1="26.4" x2="513" y2="59.63" stroke="#111" stroke-width="0.95" /><path d="M511.7,66 L511.34,58.78 L514.87,59.5 Z" fill="#111" stroke="none" stroke-width="1" />
<line x1="527.5" y1="44" x2="518.83" y2="62.7" stroke="#111" stroke-width="0.95" /><path d="M516.1,68.6 L517.41,61.49 L520.68,63.01 Z" fill="#111" stroke="none" stroke-width="1" />
<line x1="566.7" y1="24.6" x2="562.33" y2="51.68" stroke="#111" stroke-width="0.95" /><path d="M561.3,58.1 L560.64,50.9 L564.19,51.48 Z" fill="#111" stroke="none" stroke-width="1" />
<line x1="578.2" y1="44" x2="573.77" y2="57.14" stroke="#111" stroke-width="0.95" /><path d="M571.7,63.3 L572.23,56.09 L575.64,57.24 Z" fill="#111" stroke="none" stroke-width="1" />
<line x1="582.6" y1="44" x2="581.77" y2="48.13" stroke="#111" stroke-width="0.95" /><path d="M580.5,54.5 L580.11,47.28 L583.64,47.99 Z" fill="#111" stroke="none" stroke-width="1" />
<line x1="586.5" y1="44" x2="588.99" y2="54.38" stroke="#111" stroke-width="0.95" /><path d="M590.5,60.7 L587.12,54.31 L590.62,53.47 Z" fill="#111" stroke="none" stroke-width="1" />
<line x1="607.2" y1="44.9" x2="601.72" y2="55.79" stroke="#111" stroke-width="0.95" /><path d="M598.8,61.6 L600.34,54.54 L603.55,56.16 Z" fill="#111" stroke="none" stroke-width="1" />
<text x="508.3" y="86.1" font-size="11.1" fill="#222" >PipZnBr<tspan font-size="0.62em" dy="2.2">4</tspan><tspan dy="-2.2">&#8203;</tspan>(experimental)</text>
<text x="508.3" y="111.3" font-size="11.1" fill="#222" >Pure piperazine</text>
<text x="465.2" y="15" font-size="19.5" font-weight="bold" fill="#000" >c</text>
<line x1="298.6" y1="235.1" x2="436.4" y2="342.8" stroke="#2b2b2b" stroke-width="1.3" />
<circle cx="298.6" cy="222.3" r="4.25" fill="url(#ball)"/>
<circle cx="308.1" cy="234.8" r="4.25" fill="url(#ball)"/>
<circle cx="317.9" cy="256.6" r="4.25" fill="url(#ball)"/>
<circle cx="328.1" cy="267.4" r="4.25" fill="url(#ball)"/>
<circle cx="338.7" cy="271.6" r="4.25" fill="url(#ball)"/>
<circle cx="349.2" cy="276.9" r="4.25" fill="url(#ball)"/>
<circle cx="360.8" cy="288.8" r="4.25" fill="url(#ball)"/>
<circle cx="372" cy="295.3" r="4.25" fill="url(#ball)"/>
<circle cx="384" cy="302.5" r="4.25" fill="url(#ball)"/>
<circle cx="396.3" cy="311.1" r="4.25" fill="url(#ball)"/>
<circle cx="409.2" cy="318.4" r="4.25" fill="url(#ball)"/>
<circle cx="422.7" cy="327.2" r="4.25" fill="url(#ball)"/>
<circle cx="436.1" cy="342.5" r="4.25" fill="url(#ball)"/>
<line x1="298.6" y1="235.1" x2="436.4" y2="342.8" stroke="#2b2b2b" stroke-width="1.3" />
<rect x="277.4" y="211.4" width="177.2" height="136" fill="none" stroke="#111" stroke-width="1.1" />
<line x1="272.8" y1="211.4" x2="277.4" y2="211.4" stroke="#111" stroke-width="1.0" />
<line x1="274.7" y1="222.73" x2="277.4" y2="222.73" stroke="#111" stroke-width="1.0" />
<line x1="272.8" y1="234.07" x2="277.4" y2="234.07" stroke="#111" stroke-width="1.0" />
<line x1="274.7" y1="245.4" x2="277.4" y2="245.4" stroke="#111" stroke-width="1.0" />
<line x1="272.8" y1="256.73" x2="277.4" y2="256.73" stroke="#111" stroke-width="1.0" />
<line x1="274.7" y1="268.06" x2="277.4" y2="268.06" stroke="#111" stroke-width="1.0" />
<line x1="272.8" y1="279.4" x2="277.4" y2="279.4" stroke="#111" stroke-width="1.0" />
<line x1="274.7" y1="290.73" x2="277.4" y2="290.73" stroke="#111" stroke-width="1.0" />
<line x1="272.8" y1="302.06" x2="277.4" y2="302.06" stroke="#111" stroke-width="1.0" />
<line x1="274.7" y1="313.4" x2="277.4" y2="313.4" stroke="#111" stroke-width="1.0" />
<line x1="272.8" y1="324.73" x2="277.4" y2="324.73" stroke="#111" stroke-width="1.0" />
<line x1="274.7" y1="336.06" x2="277.4" y2="336.06" stroke="#111" stroke-width="1.0" />
<line x1="272.8" y1="347.4" x2="277.4" y2="347.4" stroke="#111" stroke-width="1.0" />
<text x="270.3" y="215.1" font-size="10.7" text-anchor="end" fill="#111" >-2.8</text>
<text x="270.3" y="237.77" font-size="10.7" text-anchor="end" fill="#111" >-3.0</text>
<text x="270.3" y="260.43" font-size="10.7" text-anchor="end" fill="#111" >-3.2</text>
<text x="270.3" y="283.1" font-size="10.7" text-anchor="end" fill="#111" >-3.4</text>
<text x="270.3" y="305.76" font-size="10.7" text-anchor="end" fill="#111" >-3.6</text>
<text x="270.3" y="328.43" font-size="10.7" text-anchor="end" fill="#111" >-3.8</text>
<text x="270.3" y="351.1" font-size="10.7" text-anchor="end" fill="#111" >-4.0</text>
<line x1="277.4" y1="347.4" x2="277.4" y2="352" stroke="#111" stroke-width="1.0" />
<line x1="287.82" y1="347.4" x2="287.82" y2="350.1" stroke="#111" stroke-width="1.0" />
<line x1="298.25" y1="347.4" x2="298.25" y2="352" stroke="#111" stroke-width="1.0" />
<line x1="308.67" y1="347.4" x2="308.67" y2="350.1" stroke="#111" stroke-width="1.0" />
<line x1="319.1" y1="347.4" x2="319.1" y2="352" stroke="#111" stroke-width="1.0" />
<line x1="329.52" y1="347.4" x2="329.52" y2="350.1" stroke="#111" stroke-width="1.0" />
<line x1="339.95" y1="347.4" x2="339.95" y2="352" stroke="#111" stroke-width="1.0" />
<line x1="350.38" y1="347.4" x2="350.38" y2="350.1" stroke="#111" stroke-width="1.0" />
<line x1="360.8" y1="347.4" x2="360.8" y2="352" stroke="#111" stroke-width="1.0" />
<line x1="371.23" y1="347.4" x2="371.23" y2="350.1" stroke="#111" stroke-width="1.0" />
<line x1="381.65" y1="347.4" x2="381.65" y2="352" stroke="#111" stroke-width="1.0" />
<line x1="392.08" y1="347.4" x2="392.08" y2="350.1" stroke="#111" stroke-width="1.0" />
<line x1="402.5" y1="347.4" x2="402.5" y2="352" stroke="#111" stroke-width="1.0" />
<line x1="412.92" y1="347.4" x2="412.92" y2="350.1" stroke="#111" stroke-width="1.0" />
<line x1="423.35" y1="347.4" x2="423.35" y2="352" stroke="#111" stroke-width="1.0" />
<line x1="433.77" y1="347.4" x2="433.77" y2="350.1" stroke="#111" stroke-width="1.0" />
<line x1="444.2" y1="347.4" x2="444.2" y2="352" stroke="#111" stroke-width="1.0" />
<text x="277.4" y="362.8" font-size="10.7" text-anchor="middle" fill="#111" >2.9</text>
<text x="298.25" y="362.8" font-size="10.7" text-anchor="middle" fill="#111" >3.0</text>
<text x="319.1" y="362.8" font-size="10.7" text-anchor="middle" fill="#111" >3.1</text>
<text x="339.95" y="362.8" font-size="10.7" text-anchor="middle" fill="#111" >3.2</text>
<text x="360.8" y="362.8" font-size="10.7" text-anchor="middle" fill="#111" >3.3</text>
<text x="381.65" y="362.8" font-size="10.7" text-anchor="middle" fill="#111" >3.4</text>
<text x="402.5" y="362.8" font-size="10.7" text-anchor="middle" fill="#111" >3.5</text>
<text x="423.35" y="362.8" font-size="10.7" text-anchor="middle" fill="#111" >3.6</text>
<text x="444.2" y="362.8" font-size="10.7" text-anchor="middle" fill="#111" >3.7</text>
<line x1="277.4" y1="211.4" x2="277.4" y2="214.8" stroke="#111" stroke-width="1.0" />
<line x1="288.47" y1="211.4" x2="288.47" y2="213.6" stroke="#111" stroke-width="1.0" />
<line x1="299.55" y1="211.4" x2="299.55" y2="214.8" stroke="#111" stroke-width="1.0" />
<line x1="310.62" y1="211.4" x2="310.62" y2="213.6" stroke="#111" stroke-width="1.0" />
<line x1="321.7" y1="211.4" x2="321.7" y2="214.8" stroke="#111" stroke-width="1.0" />
<line x1="332.77" y1="211.4" x2="332.77" y2="213.6" stroke="#111" stroke-width="1.0" />
<line x1="343.85" y1="211.4" x2="343.85" y2="214.8" stroke="#111" stroke-width="1.0" />
<line x1="354.93" y1="211.4" x2="354.93" y2="213.6" stroke="#111" stroke-width="1.0" />
<line x1="366" y1="211.4" x2="366" y2="214.8" stroke="#111" stroke-width="1.0" />
<line x1="377.07" y1="211.4" x2="377.07" y2="213.6" stroke="#111" stroke-width="1.0" />
<line x1="388.15" y1="211.4" x2="388.15" y2="214.8" stroke="#111" stroke-width="1.0" />
<line x1="399.23" y1="211.4" x2="399.23" y2="213.6" stroke="#111" stroke-width="1.0" />
<line x1="410.3" y1="211.4" x2="410.3" y2="214.8" stroke="#111" stroke-width="1.0" />
<line x1="421.38" y1="211.4" x2="421.38" y2="213.6" stroke="#111" stroke-width="1.0" />
<line x1="432.45" y1="211.4" x2="432.45" y2="214.8" stroke="#111" stroke-width="1.0" />
<line x1="443.53" y1="211.4" x2="443.53" y2="213.6" stroke="#111" stroke-width="1.0" />
<line x1="454.6" y1="211.4" x2="454.6" y2="214.8" stroke="#111" stroke-width="1.0" />
<text x="277.4" y="206.2" font-size="10.7" text-anchor="middle" fill="#111" >70</text>
<text x="299.55" y="206.2" font-size="10.7" text-anchor="middle" fill="#111" >60</text>
<text x="321.7" y="206.2" font-size="10.7" text-anchor="middle" fill="#111" >50</text>
<text x="343.85" y="206.2" font-size="10.7" text-anchor="middle" fill="#111" >40</text>
<text x="366" y="206.2" font-size="10.7" text-anchor="middle" fill="#111" >30</text>
<text x="388.15" y="206.2" font-size="10.7" text-anchor="middle" fill="#111" >20</text>
<text x="410.3" y="206.2" font-size="10.7" text-anchor="middle" fill="#111" >10</text>
<text x="432.45" y="206.2" font-size="10.7" text-anchor="middle" fill="#111" >0</text>
<text x="454.6" y="206.2" font-size="10.7" text-anchor="middle" fill="#111" >-10</text>
<text x="366.6" y="193.8" font-size="12.0" text-anchor="middle" fill="#111" >T (°C)</text>
<text x="365.5" y="378.5" font-size="12.9" text-anchor="middle" fill="#111" >1000/T (K<tspan font-size="0.65em" dy="-4.2">−1</tspan><tspan dy="4.2">&#8203;</tspan>)</text>
<text transform="translate(244.4,279.4) rotate(-90)" font-size="13.0" text-anchor="middle" fill="#111" >Log[σ(S cm<tspan font-size="0.65em" dy="-4.2">−1</tspan><tspan dy="4.2">&#8203;</tspan>)]</text>
<circle cx="402.8" cy="223.7" r="4.25" fill="url(#ball)"/>
<text x="419.7" y="227.8" font-size="11.7" fill="#111" >Log[σ]</text>
<line x1="394.5" y1="237.9" x2="411.3" y2="237.9" stroke="#2b2b2b" stroke-width="1.2" />
<text x="419.7" y="242.2" font-size="11.7" fill="#111" >Fitting</text>
<text x="396" y="259.3" font-size="11.7" fill="#111" >R<tspan font-size="0.65em" dy="-3.6">2</tspan><tspan dy="3.6">&#8203;</tspan> = 0.97</text>
<text x="283.1" y="338.6" font-size="11.7" fill="#111" ><tspan font-style="italic">E</tspan><tspan font-size="0.65em" dy="2">a</tspan><tspan dy="-2">&#8203;</tspan> = 0.13 eV</text>
<text x="234.5" y="194.7" font-size="19.5" font-weight="bold" fill="#000" >e</text>
<line x1="526.3" y1="280" x2="671.5" y2="280" stroke="#7CC8EE" stroke-width="1.3" stroke-dasharray="3.2 2.4"/>
<line x1="525.4" y1="308.2" x2="553.5" y2="272.1" stroke="#7CC8EE" stroke-width="1.3" stroke-dasharray="3.2 2.4"/>
<line x1="642.4" y1="290.6" x2="671.8" y2="236" stroke="#7CC8EE" stroke-width="1.3" stroke-dasharray="3.2 2.4"/>
<path d="M535.1,347 C535.11,342.47 535.1,339.33 535.15,330 C535.2,320.67 535.15,320.27 535.3,312 C535.45,303.73 535.35,303.67 535.7,299 C536.05,294.33 535.85,296.77 536.6,294.5 C537.35,292.23 537.19,292.71 538.5,290.5 C539.81,288.29 539.77,288.2 541.5,286.2 C543.23,284.2 543,284.33 545,283 C547,281.67 546.87,281.89 549,281.2 C551.13,280.51 550.07,280.69 553,280.4 C555.93,280.11 556,280.13 560,280.1 C564,280.07 564,280.01 568,280.3 C572,280.59 571.53,280.8 575,281.2 C578.47,281.6 577.8,281.77 581,281.8 C584.2,281.83 583.8,281.73 587,281.3 C590.2,280.87 590.07,280.68 593,280.2 C595.93,279.72 595.39,279.85 598,279.5 C600.61,279.15 601.52,279.06 602.8,278.9" fill="none" stroke="#6e6e6e" stroke-width="1.5" stroke-linecap="round"/>
<path d="M606.4,279.1 C608.69,279.05 610.04,279.09 615,278.9 C619.96,278.71 620.47,278.69 625,278.4 C629.53,278.11 628.8,278.17 632,277.8 C635.2,277.43 634.73,277.48 637,277 C639.27,276.52 638.9,276.64 640.5,276 C642.1,275.36 641.53,275.72 643,274.6 C644.47,273.48 644.27,273.64 646,271.8 C647.73,269.96 647.63,269.7 649.5,267.7 C651.37,265.7 651.13,266.27 653,264.3 C654.87,262.33 654.77,262.57 656.5,260.3 C658.23,258.03 658.03,258.15 659.5,255.8 C660.97,253.45 660.8,253.9 662,251.5 C663.2,249.1 663.12,249.04 664,246.8 C664.88,244.56 664.95,244.09 665.3,243.1" fill="none" stroke="#E9865F" stroke-width="1.6" stroke-linecap="round"/>
<path d="M603.3,347.0 L506.4,347.0 L506.4,209.5 L683.4,209.5 L683.4,347.0 L606.5,347.0" fill="none" stroke="#111" stroke-width="1.1"/>
<line x1="601.9" y1="350.8" x2="604.7" y2="343.2" stroke="#111" stroke-width="1.0" />
<line x1="605" y1="350.8" x2="607.8" y2="343.2" stroke="#111" stroke-width="1.0" />
<line x1="501.8" y1="209.6" x2="506.4" y2="209.6" stroke="#111" stroke-width="1.0" />
<line x1="503.7" y1="226.78" x2="506.4" y2="226.78" stroke="#111" stroke-width="1.0" />
<line x1="501.8" y1="243.95" x2="506.4" y2="243.95" stroke="#111" stroke-width="1.0" />
<line x1="503.7" y1="261.12" x2="506.4" y2="261.12" stroke="#111" stroke-width="1.0" />
<line x1="501.8" y1="278.3" x2="506.4" y2="278.3" stroke="#111" stroke-width="1.0" />
<line x1="503.7" y1="295.48" x2="506.4" y2="295.48" stroke="#111" stroke-width="1.0" />
<line x1="501.8" y1="312.65" x2="506.4" y2="312.65" stroke="#111" stroke-width="1.0" />
<line x1="503.7" y1="329.83" x2="506.4" y2="329.83" stroke="#111" stroke-width="1.0" />
<line x1="501.8" y1="347" x2="506.4" y2="347" stroke="#111" stroke-width="1.0" />
<text x="498" y="213.3" font-size="10.7" text-anchor="end" fill="#111" >0.4</text>
<text x="498" y="247.65" font-size="10.7" text-anchor="end" fill="#111" >0.2</text>
<text x="498" y="282" font-size="10.7" text-anchor="end" fill="#111" >0.0</text>
<text x="498" y="316.35" font-size="10.7" text-anchor="end" fill="#111" >-0.2</text>
<text x="498" y="350.7" font-size="10.7" text-anchor="end" fill="#111" >-0.4</text>
<line x1="506.4" y1="347" x2="506.4" y2="351.6" stroke="#111" stroke-width="1.0" />
<line x1="525.55" y1="347" x2="525.55" y2="349.7" stroke="#111" stroke-width="1.0" />
<line x1="544.7" y1="347" x2="544.7" y2="351.6" stroke="#111" stroke-width="1.0" />
<line x1="564.1" y1="347" x2="564.1" y2="349.7" stroke="#111" stroke-width="1.0" />
<line x1="583.5" y1="347" x2="583.5" y2="351.6" stroke="#111" stroke-width="1.0" />
<line x1="625.7" y1="347" x2="625.7" y2="351.6" stroke="#111" stroke-width="1.0" />
<line x1="645.05" y1="347" x2="645.05" y2="349.7" stroke="#111" stroke-width="1.0" />
<line x1="664.4" y1="347" x2="664.4" y2="351.6" stroke="#111" stroke-width="1.0" />
<text x="506.4" y="362.7" font-size="10.7" text-anchor="middle" fill="#111" >-2.0</text>
<text x="544.7" y="362.7" font-size="10.7" text-anchor="middle" fill="#111" >-1.5</text>
<text x="583.5" y="362.7" font-size="10.7" text-anchor="middle" fill="#111" >-1.0</text>
<text x="625.7" y="362.7" font-size="10.7" text-anchor="middle" fill="#111" >2.0</text>
<text x="664.4" y="362.7" font-size="10.7" text-anchor="middle" fill="#111" >2.5</text>
<text x="595" y="378.5" font-size="12.8" text-anchor="middle" fill="#111" >Potential (V vs. Zn/Zn<tspan font-size="0.65em" dy="-4.2">2+</tspan><tspan dy="4.2">&#8203;</tspan>)</text>
<text transform="translate(474.1,285.7) rotate(-90)" font-size="13.0" text-anchor="middle" fill="#111" >Current density (mA cm<tspan font-size="0.65em" dy="-4.2">−2</tspan><tspan dy="4.2">&#8203;</tspan>)</text>
<text x="515.7" y="267.7" font-size="12.7" fill="#111" >−1.46 V</text>
<text x="626.6" y="305.5" font-size="12.9" fill="#111" >2.28 V</text>
<text x="467.7" y="199" font-size="19.5" font-weight="bold" fill="#000" >f</text>
<path d="M55.62,474 L55.79,475.29 L55.96,476.48 L56.13,477.55 L56.29,478.54 L56.46,479.44 L56.63,480.26 L56.8,481.01 L56.97,481.7 L57.13,482.34 L57.3,482.92 L57.47,483.45 L57.64,483.94 L57.8,484.39 L57.97,484.81 L58.14,485.19 L58.31,485.55 L58.47,485.87 L58.64,486.18 L58.81,486.46 L58.98,486.72 L59.15,486.97 L59.31,487.2 L59.48,487.41 L59.65,487.61 L59.82,487.79 L59.98,487.97 L60.15,488.14 L60.32,488.29 L60.99,488.83 L61.66,489.27 L62.33,489.65 L63,489.97 L63.67,490.25 L64.35,490.5 L65.02,490.73 L65.69,490.93 L66.36,491.13 L67.03,491.31 L67.7,491.48 L68.37,491.63 L69.04,491.78 L69.71,491.92 L70.39,492.05 L71.06,492.18 L71.73,492.3 L72.4,492.41 L73.07,492.51 L73.74,492.61 L74.41,492.71 L75.08,492.8 L75.75,492.89 L76.42,492.97 L77.09,493.05 L77.77,493.12 L78.44,493.2 L79.11,493.26 L79.78,493.33 L80.45,493.39 L81.12,493.45 L81.79,493.51 L82.46,493.57 L83.13,493.62 L83.81,493.67 L84.48,493.72 L85.15,493.77 L85.82,493.81 L86.49,493.85 L87.16,493.9 L87.83,493.94 L88.5,493.98 L89.17,494.01 L89.84,494.05 L90.52,494.09 L91.19,494.12 L91.86,494.16 L92.53,494.19 L93.2,494.22 L93.87,494.25 L94.54,494.28 L95.21,494.31 L95.88,494.34 L96.55,494.37 L97.22,494.39 L97.9,494.42 L98.57,494.44 L99.24,494.47 L99.91,494.49 L100.58,494.52 L101.25,494.54 L101.92,494.57 L102.59,494.59 L103.26,494.61 L103.94,494.63 L104.61,494.65 L105.28,494.67 L105.95,494.7 L106.62,494.72 L107.29,494.74 L107.96,494.76 L108.63,494.77 L109.3,494.79 L109.97,494.81 L110.65,494.83 L111.32,494.85 L111.99,494.87 L112.66,494.88 L113.33,494.9 L114,494.92 L114.67,494.94 L115.34,494.95 L116.01,494.97 L116.68,494.99 L117.35,495 L118.03,495.02 L118.7,495.03 L119.37,495.05 L120.04,495.06 L120.71,495.08 L121.38,495.09 L122.05,495.11 L122.72,495.12 L123.39,495.14 L124.06,495.15 L124.74,495.17 L125.41,495.18 L126.08,495.2 L126.75,495.21 L127.42,495.22 L128.09,495.24 L128.76,495.25 L129.43,495.26 L130.1,495.28 L130.78,495.29 L131.45,495.3 L132.12,495.31 L132.79,495.33 L133.46,495.34 L134.13,495.35 L134.8,495.36 L135.47,495.37 L136.14,495.39 L136.81,495.4 L137.49,495.41 L138.16,495.42 L138.83,495.43 L139.5,495.44 L140.17,495.46 L140.84,495.47 L141.51,495.48 L142.18,495.49 L142.85,495.5 L143.52,495.51 L144.19,495.52 L144.87,495.53 L145.54,495.54 L146.21,495.55 L146.88,495.56 L147.55,495.57 L148.22,495.58 L148.89,495.59 L149.56,495.6 L150.23,495.61 L150.91,495.62 L151.58,495.63 L152.25,495.64 L152.92,495.65 L153.59,495.66 L154.26,495.67 L154.93,495.68 L155.6,495.69 L156.27,495.7 L156.94,495.7 L157.62,495.71 L158.29,495.72 L158.96,495.73 L159.63,495.74 L160.3,495.75 L160.97,495.76 L161.64,495.76 L162.31,495.77 L162.98,495.78 L163.65,495.79 L164.33,495.8 L165,495.81 L165.67,495.81 L166.34,495.82 L167.01,495.83 L167.68,495.84 L168.35,495.84 L169.02,495.85 L169.69,495.86 L170.36,495.87 L171.03,495.87 L171.71,495.88 L172.38,495.89 L173.05,495.9 L173.72,495.9 L174.39,495.91 L175.06,495.92 L175.73,495.92 L176.4,495.93 L177.07,495.94 L177.75,495.94 L178.42,495.95 L179.09,495.96 L179.76,495.96 L180.43,495.97 L181.1,495.98 L181.77,495.98 L182.44,495.99 L183.11,495.99 L183.78,496 L184.46,496.01 L185.13,496.01 L185.8,496.02 L186.47,496.02 L187.14,496.03 L187.81,496.04 L188.48,496.04 L189.15,496.05 L189.82,496.05 L190.49,496.06 L191.17,496.07 L191.84,496.07 L192.51,496.08 L193.18,496.08 L193.85,496.09 L194.52,496.09 L195.19,496.1 L195.86,496.1 L196.53,496.11 L197.2,496.11 L197.88,496.12 L198.55,496.12 L199.22,496.13 L199.89,496.13 L200.56,496.14 L201.23,496.14 L201.9,496.15 L202.57,496.15 L203.24,496.16 L203.91,496.16 L204.59,496.17 L205.26,496.17 L205.93,496.18 L206.6,496.18 L207.27,496.18 L207.94,496.19 L208.61,496.19 L209.28,496.2 L209.95,496.2 L210.62,496.21 L211.3,496.21" fill="none" stroke="#E9865F" stroke-width="1.7" stroke-linejoin="round" stroke-linecap="round" />
<rect x="152.2" y="417.2" width="63.9" height="63.1" fill="#E9F4E4" stroke="#222" stroke-width="1.0" />
<path d="M170.7,480 C171.58,479.36 172.05,478.85 174,477.6 C175.95,476.35 175.33,476.79 178,475.3 C180.67,473.81 180.8,473.33 184,472 C187.2,470.67 186.53,470.94 190,470.3 C193.47,469.66 193.27,469.95 197,469.6 C200.73,469.25 200.8,469.32 204,469 C207.2,468.68 206.39,468.77 209,468.4 C211.61,468.03 212.52,467.81 213.8,467.6" fill="none" stroke="#444" stroke-width="1.7" stroke-linecap="round"/>
<path d="M169.5,479.8 C170.3,479.48 170.77,479.16 172.5,478.6 C174.23,478.04 174.13,477.91 176,477.7 C177.87,477.49 177.77,477.48 179.5,477.8 C181.23,478.12 181.03,478.39 182.5,478.9 C183.97,479.41 183.53,479.62 185,479.7 C186.47,479.78 185.95,479.55 188,479.2 C190.05,478.85 191.45,478.61 192.7,478.4" fill="none" stroke="#E8323C" stroke-width="1.8" stroke-linecap="round"/>
<line x1="148.6" y1="417.2" x2="152.2" y2="417.2" stroke="#222" stroke-width="0.9" />
<line x1="150" y1="432.6" x2="152.2" y2="432.6" stroke="#222" stroke-width="0.9" />
<line x1="148.6" y1="448" x2="152.2" y2="448" stroke="#222" stroke-width="0.9" />
<line x1="150" y1="464.15" x2="152.2" y2="464.15" stroke="#222" stroke-width="0.9" />
<line x1="148.6" y1="480.3" x2="152.2" y2="480.3" stroke="#222" stroke-width="0.9" />
<line x1="152.2" y1="480.3" x2="152.2" y2="483.9" stroke="#222" stroke-width="0.9" />
<line x1="168.05" y1="480.3" x2="168.05" y2="482.5" stroke="#222" stroke-width="0.9" />
<line x1="183.9" y1="480.3" x2="183.9" y2="483.9" stroke="#222" stroke-width="0.9" />
<line x1="200" y1="480.3" x2="200" y2="482.5" stroke="#222" stroke-width="0.9" />
<line x1="216.1" y1="480.3" x2="216.1" y2="483.9" stroke="#222" stroke-width="0.9" />
<text x="147.6" y="420.7" font-size="9.9" text-anchor="end" fill="#222" >200</text>
<text x="147.6" y="451.5" font-size="9.9" text-anchor="end" fill="#222" >100</text>
<text x="147.6" y="483.8" font-size="9.9" text-anchor="end" fill="#222" >0</text>
<text x="150.2" y="493.8" font-size="10" text-anchor="middle" fill="#222" >0</text>
<text x="184.2" y="493.8" font-size="10" text-anchor="middle" fill="#222" >100</text>
<text x="213.2" y="493.8" font-size="10" text-anchor="middle" fill="#222" >200</text>
<text x="159.3" y="413.7" font-size="11.1" fill="#222" >Z<tspan font-size="0.62em" dy="2">Re</tspan><tspan dy="-2">&#8203;</tspan> (Ohm)</text>
<text transform="translate(128,449) rotate(-90)" font-size="11.1" text-anchor="middle" fill="#222" >Z<tspan font-size="0.62em" dy="2">Im</tspan><tspan dy="-2">&#8203;</tspan> (Ohm)</text>
<text x="157.5" y="433.6" font-size="9.4" fill="#5c5c5c" >Before I-t test</text>
<text x="154.3" y="456" font-size="9.4" fill="#E8323C" >After I-t test</text>
<line x1="208" y1="438.3" x2="206.6" y2="461.51" stroke="#5f7fa6" stroke-width="0.9" /><path d="M206.3,466.5 L205.03,460.91 L208.23,461.11 Z" fill="#5f7fa6" stroke="none" stroke-width="1" />
<line x1="162.4" y1="460.3" x2="168.12" y2="471.45" stroke="#E8323C" stroke-width="0.9" /><path d="M170.4,475.9 L166.47,471.74 L169.31,470.28 Z" fill="#E8323C" stroke="none" stroke-width="1" />
<rect x="46.9" y="393.5" width="177.4" height="137.5" fill="none" stroke="#222" stroke-width="1.2" />
<line x1="42.3" y1="393.09" x2="46.9" y2="393.09" stroke="#222" stroke-width="1.1" />
<line x1="44.2" y1="416.07" x2="46.9" y2="416.07" stroke="#222" stroke-width="1.1" />
<line x1="42.3" y1="439.06" x2="46.9" y2="439.06" stroke="#222" stroke-width="1.1" />
<line x1="44.2" y1="462.05" x2="46.9" y2="462.05" stroke="#222" stroke-width="1.1" />
<line x1="42.3" y1="485.03" x2="46.9" y2="485.03" stroke="#222" stroke-width="1.1" />
<line x1="44.2" y1="508.01" x2="46.9" y2="508.01" stroke="#222" stroke-width="1.1" />
<line x1="42.3" y1="531" x2="46.9" y2="531" stroke="#222" stroke-width="1.1" />
<text x="40.2" y="397.19" font-size="11.8" text-anchor="end" fill="#222" >0.09</text>
<text x="40.2" y="443.16" font-size="11.8" text-anchor="end" fill="#222" >0.06</text>
<text x="40.2" y="489.13" font-size="11.8" text-anchor="end" fill="#222" >0.03</text>
<text x="40.2" y="535.1" font-size="11.8" text-anchor="end" fill="#222" >0.00</text>
<line x1="46.9" y1="531" x2="46.9" y2="535.6" stroke="#222" stroke-width="1.1" />
<line x1="63.67" y1="531" x2="63.67" y2="533.7" stroke="#222" stroke-width="1.1" />
<line x1="80.45" y1="531" x2="80.45" y2="535.6" stroke="#222" stroke-width="1.1" />
<line x1="97.22" y1="531" x2="97.22" y2="533.7" stroke="#222" stroke-width="1.1" />
<line x1="114" y1="531" x2="114" y2="535.6" stroke="#222" stroke-width="1.1" />
<line x1="130.78" y1="531" x2="130.78" y2="533.7" stroke="#222" stroke-width="1.1" />
<line x1="147.55" y1="531" x2="147.55" y2="535.6" stroke="#222" stroke-width="1.1" />
<line x1="164.33" y1="531" x2="164.33" y2="533.7" stroke="#222" stroke-width="1.1" />
<line x1="181.1" y1="531" x2="181.1" y2="535.6" stroke="#222" stroke-width="1.1" />
<line x1="197.88" y1="531" x2="197.88" y2="533.7" stroke="#222" stroke-width="1.1" />
<line x1="214.65" y1="531" x2="214.65" y2="535.6" stroke="#222" stroke-width="1.1" />
<text x="46.9" y="549.3" font-size="11.8" text-anchor="middle" fill="#222" >200</text>
<text x="80.45" y="549.3" font-size="11.8" text-anchor="middle" fill="#222" >300</text>
<text x="114" y="549.3" font-size="11.8" text-anchor="middle" fill="#222" >400</text>
<text x="147.55" y="549.3" font-size="11.8" text-anchor="middle" fill="#222" >500</text>
<text x="181.1" y="549.3" font-size="11.8" text-anchor="middle" fill="#222" >600</text>
<text x="214.65" y="549.3" font-size="11.8" text-anchor="middle" fill="#222" >700</text>
<text x="135.9" y="564.5" font-size="13.0" text-anchor="middle" fill="#222" >Time (s)</text>
<text transform="translate(13.9,478.1) rotate(-90)" font-size="13.0" text-anchor="middle" fill="#222" >Current density (mA cm<tspan font-size="0.65em" dy="-4.2">-2</tspan><tspan dy="4.2">&#8203;</tspan>)</text>
<text x="49.2" y="406.6" font-size="11.7" fill="#222" >Zn|PipZnBr<tspan font-size="0.62em" dy="2.2">4</tspan><tspan dy="-2.2">&#8203;</tspan>|Zn cell</text>
<text x="51" y="439.2" font-size="11.7" fill="#222" >Bias voltage</text>
<text x="51" y="453.3" font-size="11.7" fill="#222" >= 50 mV</text>
<text x="51.9" y="510.2" font-size="11.7" fill="#222" ><tspan font-style="italic">I</tspan><tspan font-size="0.62em" dy="2.2">0</tspan><tspan dy="-2.2">&#8203;</tspan> = 0.0372 mA</text>
<text x="51.9" y="525.2" font-size="11.7" fill="#222" ><tspan font-style="italic">I</tspan><tspan font-size="0.62em" dy="2.2">S</tspan><tspan dy="-2.2">&#8203;</tspan> = 0.0224 mA</text>
<text x="165.4" y="518.7" font-size="11.7" fill="#222" >t<tspan font-size="0.62em" dy="2.2">Zn</tspan><tspan font-size="0.38em" dy="-2.6">2+</tspan><tspan dy="0.4"> = 0.61</tspan></text>
<text x="3" y="394.6" font-size="20.8" font-weight="bold" fill="#000" >g</text>
<line x1="295" y1="473" x2="295" y2="503.2" stroke="#7CC8EE" stroke-width="1.3" stroke-dasharray="2.8 2.2"/>
<path d="M280.8,472.82 L280.85,475.77 L280.89,478.3 L280.94,480.48 L280.98,482.37 L281.03,484 L281.07,485.41 L281.12,486.63 L281.17,487.69 L281.21,488.61 L281.26,489.41 L281.3,490.11 L281.35,490.73 L281.39,491.27 L281.44,491.74 L281.49,492.16 L281.53,492.54 L281.58,492.87 L281.62,493.16 L281.67,493.43 L281.71,493.67 L281.76,493.89 L281.81,494.08 L281.85,494.27 L281.9,494.43 L281.94,494.58 L281.99,494.73 L282.03,494.86 L282.08,494.98 L282.13,495.1 L282.17,495.21 L282.22,495.31 L282.26,495.41 L282.31,495.5 L282.35,495.59 L282.4,495.68 L282.45,495.76 L282.49,495.84 L282.54,495.92 L282.58,495.99 L282.63,496.07 L282.67,496.14 L282.72,496.2 L282.77,496.27 L282.81,496.34 L282.86,496.4 L282.9,496.46 L282.95,496.52 L282.99,496.58 L283.04,496.64 L283.09,496.69 L283.13,496.75 L283.18,496.8 L283.22,496.85 L283.27,496.91 L283.31,496.96 L283.36,497.01 L283.41,497.05 L283.45,497.1 L283.5,497.15 L283.54,497.2 L283.59,497.24 L283.63,497.28 L283.68,497.33 L283.73,497.37 L283.77,497.41 L283.82,497.45 L283.86,497.5 L283.91,497.54 L283.95,497.57 L284,497.61 L284.05,497.65 L284.09,497.69 L284.14,497.72 L284.18,497.76 L284.23,497.8 L284.27,497.83 L284.32,497.86 L284.37,497.9 L284.41,497.93 L284.46,497.96 L285.01,498.31 L285.55,498.6 L286.1,498.85 L286.65,499.05 L287.2,499.22 L287.75,499.37 L288.3,499.5 L288.84,499.61 L289.39,499.71 L289.94,499.81 L290.49,499.89 L291.04,499.96 L291.59,500.03 L292.14,500.1 L292.68,500.16 L293.23,500.22 L293.78,500.27 L294.33,500.32 L294.88,500.37 L295.43,500.42 L295.97,500.46 L296.52,500.5 L297.07,500.54 L297.62,500.58 L298.17,500.62 L298.72,500.66 L299.27,500.69 L299.81,500.73 L300.36,500.76 L300.91,500.79 L301.46,500.82 L302.01,500.85 L302.56,500.88 L303.11,500.91 L303.65,500.93 L304.2,500.96 L304.75,500.98 L305.3,501.01 L305.85,501.03 L306.4,501.05 L306.94,501.08 L307.49,501.1 L308.04,501.12 L308.59,501.14 L309.14,501.16 L309.69,501.18 L310.24,501.2 L310.78,501.21 L311.33,501.23 L311.88,501.25 L312.43,501.27 L312.98,501.28 L313.53,501.3 L314.08,501.31 L314.62,501.33 L315.17,501.34 L315.72,501.36 L316.27,501.37 L316.82,501.38 L317.37,501.4 L317.91,501.41 L318.46,501.42 L319.01,501.43 L319.56,501.45 L320.11,501.46 L320.66,501.47 L321.21,501.48 L321.75,501.49 L322.3,501.5 L322.85,501.51 L323.4,501.52 L323.95,501.53 L324.5,501.54 L325.04,501.55 L325.59,501.56 L326.14,501.57 L326.69,501.58 L327.24,501.59 L327.79,501.6 L328.34,501.61 L328.88,501.61 L329.43,501.62 L329.98,501.63 L330.53,501.64 L331.08,501.65 L331.63,501.65 L332.18,501.66 L332.72,501.67 L333.27,501.68 L333.82,501.68 L334.37,501.69 L334.92,501.7 L335.47,501.7 L336.01,501.71 L336.56,501.72 L337.11,501.72 L337.66,501.73 L338.21,501.74 L338.76,501.74 L339.31,501.75 L339.85,501.76 L340.4,501.76 L340.95,501.77 L341.5,501.77 L342.05,501.78 L342.6,501.79 L343.15,501.79 L343.69,501.8 L344.24,501.8 L344.79,501.81 L345.34,501.81 L345.89,501.82 L346.44,501.82 L346.98,501.83 L347.53,501.83 L348.08,501.84 L348.63,501.84 L349.18,501.85 L349.73,501.85 L350.28,501.86 L350.82,501.86 L351.37,501.87 L351.92,501.87 L352.47,501.88 L353.02,501.88 L353.57,501.89 L354.11,501.89 L354.66,501.9 L355.21,501.9 L355.76,501.9 L356.31,501.91 L356.86,501.91 L357.41,501.92 L357.95,501.92 L358.5,501.93 L359.05,501.93 L359.6,501.93 L360.15,501.94 L360.7,501.94 L361.25,501.95 L361.79,501.95 L362.34,501.95 L362.89,501.96 L363.44,501.96 L363.99,501.97 L364.54,501.97 L365.08,501.97 L365.63,501.98 L366.18,501.98 L366.73,501.98 L367.28,501.99 L367.83,501.99 L368.38,501.99 L368.92,502 L369.47,502 L370.02,502 L370.57,502.01 L371.12,502.01 L371.67,502.01 L372.22,502.02 L372.76,502.02 L373.31,502.02 L373.86,502.03 L374.41,502.03 L374.96,502.03 L375.51,502.04 L376.05,502.04 L376.6,502.04 L377.15,502.05 L377.7,502.05 L378.25,502.05 L378.8,502.06 L379.35,502.06 L379.89,502.06 L380.44,502.06 L380.99,502.07 L381.54,502.07 L382.09,502.07 L382.64,502.08 L383.18,502.08 L383.73,502.08 L384.28,502.08 L384.83,502.09 L385.38,502.09 L385.93,502.09 L386.48,502.1 L387.02,502.1 L387.57,502.1 L388.12,502.1 L388.67,502.11 L389.22,502.11 L389.77,502.11 L390.32,502.11 L390.86,502.12 L391.41,502.12 L391.96,502.12 L392.51,502.12 L393.06,502.13 L393.61,502.13 L394.15,502.13 L394.7,502.13 L395.25,502.14 L395.8,502.14 L396.35,502.14 L396.9,502.14 L397.45,502.15 L397.99,502.15 L398.54,502.15 L399.09,502.15 L399.64,502.15 L400.19,502.16 L400.74,502.16 L401.28,502.16 L401.83,502.16 L402.38,502.17 L402.93,502.17 L403.48,502.17 L404.03,502.17 L404.58,502.17 L405.12,502.18 L405.67,502.18 L406.22,502.18 L406.77,502.18 L407.32,502.18 L407.87,502.19 L408.42,502.19 L408.96,502.19 L409.51,502.19 L410.06,502.19 L410.61,502.2 L411.16,502.2 L411.71,502.2 L412.25,502.2 L412.8,502.2 L413.35,502.21 L413.9,502.21 L414.45,502.21 L415,502.21 L415.55,502.21 L416.09,502.21 L416.64,502.22 L417.19,502.22 L417.74,502.22 L418.29,502.22 L418.84,502.22 L419.39,502.22 L419.93,502.23 L420.48,502.23 L421.03,502.23 L421.58,502.23 L422.13,502.23 L422.68,502.23 L423.22,502.24 L423.77,502.24 L424.32,502.24 L424.87,502.24 L425.42,502.24 L425.97,502.24 L426.52,502.25 L427.06,502.25 L427.61,502.25 L428.16,502.25 L428.71,502.25 L429.26,502.25 L429.81,502.25 L430.35,502.26 L430.9,502.26 L431.45,502.26 L432,502.26 L432.55,502.26 L433.1,502.26 L433.65,502.26 L434.19,502.27 L434.74,502.27 L435.29,502.27 L435.84,502.27 L436.39,502.27 L436.94,502.27 L437.49,502.27 L438.03,502.28 L438.58,502.28 L439.13,502.28 L439.68,502.28 L440.23,502.28 L440.78,502.28 L441.32,502.28 L441.87,502.28 L442.42,502.29 L442.97,502.29 L443.52,502.29 L444.07,502.29 L444.62,502.29 L445.16,502.29 L445.71,502.29 L446.26,502.29 L446.81,502.3 L447.36,502.3 L447.91,502.3 L448.46,502.3 L449,502.3 L449.55,502.3 L450.1,502.3 L450.65,502.3 L451.2,502.3 L451.75,502.31 L452.29,502.31 L452.84,502.31 L453.39,502.31 L453.94,502.31 L454.1,502.31 L454.1,502.31" fill="none" stroke="#E9865F" stroke-width="1.6" stroke-linejoin="round" stroke-linecap="round" />
<rect x="329" y="400.2" width="120" height="62" fill="#EEF0EF" stroke="#F0C9A8" stroke-width="0.8" />
<rect x="329" y="461.7" width="120" height="27.1" fill="#6AAAD8" stroke="none" stroke-width="1" />
<rect x="327.6" y="397.9" width="123.3" height="92.6" fill="none" stroke="#444" stroke-width="0.8" stroke-dasharray="1.6 1.3"/>
<circle cx="359" cy="454.7" r="7.3" fill="#B9DBEE" stroke="#E8B48C" stroke-width="0.7" stroke-dasharray="1 0.8"/>
<circle cx="374" cy="454.7" r="7.5" fill="#62A4D6"/>
<circle cx="388.7" cy="454.7" r="7.5" fill="#62A4D6"/>
<circle cx="403.7" cy="454.7" r="7.5" fill="#62A4D6"/>
<circle cx="418.7" cy="454.7" r="7.3" fill="#B9DBEE" stroke="#E8B48C" stroke-width="0.7" stroke-dasharray="1 0.8"/>
<circle cx="369.6" cy="423.9" r="7.5" fill="#5C9FD4"/>
<text x="369.6" y="427" font-size="8.6" text-anchor="middle" fill="#10283f" >Zn</text>
<circle cx="409.5" cy="423.9" r="7.5" fill="#5C9FD4"/>
<text x="409.5" y="427" font-size="8.6" text-anchor="middle" fill="#10283f" >Zn</text>
<path d="M358.3,421.8 C345.5,422 337.8,428.5 336.6,437.5 C336,444 339.5,449.3 345,452.4 L343.4,455.6 L353.6,453.2 L349.6,443.8 L347.9,447.2 C343.8,444.6 341,441.2 341.2,437 C342,430.5 347.5,425.8 358.3,425.6 Z" fill="#F8D9C0" stroke="#EDAE84" stroke-width="0.8" stroke-linejoin="round"/>
<path d="M419.4,421.8 C432.2,422 439.9,428.5 441.1,437.5 C441.7,444 438.2,449.3 432.7,452.4 L434.3,455.6 L424.1,453.2 L428.1,443.8 L429.8,447.2 C433.9,444.6 436.7,441.2 436.5,437 C435.7,430.5 430.2,425.8 419.4,425.6 Z" fill="#F8D9C0" stroke="#EDAE84" stroke-width="0.8" stroke-linejoin="round"/>
<text x="344.4" y="412.4" font-size="12.5" fill="#222" >Solid electrolyte</text>
<text x="353.7" y="480.2" font-size="12.5" fill="#1a1a1a" >Zn electrode</text>
<text x="281.7" y="469.1" font-size="11.7" fill="#222" >2D</text>
<line x1="294.2" y1="474.7" x2="287.2" y2="474.7" stroke="#111" stroke-width="1.1" /><path d="M282.2,474.7 L287.7,472.8 L287.7,476.6 Z" fill="#111" stroke="none" stroke-width="1" />
<text x="301" y="489.1" font-size="11.7" fill="#222" >3D</text>
<line x1="298" y1="494.4" x2="318.1" y2="494.4" stroke="#111" stroke-width="1.1" /><path d="M324.6,494.4 L317.6,496.4 L317.6,492.4 Z" fill="#111" stroke="none" stroke-width="1" />
<rect x="277.4" y="393.9" width="177.2" height="137.1" fill="none" stroke="#222" stroke-width="1.2" />
<line x1="272.8" y1="406.2" x2="277.4" y2="406.2" stroke="#222" stroke-width="1.1" />
<line x1="274.7" y1="418.7" x2="277.4" y2="418.7" stroke="#222" stroke-width="1.1" />
<line x1="272.8" y1="431.2" x2="277.4" y2="431.2" stroke="#222" stroke-width="1.1" />
<line x1="274.7" y1="443.7" x2="277.4" y2="443.7" stroke="#222" stroke-width="1.1" />
<line x1="272.8" y1="456.2" x2="277.4" y2="456.2" stroke="#222" stroke-width="1.1" />
<line x1="274.7" y1="468.7" x2="277.4" y2="468.7" stroke="#222" stroke-width="1.1" />
<line x1="272.8" y1="481.2" x2="277.4" y2="481.2" stroke="#222" stroke-width="1.1" />
<line x1="274.7" y1="493.7" x2="277.4" y2="493.7" stroke="#222" stroke-width="1.1" />
<line x1="272.8" y1="506.2" x2="277.4" y2="506.2" stroke="#222" stroke-width="1.1" />
<line x1="274.7" y1="518.7" x2="277.4" y2="518.7" stroke="#222" stroke-width="1.1" />
<line x1="272.8" y1="531.2" x2="277.4" y2="531.2" stroke="#222" stroke-width="1.1" />
<text x="271.1" y="410" font-size="10.7" text-anchor="end" fill="#222" >0.08</text>
<text x="271.1" y="435" font-size="10.7" text-anchor="end" fill="#222" >0.06</text>
<text x="271.1" y="460" font-size="10.7" text-anchor="end" fill="#222" >0.04</text>
<text x="271.1" y="485" font-size="10.7" text-anchor="end" fill="#222" >0.02</text>
<text x="271.1" y="510" font-size="10.7" text-anchor="end" fill="#222" >0.00</text>
<text x="271.1" y="535" font-size="10.7" text-anchor="end" fill="#222" >-0.02</text>
<line x1="280.8" y1="531" x2="280.8" y2="535.6" stroke="#222" stroke-width="1.1" />
<line x1="308.22" y1="531" x2="308.22" y2="533.7" stroke="#222" stroke-width="1.1" />
<line x1="335.65" y1="531" x2="335.65" y2="535.6" stroke="#222" stroke-width="1.1" />
<line x1="363.07" y1="531" x2="363.07" y2="533.7" stroke="#222" stroke-width="1.1" />
<line x1="390.5" y1="531" x2="390.5" y2="535.6" stroke="#222" stroke-width="1.1" />
<line x1="417.92" y1="531" x2="417.92" y2="533.7" stroke="#222" stroke-width="1.1" />
<line x1="445.35" y1="531" x2="445.35" y2="535.6" stroke="#222" stroke-width="1.1" />
<text x="280.8" y="547.5" font-size="10.7" text-anchor="middle" fill="#222" >0</text>
<text x="335.65" y="547.5" font-size="10.7" text-anchor="middle" fill="#222" >300</text>
<text x="390.5" y="547.5" font-size="10.7" text-anchor="middle" fill="#222" >600</text>
<text x="445.35" y="547.5" font-size="10.7" text-anchor="middle" fill="#222" >900</text>
<text x="366.3" y="563.2" font-size="12.85" text-anchor="middle" fill="#222" >Time (s)</text>
<text transform="translate(244.5,477.9) rotate(-90)" font-size="12.95" text-anchor="middle" fill="#222" >Current density (mA cm<tspan font-size="0.65em" dy="-4.2">−2</tspan><tspan dy="4.2">&#8203;</tspan>)</text>
<text x="234.5" y="398.8" font-size="19.5" font-weight="bold" fill="#000" >h</text>
<path d="M506.34,428.29h0M506.85,428.96h0M507.66,428.6h0M508.77,428.75h0M509.3,429.09h0M510.31,430.14h0M511,429.54h0M511.84,429.93h0M512.52,430.63h0M513.18,430.59h0M513.93,430.8h0M514.86,430.85h0M515.54,431.29h0M516.26,431.3h0M516.91,431.82h0M517.85,432.67h0M518.29,432.39h0M519.47,432.96h0M520.26,432.66h0M520.95,433.26h0M521.67,433.57h0M522.2,434.06h0M523.47,433.8h0M524.1,434.15h0M524.65,434.42h0M525.7,434.55h0M526.26,434.85h0M527.16,435.42h0M527.77,435.46h0M528.67,435.09h0M529.35,435.75h0M530.18,436.1h0M530.66,436.25h0M531.63,436.11h0M532.59,436.88h0M533.18,437.14h0M534,437.17h0M534.66,437.78h0M535.2,437.59h0M536.48,437.33h0M537.12,438.05h0M538.05,438.61h0M538.64,438.18h0M539.68,439.06h0M540.18,439.07h0M541.08,439.36h0M541.82,439.8h0M542.31,439.93h0M543.39,439.87h0M544.27,439.62h0M545.02,440.58h0M545.43,440.87h0M546.31,441.69h0M547.39,441.43h0M547.77,441.45h0M548.58,441.74h0M549.25,442.01h0M550.1,442.31h0M550.8,442.49h0M552.04,442.63h0M552.26,443.38h0M553.12,443.66h0M554.05,444.15h0M554.8,443.87h0M555.61,443.95h0M556.18,444.56h0M556.78,445.14h0M557.65,445.56h0M558.2,445.84h0M559.24,445.97h0M559.7,446.19h0M560.42,446.04h0M561.89,447.12h0M562.41,447.09h0M562.99,447.68h0M563.72,447.82h0M564.34,447.62h0M565.2,448.56h0M566,448.75h0M566.81,449.06h0M567.09,449.77h0M567.93,449.58h0M568.74,450.45h0M569.48,450.74h0M570.78,451.19h0M571.11,450.85h0M571.66,451.9h0M572.26,451.87h0M573.07,452.42h0M573.61,453.19h0M574.6,453.39h0M575.02,453.86h0M575.91,454.3h0M576.26,454.47h0M577.23,455.12h0M578.01,455.56h0M578.39,455.61h0M579.05,456.67h0M579.87,456.9h0M580.59,457.21h0M580.87,457.73h0M581.62,458.75h0M582.38,458.64h0M582.95,459.63h0M583.29,459.96h0M583.77,460.6h0M584.61,460.72h0M585.01,461.78h0M585.26,462.46h0M586.31,462.85h0M586.28,464.27h0M586.97,464.19h0M587.38,464.74h0M588.33,465.89h0M588.63,466.76h0M588.56,467.52h0M588.77,467.85h0M588.42,468.65h0M587.92,469.96h0M588.67,470.22h0M589.1,470.52h0M589.98,471.73h0M590.15,472.72h0M590.11,473.46h0M590.94,474.06h0M590.71,475.05h0M591.1,475.74h0M589.96,476.5h0M591.67,477.23h0M591.84,478.52h0M591.89,479h0M591.57,479.4h0M591.97,480.14h0M592.42,480.95h0M592.54,481.6h0M591.94,482.57h0M592.49,483.35h0M592.96,484.2h0M594.09,485.41h0M594.14,485.75h0M594.76,486.24h0M592.96,487.48h0M594.2,488.18h0M594.35,488.6h0M593.83,490.11h0M595.17,490.42h0M595.96,490.33h0M594.74,489.88h0M594.55,488.89h0M595.26,488.11h0M595.97,487.56h0M595.03,486.44h0M595.88,485.8h0M595.49,485.13h0M596.51,484.06h0M596.64,483.02h0M595.45,482.75h0M596,481.57h0M596.42,480.85h0M596.86,479.85h0M596.59,480.2h0M596.97,478.13h0M597.36,477.95h0M597.92,477.05h0M596.96,476.57h0M597.87,474.97h0M598.05,474.57h0M598.4,473.74h0M598.39,473.09h0M598.45,472.24h0M598.21,471.52h0M599.11,470.86h0M599.97,470.12h0M599.75,469.79h0M599.76,468.65h0M599.71,467.79h0M601.28,467.12h0M601.54,466.05h0M600.33,465.67h0M600.71,465.53h0M602.52,463.83h0M602.1,463.27h0M602.78,462.68h0M603.06,462.33h0M603.41,461.06h0M604.1,460.74h0M604.76,460.17h0M605.29,459.72h0M605.71,458.95h0M606.41,459.13h0M607.01,457.89h0M607.58,457.4h0M607.95,456.99h0M609.04,456.37h0M609.3,456.1h0M610.41,455.75h0M610.95,455.63h0M611.7,454.76h0M612.09,454.16h0M612.77,453.87h0M613.32,453.58h0M614.14,452.63h0M614.95,451.82h0M615.43,451.81h0M616.4,451.49h0M617.21,451.14h0M617.8,450.71h0M618.62,450.46h0M619.25,450.04h0M619.74,449.74h0M620.79,449.18h0M621.12,449h0M622.22,448.52h0M622.78,448.53h0M623.56,448.26h0M624.55,447.9h0M625.11,447.78h0M625.87,447.06h0M626.48,446.72h0M627.67,446.69h0M628.22,446.58h0M628.75,446.27h0M629.57,445.3h0M630.37,445.26h0M631.11,445.32h0M632.26,444.82h0M632.65,444.74h0M633.46,444.32h0M634.02,443.83h0M634.92,443.49h0M635.61,443.2h0M636.66,442.93h0M637.56,442.95h0M637.9,442.59h0M638.96,442.94h0M639.5,442.55h0M640.39,442.2h0M641.21,442.24h0M641.69,441.29h0M642.79,441.61h0M643.64,441h0M644.18,441.61h0M644.92,441.13h0M645.78,440.75h0M646.49,440.97h0M647.2,440.19h0M648.14,440.6h0M649.11,440.29h0M649.85,439.99h0M650.71,440.14h0M651.47,439.2h0M652.39,439.41h0M652.84,439.15h0M653.65,439.54h0M654.54,438.35h0M655.43,438.46h0M656.37,438.53h0M656.7,438.19h0M657.59,437.95h0M658.45,437.47h0M659.37,437.57h0M659.99,437.8h0M661.2,437.28h0M661.98,436.75h0M662.59,436.94h0M663.28,436.65h0M663.99,436.64h0M664.82,436.64h0M666.01,436.19h0M666.42,435.73h0M666.86,436.33h0M667.83,435.61h0M668.82,435.84h0M669.65,435.9h0M670.37,434.79h0M671.2,435.09h0M671.85,434.79h0M672.67,435.11h0M673.45,434.14h0M674.38,433.84h0M675.19,434.21h0M675.78,433.78h0M676.61,434.13h0M677.54,433.23h0M678.09,433.32h0M679.06,432.96h0M679.89,432.91h0M680.8,432.88h0M681.41,432.62h0M682.08,432.61h0M683.06,432.1h0M594.8,494.8h0M594.7,499h0M594.9,503.2h0M594.8,507h0" stroke="#E9865F" stroke-width="2.8" stroke-linecap="round" fill="none"/>
<rect x="506.4" y="393.6" width="177" height="137.4" fill="none" stroke="#222" stroke-width="1.2" />
<line x1="501.8" y1="393.6" x2="506.4" y2="393.6" stroke="#222" stroke-width="1.1" />
<line x1="503.7" y1="407.34" x2="506.4" y2="407.34" stroke="#222" stroke-width="1.1" />
<line x1="501.8" y1="421.08" x2="506.4" y2="421.08" stroke="#222" stroke-width="1.1" />
<line x1="503.7" y1="434.82" x2="506.4" y2="434.82" stroke="#222" stroke-width="1.1" />
<line x1="501.8" y1="448.56" x2="506.4" y2="448.56" stroke="#222" stroke-width="1.1" />
<line x1="503.7" y1="462.3" x2="506.4" y2="462.3" stroke="#222" stroke-width="1.1" />
<line x1="501.8" y1="476.04" x2="506.4" y2="476.04" stroke="#222" stroke-width="1.1" />
<line x1="503.7" y1="489.78" x2="506.4" y2="489.78" stroke="#222" stroke-width="1.1" />
<line x1="501.8" y1="503.52" x2="506.4" y2="503.52" stroke="#222" stroke-width="1.1" />
<line x1="503.7" y1="517.26" x2="506.4" y2="517.26" stroke="#222" stroke-width="1.1" />
<line x1="501.8" y1="531" x2="506.4" y2="531" stroke="#222" stroke-width="1.1" />
<text x="498" y="397.4" font-size="10.7" text-anchor="end" fill="#222" >-2</text>
<text x="498" y="424.88" font-size="10.7" text-anchor="end" fill="#222" >-3</text>
<text x="498" y="452.36" font-size="10.7" text-anchor="end" fill="#222" >-4</text>
<text x="498" y="479.84" font-size="10.7" text-anchor="end" fill="#222" >-5</text>
<text x="498" y="507.32" font-size="10.7" text-anchor="end" fill="#222" >-6</text>
<text x="498" y="534.8" font-size="10.7" text-anchor="end" fill="#222" >-7</text>
<line x1="506.4" y1="531" x2="506.4" y2="535.6" stroke="#222" stroke-width="1.1" />
<line x1="531.7" y1="531" x2="531.7" y2="533.7" stroke="#222" stroke-width="1.1" />
<line x1="557" y1="531" x2="557" y2="535.6" stroke="#222" stroke-width="1.1" />
<line x1="582.3" y1="531" x2="582.3" y2="533.7" stroke="#222" stroke-width="1.1" />
<line x1="607.6" y1="531" x2="607.6" y2="535.6" stroke="#222" stroke-width="1.1" />
<line x1="632.9" y1="531" x2="632.9" y2="533.7" stroke="#222" stroke-width="1.1" />
<line x1="658.2" y1="531" x2="658.2" y2="535.6" stroke="#222" stroke-width="1.1" />
<line x1="683.5" y1="531" x2="683.5" y2="533.7" stroke="#222" stroke-width="1.1" />
<text x="506.4" y="547.5" font-size="10.9" text-anchor="middle" fill="#222" >-1.2</text>
<text x="557" y="547.5" font-size="10.9" text-anchor="middle" fill="#222" >-1.0</text>
<text x="607.6" y="547.5" font-size="10.9" text-anchor="middle" fill="#222" >-0.8</text>
<text x="658.2" y="547.5" font-size="10.9" text-anchor="middle" fill="#222" >-0.6</text>
<text x="594.3" y="564.8" font-size="12.85" text-anchor="middle" fill="#222" >Potential (V <tspan font-style="italic">vs.</tspan> Zn<tspan font-size="0.65em" dy="-4.2">2+</tspan><tspan dy="4.2">&#8203;</tspan>/Zn)</text>
<text transform="translate(474.1,462.9) rotate(-90)" font-size="12.85" text-anchor="middle" fill="#222" >Log (i, mA cm<tspan font-size="0.65em" dy="-4.2">−2</tspan><tspan dy="4.2">&#8203;</tspan>)</text>
<text x="543.9" y="409.7" font-size="11.2" fill="#222" ><tspan font-style="italic">I</tspan><tspan font-size="0.62em" dy="2.2">corr</tspan><tspan dy="-2.2">&#8203;</tspan> = 0.037 mA cm<tspan font-size="0.65em" dy="-4">−2</tspan><tspan dy="4">&#8203;</tspan></text>
<text x="543.9" y="425.7" font-size="11.2" fill="#222" ><tspan font-style="italic">E</tspan><tspan font-size="0.62em" dy="2.2">corr</tspan><tspan dy="-2.2">&#8203;</tspan> = −851.4 mV</text>
<text x="607.2" y="505.8" font-size="11.2" fill="#222" ><tspan font-style="italic">b</tspan><tspan font-size="0.62em" dy="2.2">a</tspan><tspan dy="-2.2">&#8203;</tspan> = 273.4 mV</text>
<text x="607.2" y="521.7" font-size="11.2" fill="#222" ><tspan font-style="italic">b</tspan><tspan font-size="0.62em" dy="2.2">c</tspan><tspan dy="-2.2">&#8203;</tspan> = 266.3 mV</text>
<text x="467.7" y="398.9" font-size="19.5" font-weight="bold" fill="#000" >i</text>
<clipPath id="clipA"><rect x="18.0" y="3.0" width="206.9" height="154.7"/></clipPath>
<clipPath id="cAA2"><path d="M44.82,1.88 C46.7,0.73 77.28,1.23 79.97,1.88 C82.66,2.54 79.33,8.74 78.4,10.04 C77.47,11.35 70.12,17.7 68.36,18.2 C66.6,18.71 58.31,17.63 56.43,16.32 C54.55,15.02 42.93,3.04 44.82,1.88 Z"/></clipPath>
<clipPath id="cAE"><path d="M79.34,29.82 C79.42,28.66 81.68,23.43 82.48,22.6 C83.29,21.77 88.21,19.46 89.39,19.46 C90.57,19.46 96.41,21.77 97.23,22.6 C98.06,23.43 99.75,28.66 99.75,29.82 C99.75,30.97 98.06,36.21 97.23,37.04 C96.41,37.87 90.64,40.18 89.39,40.18 C88.13,40.18 82.34,37.87 81.54,37.04 C80.74,36.21 79.27,30.97 79.34,29.82 Z"/></clipPath>
<clipPath id="cAM"><path d="M145.26,31.39 C146.26,29.38 157.12,28.25 159.38,28.25 C161.64,28.25 172,30.38 173.51,31.39 C175.01,32.39 178.09,39.17 178.21,40.8 C178.34,42.44 176.33,50.53 175.08,51.79 C173.82,53.04 164.78,56.37 162.52,56.5 C160.26,56.62 148.21,55.37 146.83,53.36 C145.45,51.35 144.25,33.4 145.26,31.39 Z"/></clipPath>
<clipPath id="cAY"><path d="M74.64,150.66 C71.87,149.65 75.58,139.61 76.21,138.1 C76.83,136.6 81.23,131.7 82.48,131.83 C83.74,131.95 90.39,139.17 91.9,139.67 C93.41,140.18 99.93,138.73 101.32,138.1 C102.7,137.48 108.28,131.7 109.16,131.83 C110.04,131.95 112.18,138.17 112.3,139.67 C112.43,141.18 113.74,149.78 110.73,150.66 C107.72,151.54 77.4,151.66 74.64,150.66 Z"/></clipPath>
<clipPath id="cAY2"><path d="M65.22,157.56 C61.7,157.06 69.55,151.84 73.07,151.29 C76.58,150.73 105.65,150.16 109.16,150.66 C112.68,151.16 120.52,157.01 117.01,157.56 C113.49,158.12 68.74,158.07 65.22,157.56 Z"/></clipPath>
<clipPath id="cABB"><path d="M184.49,157.56 C181.68,156.89 188.63,150.65 190.77,149.09 C192.9,147.53 208.79,138.86 211.17,138.1 C213.56,137.35 219.41,139.67 220.59,139.67 C221.77,139.67 225.5,136.67 225.92,138.1 C226.35,139.54 229.24,156.01 225.92,157.56 C222.61,159.12 187.3,158.24 184.49,157.56 Z"/></clipPath>
<clipPath id="cAX"><path d="M17.51,76.9 C18.06,74.26 23.61,74.95 24.42,75.33 C25.22,75.71 27.43,79.6 27.55,81.61 C27.68,83.62 26.79,98.31 25.99,100.44 C25.18,102.57 18.19,110.17 17.51,108.29 C16.83,106.4 16.96,79.54 17.51,76.9 Z"/></clipPath>
<clipPath id="cAW"><path d="M17.51,134.97 C18.31,133.11 26,133.96 27.55,134.34 C29.11,134.71 35.72,138.37 36.97,139.67 C38.23,140.98 42.62,149.23 43.25,150.66 C43.88,152.09 46.88,157.01 44.82,157.56 C42.76,158.12 19.7,159.37 17.51,157.56 C15.33,155.76 16.71,136.82 17.51,134.97 Z"/></clipPath>
<clipPath id="cAO"><path d="M215.88,34.53 C216.68,32.77 225.12,29.13 225.92,31.39 C226.73,33.65 226.48,60.39 225.92,62.77 C225.37,65.16 219.82,61.96 219.02,61.21 C218.21,60.45 216.13,55.49 215.88,53.36 C215.63,51.22 215.08,36.28 215.88,34.53 Z"/></clipPath>
<clipPath id="cAB"><path d="M16.88,11.3 C17.64,6.03 24.39,14.41 26.3,16.32 C28.21,18.23 39.53,33.09 40.74,35.15 C41.94,37.21 41.92,39.35 41.37,42.06 C40.81,44.77 34.89,66.39 33.83,69.05 C32.78,71.71 29.54,74.27 28.18,75.33 C26.83,76.38 17.79,87.36 16.88,82.23 C15.98,77.11 16.13,16.57 16.88,11.3 Z"/></clipPath>
<clipPath id="cAG"><path d="M36.97,53.36 C37.22,51.73 40.67,40.87 41.68,39.23 C42.68,37.6 47.89,33.71 49.53,32.96 C51.16,32.2 59.82,29.82 62.08,29.82 C64.34,29.82 76.64,31.95 77.77,32.96 C78.9,33.96 76.33,40.87 76.21,42.37 C76.08,43.88 75.83,50.28 76.21,51.79 C76.58,53.3 81.29,59.7 80.91,61.21 C80.54,62.71 73,70.12 71.5,70.62 C69.99,71.12 64.72,68.36 62.08,67.48 C59.44,66.6 40.55,60.77 38.54,59.64 C36.53,58.51 36.72,54.99 36.97,53.36 Z"/></clipPath>
<clipPath id="cAG2"><path d="M73.07,78.47 C73.44,76.53 80.85,72.02 82.48,71.56 C84.11,71.11 92.21,72.02 93.47,72.82 C94.72,73.62 97.93,79.9 98.18,81.61 C98.43,83.31 97.36,92.86 96.61,94.16 C95.85,95.47 90.27,97.8 88.76,97.93 C87.25,98.05 79.03,97.29 77.77,95.73 C76.52,94.17 72.69,80.4 73.07,78.47 Z"/></clipPath>
<clipPath id="cAA"><path d="M24.42,9.42 C24.67,8.34 27.49,4.22 29.12,3.77 C30.76,3.31 42.68,2.31 44.82,3.77 C46.95,5.22 54.8,19.76 55.8,21.97 C56.81,24.18 57.88,30.13 57.37,31.39 C56.87,32.64 50.53,37.21 49.53,37.66 C48.52,38.12 46.7,38.67 44.82,37.04 C42.93,35.4 27.62,19.47 25.99,17.26 C24.35,15.05 24.17,10.5 24.42,9.42 Z"/></clipPath>
<clipPath id="cAD"><path d="M77.77,3.77 C80.03,3.06 105.08,2.94 107.59,3.77 C110.1,4.6 109.29,12.79 109.16,14.12 C109.04,15.46 107.03,19.57 106.02,20.4 C105.02,21.23 98.24,24.48 96.61,24.48 C94.97,24.48 87,21.36 85.62,20.4 C84.24,19.45 79.97,13.89 79.34,12.55 C78.72,11.22 75.51,4.47 77.77,3.77 Z"/></clipPath>
<clipPath id="cAC"><path d="M57.37,17.26 C57.37,16.21 59.44,11.42 60.2,10.67 C60.95,9.92 65.73,7.85 66.79,7.85 C67.84,7.85 72.63,9.92 73.38,10.67 C74.13,11.42 76.21,16.21 76.21,17.26 C76.21,18.32 74.13,23.1 73.38,23.85 C72.63,24.61 67.84,26.68 66.79,26.68 C65.73,26.68 60.95,24.61 60.2,23.85 C59.44,23.1 57.37,18.32 57.37,17.26 Z"/></clipPath>
<clipPath id="cAF"><path d="M75.26,42.37 C75.39,41.12 76.69,36.97 77.77,36.1 C78.85,35.22 87,31.46 88.76,31.39 C90.52,31.31 98.49,34.02 99.75,35.15 C101,36.28 104.45,43.8 104.45,45.51 C104.45,47.22 100.88,55.12 99.75,56.5 C98.62,57.88 91.84,62.52 90.33,62.77 C88.82,63.03 82.04,60.51 80.91,59.64 C79.78,58.76 76.66,53.17 76.21,51.79 C75.75,50.41 75.14,43.63 75.26,42.37 Z"/></clipPath>
<clipPath id="cAL"><path d="M198.62,3.77 C200.3,2.44 223.74,1.93 225.92,3.77 C228.11,5.6 226.73,24.97 225.92,26.68 C225.12,28.39 217.56,25.61 215.88,25.11 C214.2,24.61 206.27,22.11 204.89,20.4 C203.51,18.69 196.93,5.1 198.62,3.77 Z"/></clipPath>
<clipPath id="cAK"><path d="M156.24,3.77 C158.13,1.93 185.68,2.06 189.2,3.77 C192.72,5.47 199.68,22.9 200.19,25.11 C200.69,27.32 196.61,30.43 195.48,31.39 C194.35,32.34 187.94,36.59 186.06,37.04 C184.18,37.49 173.57,37.87 171.94,37.04 C170.3,36.21 166.91,29.34 165.66,26.68 C164.4,24.02 154.36,5.6 156.24,3.77 Z"/></clipPath>
<clipPath id="cAJ"><path d="M107.59,3.77 C111.23,2.56 153.54,2.56 157.81,3.77 C162.08,4.97 161.33,16.87 160.95,18.83 C160.57,20.79 154.61,27.12 153.1,28.25 C151.6,29.38 143.75,32.83 142.12,32.96 C140.49,33.08 135.09,30.95 132.7,29.82 C130.32,28.69 114.31,20.92 112.3,18.83 C110.29,16.75 103.95,4.97 107.59,3.77 Z"/></clipPath>
<clipPath id="cAN"><path d="M190.14,47.08 C190.27,45.07 191.28,34.59 192.34,32.96 C193.39,31.32 201.57,26.93 203.32,26.68 C205.08,26.43 213.05,28.81 214.31,29.82 C215.56,30.82 218.77,37.35 219.02,39.23 C219.27,41.12 218.2,51.48 217.45,53.36 C216.69,55.24 211.23,61.9 209.6,62.77 C207.97,63.65 198.55,64.72 197.05,64.34 C195.54,63.97 191.32,59.45 190.77,58.07 C190.22,56.69 190.02,49.09 190.14,47.08 Z"/></clipPath>
<clipPath id="cAI"><path d="M106.02,67.48 C106.02,65.35 108.41,49.47 109.16,47.08 C109.92,44.7 114.18,38.92 115.44,37.66 C116.69,36.41 122.97,31.69 124.86,31.39 C126.74,31.09 137.22,33.15 138.98,33.9 C140.74,34.65 146.32,39 146.83,40.8 C147.33,42.61 145.63,53.86 145.26,56.5 C144.88,59.13 142.87,71.7 142.12,73.76 C141.37,75.82 137.22,82.11 135.84,82.23 C134.46,82.36 126.99,76.01 124.86,75.33 C122.72,74.65 110.67,74.39 109.16,73.76 C107.66,73.13 106.02,69.62 106.02,67.48 Z"/></clipPath>
<clipPath id="cAP"><path d="M142.12,73.76 C142.12,71.5 144.13,62.84 145.26,61.21 C146.39,59.57 154.36,54.11 156.24,53.36 C158.13,52.61 166.66,51.41 168.8,51.79 C170.93,52.17 181.42,56.81 182.92,58.07 C184.43,59.32 187.25,65.47 187.63,67.48 C188.01,69.49 188.13,81.04 187.63,83.18 C187.13,85.31 182.86,92.78 181.35,94.16 C179.85,95.54 170.81,100.06 168.8,100.44 C166.79,100.82 158.13,99.75 156.24,98.87 C154.36,97.99 146.39,91.46 145.26,89.45 C144.13,87.45 142.12,76.02 142.12,73.76 Z"/></clipPath>
<clipPath id="cAQ"><path d="M189.2,78.47 C189.5,75.83 192.53,68.86 193.91,67.48 C195.29,66.1 204.45,61.58 206.46,61.21 C208.47,60.83 217.46,62.27 219.02,62.77 C220.57,63.28 225.37,62.84 225.92,67.48 C226.48,72.13 226.48,116.2 225.92,120.84 C225.37,125.49 220.57,125.3 219.02,125.55 C217.46,125.8 208.35,124.86 206.46,123.98 C204.58,123.1 196.78,116.45 195.48,114.56 C194.17,112.68 190.64,103.33 190.14,100.44 C189.64,97.55 188.9,81.1 189.2,78.47 Z"/></clipPath>
<clipPath id="cAH"><path d="M27.55,78.47 C27.68,76.84 29.31,71.68 30.69,70.62 C32.07,69.57 42.68,65.54 44.82,65.29 C46.95,65.03 55.11,66.43 57.37,67.48 C59.63,68.54 71.43,76.59 73.07,78.47 C74.7,80.35 77.52,89.27 77.77,91.02 C78.03,92.78 76.96,99.18 76.21,100.44 C75.45,101.69 70.24,106.09 68.36,106.72 C66.48,107.34 55.18,108.66 52.66,108.29 C50.15,107.91 38.85,103.39 36.97,102.01 C35.09,100.63 29.88,92.91 29.12,91.02 C28.37,89.14 27.43,80.1 27.55,78.47 Z"/></clipPath>
<clipPath id="cAT"><path d="M91.9,89.45 C91.7,87.95 92.72,82.74 93.47,81.61 C94.22,80.48 99.68,75.96 101.32,75.33 C102.95,74.7 112.11,73.51 113.87,73.76 C115.63,74.01 122.28,77.46 123.29,78.47 C124.29,79.47 126.42,84.81 126.42,86.32 C126.42,87.82 124.17,95.79 123.29,97.3 C122.41,98.81 116.95,104.39 115.44,105.15 C113.93,105.9 106.01,107.09 104.45,106.72 C102.9,106.34 96.98,101.82 95.98,100.44 C94.97,99.06 92.1,90.96 91.9,89.45 Z"/></clipPath>
<clipPath id="cAS"><path d="M120.15,105.15 C120.15,103.77 122.53,95.74 123.29,94.16 C124.04,92.58 128.31,86.25 129.56,85.37 C130.82,84.49 137.6,82.85 138.98,83.18 C140.36,83.5 146.07,88.2 146.83,89.45 C147.58,90.71 148.77,97.36 148.4,98.87 C148.02,100.38 143.5,107.16 142.12,108.29 C140.74,109.42 132.64,112.74 131.13,112.99 C129.63,113.25 124.17,112.05 123.29,111.42 C122.41,110.8 120.15,106.53 120.15,105.15 Z"/></clipPath>
<clipPath id="cAU"><path d="M76.21,116.13 C75.83,114.12 77.02,108.22 77.77,106.72 C78.53,105.21 84.24,98.18 85.62,97.3 C87,96.42 93.66,95.23 95.04,95.73 C96.42,96.23 101.75,102.07 102.88,103.58 C104.01,105.08 108.71,112.55 109.16,114.56 C109.61,116.57 109.16,126.8 108.53,128.69 C107.91,130.57 102.65,137.23 101.32,138.1 C99.98,138.98 93.41,140.18 91.9,139.67 C90.39,139.17 83.74,133.71 82.48,131.83 C81.23,129.94 76.58,118.14 76.21,116.13 Z"/></clipPath>
<clipPath id="cAV"><path d="M22.85,120.84 C22.72,119.33 24.86,114 25.99,112.99 C27.12,111.99 34.59,108.66 36.97,108.29 C39.36,107.91 53.17,107.91 55.8,108.29 C58.44,108.66 68.55,111.74 69.93,112.99 C71.31,114.25 73.07,122.22 73.07,123.98 C73.07,125.74 70.81,133.21 69.93,134.97 C69.05,136.72 63.59,144.82 62.08,145.95 C60.57,147.08 52.98,149.34 51.1,149.09 C49.21,148.84 40.42,144.19 38.54,142.81 C36.66,141.43 28.81,133.58 27.55,131.83 C26.3,130.07 22.97,122.35 22.85,120.84 Z"/></clipPath>
<clipPath id="cAZ"><path d="M112.3,147.52 C112.23,145.46 112.43,134.21 112.93,131.83 C113.43,129.44 117.37,119.33 118.58,117.7 C119.78,116.07 126.11,112.18 127.99,111.42 C129.88,110.67 140.36,107.53 142.12,108.29 C143.88,109.04 146.58,119.84 149.97,120.84 C153.36,121.85 181.1,121.34 184.49,120.84 C187.88,120.34 190.58,114.31 192.34,114.56 C194.1,114.81 204.58,122.98 206.46,123.98 C208.35,124.98 215.5,125.99 215.88,127.12 C216.26,128.25 213.18,136.35 211.17,138.1 C209.16,139.86 193.41,147.53 190.77,149.09 C188.13,150.65 184.37,156.89 178.21,157.56 C172.06,158.24 119.14,158.37 113.87,157.56 C108.6,156.76 112.38,149.58 112.3,147.52 Z"/></clipPath>
<clipPath id="cAAA"><path d="M140.55,116.76 C140.17,115.76 141.11,110.91 142.12,109.86 C143.12,108.8 150.72,104.53 153.1,103.58 C155.49,102.62 169.3,98.48 171.94,97.93 C174.57,97.38 184.55,96.22 186.06,96.67 C187.57,97.12 190.44,102.22 190.77,103.58 C191.1,104.93 190.64,112.37 190.14,113.62 C189.64,114.88 186.7,118.57 184.49,119.27 C182.28,119.97 165.53,122.16 162.52,122.41 C159.51,122.66 148.58,122.86 146.83,122.41 C145.07,121.96 140.93,117.77 140.55,116.76 Z"/></clipPath>
<g clip-path="url(#clipA)">
<rect x="16" y="1" width="210.9" height="158.7" fill="#383838" stroke="none" stroke-width="1" />
<g filter="url(#blurA)">
<g clip-path="url(#cAA2)">
<path d="M44.82,1.88 C46.7,0.73 77.28,1.23 79.97,1.88 C82.66,2.54 79.33,8.74 78.4,10.04 C77.47,11.35 70.12,17.7 68.36,18.2 C66.6,18.71 58.31,17.63 56.43,16.32 C54.55,15.02 42.93,3.04 44.82,1.88 Z" fill="#818181"/>
<path d="M44.82,1.88 C46.7,0.73 77.28,1.23 79.97,1.88 C82.66,2.54 79.33,8.74 78.4,10.04 C77.47,11.35 70.12,17.7 68.36,18.2 C66.6,18.71 58.31,17.63 56.43,16.32 C54.55,15.02 42.93,3.04 44.82,1.88 Z" fill="none" stroke="#fff" stroke-opacity="0.08" stroke-width="4.6" filter="url(#blurG)"/>
</g>
<path d="M44.82,1.88 C46.7,0.73 77.28,1.23 79.97,1.88 C82.66,2.54 79.33,8.74 78.4,10.04 C77.47,11.35 70.12,17.7 68.36,18.2 C66.6,18.71 58.31,17.63 56.43,16.32 C54.55,15.02 42.93,3.04 44.82,1.88 Z" fill="none" stroke="#8c8c8c" stroke-width="0.6" stroke-linejoin="round"/>
<g clip-path="url(#cAE)">
<path d="M79.34,29.82 C79.42,28.66 81.68,23.43 82.48,22.6 C83.29,21.77 88.21,19.46 89.39,19.46 C90.57,19.46 96.41,21.77 97.23,22.6 C98.06,23.43 99.75,28.66 99.75,29.82 C99.75,30.97 98.06,36.21 97.23,37.04 C96.41,37.87 90.64,40.18 89.39,40.18 C88.13,40.18 82.34,37.87 81.54,37.04 C80.74,36.21 79.27,30.97 79.34,29.82 Z" fill="#898989"/>
<path d="M79.34,29.82 C79.42,28.66 81.68,23.43 82.48,22.6 C83.29,21.77 88.21,19.46 89.39,19.46 C90.57,19.46 96.41,21.77 97.23,22.6 C98.06,23.43 99.75,28.66 99.75,29.82 C99.75,30.97 98.06,36.21 97.23,37.04 C96.41,37.87 90.64,40.18 89.39,40.18 C88.13,40.18 82.34,37.87 81.54,37.04 C80.74,36.21 79.27,30.97 79.34,29.82 Z" fill="none" stroke="#fff" stroke-opacity="0.1" stroke-width="4.6" filter="url(#blurG)"/>
</g>
<path d="M79.34,29.82 C79.42,28.66 81.68,23.43 82.48,22.6 C83.29,21.77 88.21,19.46 89.39,19.46 C90.57,19.46 96.41,21.77 97.23,22.6 C98.06,23.43 99.75,28.66 99.75,29.82 C99.75,30.97 98.06,36.21 97.23,37.04 C96.41,37.87 90.64,40.18 89.39,40.18 C88.13,40.18 82.34,37.87 81.54,37.04 C80.74,36.21 79.27,30.97 79.34,29.82 Z" fill="none" stroke="#9b9b9b" stroke-width="0.7" stroke-linejoin="round"/>
<g clip-path="url(#cAM)">
<path d="M145.26,31.39 C146.26,29.38 157.12,28.25 159.38,28.25 C161.64,28.25 172,30.38 173.51,31.39 C175.01,32.39 178.09,39.17 178.21,40.8 C178.34,42.44 176.33,50.53 175.08,51.79 C173.82,53.04 164.78,56.37 162.52,56.5 C160.26,56.62 148.21,55.37 146.83,53.36 C145.45,51.35 144.25,33.4 145.26,31.39 Z" fill="#818181"/>
<path d="M145.26,31.39 C146.26,29.38 157.12,28.25 159.38,28.25 C161.64,28.25 172,30.38 173.51,31.39 C175.01,32.39 178.09,39.17 178.21,40.8 C178.34,42.44 176.33,50.53 175.08,51.79 C173.82,53.04 164.78,56.37 162.52,56.5 C160.26,56.62 148.21,55.37 146.83,53.36 C145.45,51.35 144.25,33.4 145.26,31.39 Z" fill="none" stroke="#fff" stroke-opacity="0.08" stroke-width="4.6" filter="url(#blurG)"/>
</g>
<path d="M145.26,31.39 C146.26,29.38 157.12,28.25 159.38,28.25 C161.64,28.25 172,30.38 173.51,31.39 C175.01,32.39 178.09,39.17 178.21,40.8 C178.34,42.44 176.33,50.53 175.08,51.79 C173.82,53.04 164.78,56.37 162.52,56.5 C160.26,56.62 148.21,55.37 146.83,53.36 C145.45,51.35 144.25,33.4 145.26,31.39 Z" fill="none" stroke="#8c8c8c" stroke-width="0.6" stroke-linejoin="round"/>
<g clip-path="url(#cAY)">
<path d="M74.64,150.66 C71.87,149.65 75.58,139.61 76.21,138.1 C76.83,136.6 81.23,131.7 82.48,131.83 C83.74,131.95 90.39,139.17 91.9,139.67 C93.41,140.18 99.93,138.73 101.32,138.1 C102.7,137.48 108.28,131.7 109.16,131.83 C110.04,131.95 112.18,138.17 112.3,139.67 C112.43,141.18 113.74,149.78 110.73,150.66 C107.72,151.54 77.4,151.66 74.64,150.66 Z" fill="#797979"/>
<path d="M74.64,150.66 C71.87,149.65 75.58,139.61 76.21,138.1 C76.83,136.6 81.23,131.7 82.48,131.83 C83.74,131.95 90.39,139.17 91.9,139.67 C93.41,140.18 99.93,138.73 101.32,138.1 C102.7,137.48 108.28,131.7 109.16,131.83 C110.04,131.95 112.18,138.17 112.3,139.67 C112.43,141.18 113.74,149.78 110.73,150.66 C107.72,151.54 77.4,151.66 74.64,150.66 Z" fill="none" stroke="#fff" stroke-opacity="0.05" stroke-width="4.6" filter="url(#blurG)"/>
</g>
<path d="M74.64,150.66 C71.87,149.65 75.58,139.61 76.21,138.1 C76.83,136.6 81.23,131.7 82.48,131.83 C83.74,131.95 90.39,139.17 91.9,139.67 C93.41,140.18 99.93,138.73 101.32,138.1 C102.7,137.48 108.28,131.7 109.16,131.83 C110.04,131.95 112.18,138.17 112.3,139.67 C112.43,141.18 113.74,149.78 110.73,150.66 C107.72,151.54 77.4,151.66 74.64,150.66 Z" fill="none" stroke="#878787" stroke-width="0.6" stroke-linejoin="round"/>
<g clip-path="url(#cAY2)">
<path d="M65.22,157.56 C61.7,157.06 69.55,151.84 73.07,151.29 C76.58,150.73 105.65,150.16 109.16,150.66 C112.68,151.16 120.52,157.01 117.01,157.56 C113.49,158.12 68.74,158.07 65.22,157.56 Z" fill="#a9a9a9"/>
<path d="M65.22,157.56 C61.7,157.06 69.55,151.84 73.07,151.29 C76.58,150.73 105.65,150.16 109.16,150.66 C112.68,151.16 120.52,157.01 117.01,157.56 C113.49,158.12 68.74,158.07 65.22,157.56 Z" fill="none" stroke="#fff" stroke-opacity="0.2" stroke-width="4.6" filter="url(#blurG)"/>
</g>
<path d="M65.22,157.56 C61.7,157.06 69.55,151.84 73.07,151.29 C76.58,150.73 105.65,150.16 109.16,150.66 C112.68,151.16 120.52,157.01 117.01,157.56 C113.49,158.12 68.74,158.07 65.22,157.56 Z" fill="none" stroke="#d7d7d7" stroke-width="1.0" stroke-linejoin="round"/>
<g clip-path="url(#cABB)">
<path d="M184.49,157.56 C181.68,156.89 188.63,150.65 190.77,149.09 C192.9,147.53 208.79,138.86 211.17,138.1 C213.56,137.35 219.41,139.67 220.59,139.67 C221.77,139.67 225.5,136.67 225.92,138.1 C226.35,139.54 229.24,156.01 225.92,157.56 C222.61,159.12 187.3,158.24 184.49,157.56 Z" fill="#838383"/>
<path d="M184.49,157.56 C181.68,156.89 188.63,150.65 190.77,149.09 C192.9,147.53 208.79,138.86 211.17,138.1 C213.56,137.35 219.41,139.67 220.59,139.67 C221.77,139.67 225.5,136.67 225.92,138.1 C226.35,139.54 229.24,156.01 225.92,157.56 C222.61,159.12 187.3,158.24 184.49,157.56 Z" fill="none" stroke="#fff" stroke-opacity="0.1" stroke-width="4.6" filter="url(#blurG)"/>
</g>
<path d="M184.49,157.56 C181.68,156.89 188.63,150.65 190.77,149.09 C192.9,147.53 208.79,138.86 211.17,138.1 C213.56,137.35 219.41,139.67 220.59,139.67 C221.77,139.67 225.5,136.67 225.92,138.1 C226.35,139.54 229.24,156.01 225.92,157.56 C222.61,159.12 187.3,158.24 184.49,157.56 Z" fill="none" stroke="#aaaaaa" stroke-width="0.9" stroke-linejoin="round"/>
<g clip-path="url(#cAX)">
<path d="M17.51,76.9 C18.06,74.26 23.61,74.95 24.42,75.33 C25.22,75.71 27.43,79.6 27.55,81.61 C27.68,83.62 26.79,98.31 25.99,100.44 C25.18,102.57 18.19,110.17 17.51,108.29 C16.83,106.4 16.96,79.54 17.51,76.9 Z" fill="#959595"/>
<path d="M17.51,76.9 C18.06,74.26 23.61,74.95 24.42,75.33 C25.22,75.71 27.43,79.6 27.55,81.61 C27.68,83.62 26.79,98.31 25.99,100.44 C25.18,102.57 18.19,110.17 17.51,108.29 C16.83,106.4 16.96,79.54 17.51,76.9 Z" fill="none" stroke="#fff" stroke-opacity="0.2" stroke-width="4.6" filter="url(#blurG)"/>
</g>
<path d="M17.51,76.9 C18.06,74.26 23.61,74.95 24.42,75.33 C25.22,75.71 27.43,79.6 27.55,81.61 C27.68,83.62 26.79,98.31 25.99,100.44 C25.18,102.57 18.19,110.17 17.51,108.29 C16.83,106.4 16.96,79.54 17.51,76.9 Z" fill="none" stroke="#bebebe" stroke-width="0.8" stroke-linejoin="round"/>
<g clip-path="url(#cAW)">
<path d="M17.51,134.97 C18.31,133.11 26,133.96 27.55,134.34 C29.11,134.71 35.72,138.37 36.97,139.67 C38.23,140.98 42.62,149.23 43.25,150.66 C43.88,152.09 46.88,157.01 44.82,157.56 C42.76,158.12 19.7,159.37 17.51,157.56 C15.33,155.76 16.71,136.82 17.51,134.97 Z" fill="#9f9f9f"/>
<path d="M17.51,134.97 C18.31,133.11 26,133.96 27.55,134.34 C29.11,134.71 35.72,138.37 36.97,139.67 C38.23,140.98 42.62,149.23 43.25,150.66 C43.88,152.09 46.88,157.01 44.82,157.56 C42.76,158.12 19.7,159.37 17.51,157.56 C15.33,155.76 16.71,136.82 17.51,134.97 Z" fill="none" stroke="#fff" stroke-opacity="0.3" stroke-width="4.6" filter="url(#blurG)"/>
</g>
<path d="M17.51,134.97 C18.31,133.11 26,133.96 27.55,134.34 C29.11,134.71 35.72,138.37 36.97,139.67 C38.23,140.98 42.62,149.23 43.25,150.66 C43.88,152.09 46.88,157.01 44.82,157.56 C42.76,158.12 19.7,159.37 17.51,157.56 C15.33,155.76 16.71,136.82 17.51,134.97 Z" fill="none" stroke="#d7d7d7" stroke-width="1.0" stroke-linejoin="round"/>
<g clip-path="url(#cAO)">
<path d="M215.88,34.53 C216.68,32.77 225.12,29.13 225.92,31.39 C226.73,33.65 226.48,60.39 225.92,62.77 C225.37,65.16 219.82,61.96 219.02,61.21 C218.21,60.45 216.13,55.49 215.88,53.36 C215.63,51.22 215.08,36.28 215.88,34.53 Z" fill="#9a9a9a"/>
<path d="M215.88,34.53 C216.68,32.77 225.12,29.13 225.92,31.39 C226.73,33.65 226.48,60.39 225.92,62.77 C225.37,65.16 219.82,61.96 219.02,61.21 C218.21,60.45 216.13,55.49 215.88,53.36 C215.63,51.22 215.08,36.28 215.88,34.53 Z" fill="none" stroke="#fff" stroke-opacity="0.2" stroke-width="4.6" filter="url(#blurG)"/>
</g>
<path d="M215.88,34.53 C216.68,32.77 225.12,29.13 225.92,31.39 C226.73,33.65 226.48,60.39 225.92,62.77 C225.37,65.16 219.82,61.96 219.02,61.21 C218.21,60.45 216.13,55.49 215.88,53.36 C215.63,51.22 215.08,36.28 215.88,34.53 Z" fill="none" stroke="#c3c3c3" stroke-width="0.9" stroke-linejoin="round"/>
<g clip-path="url(#cAB)">
<path d="M16.88,11.3 C17.64,6.03 24.39,14.41 26.3,16.32 C28.21,18.23 39.53,33.09 40.74,35.15 C41.94,37.21 41.92,39.35 41.37,42.06 C40.81,44.77 34.89,66.39 33.83,69.05 C32.78,71.71 29.54,74.27 28.18,75.33 C26.83,76.38 17.79,87.36 16.88,82.23 C15.98,77.11 16.13,16.57 16.88,11.3 Z" fill="#959595"/>
<path d="M35.09,30.76 C35.43,30.43 41.1,37.44 41.05,38.92 C41,40.4 34.3,66.47 33.83,67.8 C33.37,69.13 29.49,73.02 29.44,72.19 C29.39,71.36 32.35,48.74 32.58,47.08 C32.8,45.42 34.75,31.09 35.09,30.76 Z" fill="#dddddd" stroke="#f7f7f7" stroke-width="0.45"/>
<path d="M16.88,21.97 C17.44,20.4 30.19,32.89 30.69,34.53 C31.2,36.16 29.99,61.21 29.44,62.77 C28.89,64.34 17.39,75.39 16.88,73.76 C16.38,72.13 16.33,23.54 16.88,21.97 Z" fill="#8e8e8e" stroke="#a8a8a8" stroke-width="0.45"/>
<path d="M16.88,11.3 C17.64,6.03 24.39,14.41 26.3,16.32 C28.21,18.23 39.53,33.09 40.74,35.15 C41.94,37.21 41.92,39.35 41.37,42.06 C40.81,44.77 34.89,66.39 33.83,69.05 C32.78,71.71 29.54,74.27 28.18,75.33 C26.83,76.38 17.79,87.36 16.88,82.23 C15.98,77.11 16.13,16.57 16.88,11.3 Z" fill="none" stroke="#fff" stroke-opacity="0.25" stroke-width="4.6" filter="url(#blurG)"/>
</g>
<path d="M16.88,11.3 C17.64,6.03 24.39,14.41 26.3,16.32 C28.21,18.23 39.53,33.09 40.74,35.15 C41.94,37.21 41.92,39.35 41.37,42.06 C40.81,44.77 34.89,66.39 33.83,69.05 C32.78,71.71 29.54,74.27 28.18,75.33 C26.83,76.38 17.79,87.36 16.88,82.23 C15.98,77.11 16.13,16.57 16.88,11.3 Z" fill="none" stroke="#e1e1e1" stroke-width="1.0" stroke-linejoin="round"/>
<g clip-path="url(#cAG)">
<path d="M36.97,53.36 C37.22,51.73 40.67,40.87 41.68,39.23 C42.68,37.6 47.89,33.71 49.53,32.96 C51.16,32.2 59.82,29.82 62.08,29.82 C64.34,29.82 76.64,31.95 77.77,32.96 C78.9,33.96 76.33,40.87 76.21,42.37 C76.08,43.88 75.83,50.28 76.21,51.79 C76.58,53.3 81.29,59.7 80.91,61.21 C80.54,62.71 73,70.12 71.5,70.62 C69.99,71.12 64.72,68.36 62.08,67.48 C59.44,66.6 40.55,60.77 38.54,59.64 C36.53,58.51 36.72,54.99 36.97,53.36 Z" fill="#a1a1a1"/>
<path d="M44.82,47.08 C45.07,46.2 54.67,36.5 55.8,36.1 C56.93,35.69 72.31,36.35 73.07,37.04 C73.82,37.73 74.89,52.27 74.64,53.36 C74.38,54.45 67.79,64.16 66.79,64.34 C65.78,64.53 50.4,58.76 49.53,58.07 C48.65,57.38 44.57,47.96 44.82,47.08 Z" fill="#959595" stroke="#afafaf" stroke-width="0.45"/>
<path d="M36.97,53.36 C37.22,51.73 40.67,40.87 41.68,39.23 C42.68,37.6 47.89,33.71 49.53,32.96 C51.16,32.2 59.82,29.82 62.08,29.82 C64.34,29.82 76.64,31.95 77.77,32.96 C78.9,33.96 76.33,40.87 76.21,42.37 C76.08,43.88 75.83,50.28 76.21,51.79 C76.58,53.3 81.29,59.7 80.91,61.21 C80.54,62.71 73,70.12 71.5,70.62 C69.99,71.12 64.72,68.36 62.08,67.48 C59.44,66.6 40.55,60.77 38.54,59.64 C36.53,58.51 36.72,54.99 36.97,53.36 Z" fill="none" stroke="#fff" stroke-opacity="0.25" stroke-width="4.6" filter="url(#blurG)"/>
</g>
<path d="M36.97,53.36 C37.22,51.73 40.67,40.87 41.68,39.23 C42.68,37.6 47.89,33.71 49.53,32.96 C51.16,32.2 59.82,29.82 62.08,29.82 C64.34,29.82 76.64,31.95 77.77,32.96 C78.9,33.96 76.33,40.87 76.21,42.37 C76.08,43.88 75.83,50.28 76.21,51.79 C76.58,53.3 81.29,59.7 80.91,61.21 C80.54,62.71 73,70.12 71.5,70.62 C69.99,71.12 64.72,68.36 62.08,67.48 C59.44,66.6 40.55,60.77 38.54,59.64 C36.53,58.51 36.72,54.99 36.97,53.36 Z" fill="none" stroke="#c8c8c8" stroke-width="0.9" stroke-linejoin="round"/>
<g clip-path="url(#cAG2)">
<path d="M73.07,78.47 C73.44,76.53 80.85,72.02 82.48,71.56 C84.11,71.11 92.21,72.02 93.47,72.82 C94.72,73.62 97.93,79.9 98.18,81.61 C98.43,83.31 97.36,92.86 96.61,94.16 C95.85,95.47 90.27,97.8 88.76,97.93 C87.25,98.05 79.03,97.29 77.77,95.73 C76.52,94.17 72.69,80.4 73.07,78.47 Z" fill="#8f8f8f"/>
<path d="M73.07,78.47 C73.44,76.53 80.85,72.02 82.48,71.56 C84.11,71.11 92.21,72.02 93.47,72.82 C94.72,73.62 97.93,79.9 98.18,81.61 C98.43,83.31 97.36,92.86 96.61,94.16 C95.85,95.47 90.27,97.8 88.76,97.93 C87.25,98.05 79.03,97.29 77.77,95.73 C76.52,94.17 72.69,80.4 73.07,78.47 Z" fill="none" stroke="#fff" stroke-opacity="0.15" stroke-width="4.6" filter="url(#blurG)"/>
</g>
<path d="M73.07,78.47 C73.44,76.53 80.85,72.02 82.48,71.56 C84.11,71.11 92.21,72.02 93.47,72.82 C94.72,73.62 97.93,79.9 98.18,81.61 C98.43,83.31 97.36,92.86 96.61,94.16 C95.85,95.47 90.27,97.8 88.76,97.93 C87.25,98.05 79.03,97.29 77.77,95.73 C76.52,94.17 72.69,80.4 73.07,78.47 Z" fill="none" stroke="#afafaf" stroke-width="0.8" stroke-linejoin="round"/>
<g clip-path="url(#cAA)">
<path d="M24.42,9.42 C24.67,8.34 27.49,4.22 29.12,3.77 C30.76,3.31 42.68,2.31 44.82,3.77 C46.95,5.22 54.8,19.76 55.8,21.97 C56.81,24.18 57.88,30.13 57.37,31.39 C56.87,32.64 50.53,37.21 49.53,37.66 C48.52,38.12 46.7,38.67 44.82,37.04 C42.93,35.4 27.62,19.47 25.99,17.26 C24.35,15.05 24.17,10.5 24.42,9.42 Z" fill="#959595"/>
<path d="M30.07,8.79 C30.57,8.41 42.34,6.35 43.25,6.91 C44.15,7.46 52.29,21.62 52.66,22.6 C53.04,23.58 52.92,30.94 52.66,31.39 C52.41,31.84 47.27,34.5 46.39,33.9 C45.51,33.3 31.35,17.33 30.69,16.32 C30.04,15.32 29.56,9.17 30.07,8.79 Z" fill="#8b8b8b" stroke="#a5a5a5" stroke-width="0.45"/>
<path d="M45.76,5.02 C45.89,5 55.35,20.94 55.8,21.97 C56.26,23 57.18,30.38 57.06,30.76 C56.93,31.14 52.84,31.71 52.66,31.39 C52.49,31.06 52.94,23.65 52.66,22.6 C52.39,21.54 45.63,5.05 45.76,5.02 Z" fill="#b1b1b1" stroke="#cbcbcb" stroke-width="0.45"/>
<path d="M24.42,9.42 C24.67,8.34 27.49,4.22 29.12,3.77 C30.76,3.31 42.68,2.31 44.82,3.77 C46.95,5.22 54.8,19.76 55.8,21.97 C56.81,24.18 57.88,30.13 57.37,31.39 C56.87,32.64 50.53,37.21 49.53,37.66 C48.52,38.12 46.7,38.67 44.82,37.04 C42.93,35.4 27.62,19.47 25.99,17.26 C24.35,15.05 24.17,10.5 24.42,9.42 Z" fill="none" stroke="#fff" stroke-opacity="0.3" stroke-width="4.6" filter="url(#blurG)"/>
</g>
<path d="M24.42,9.42 C24.67,8.34 27.49,4.22 29.12,3.77 C30.76,3.31 42.68,2.31 44.82,3.77 C46.95,5.22 54.8,19.76 55.8,21.97 C56.81,24.18 57.88,30.13 57.37,31.39 C56.87,32.64 50.53,37.21 49.53,37.66 C48.52,38.12 46.7,38.67 44.82,37.04 C42.93,35.4 27.62,19.47 25.99,17.26 C24.35,15.05 24.17,10.5 24.42,9.42 Z" fill="none" stroke="#e1e1e1" stroke-width="1.0" stroke-linejoin="round"/>
<g clip-path="url(#cAD)">
<path d="M77.77,3.77 C80.03,3.06 105.08,2.94 107.59,3.77 C110.1,4.6 109.29,12.79 109.16,14.12 C109.04,15.46 107.03,19.57 106.02,20.4 C105.02,21.23 98.24,24.48 96.61,24.48 C94.97,24.48 87,21.36 85.62,20.4 C84.24,19.45 79.97,13.89 79.34,12.55 C78.72,11.22 75.51,4.47 77.77,3.77 Z" fill="#979797"/>
<path d="M82.48,3.77 C83.32,3.48 103.54,3.39 104.45,3.77 C105.37,4.14 105.61,12.55 105.4,13.18 C105.18,13.81 99.78,19.3 99.12,19.46 C98.45,19.62 89.39,17.6 88.76,17.26 C88.13,16.92 83.68,11.53 83.42,10.99 C83.17,10.45 81.64,4.06 82.48,3.77 Z" fill="#8f8f8f" stroke="#a9a9a9" stroke-width="0.45"/>
<path d="M77.77,3.77 C80.03,3.06 105.08,2.94 107.59,3.77 C110.1,4.6 109.29,12.79 109.16,14.12 C109.04,15.46 107.03,19.57 106.02,20.4 C105.02,21.23 98.24,24.48 96.61,24.48 C94.97,24.48 87,21.36 85.62,20.4 C84.24,19.45 79.97,13.89 79.34,12.55 C78.72,11.22 75.51,4.47 77.77,3.77 Z" fill="none" stroke="#fff" stroke-opacity="0.25" stroke-width="4.6" filter="url(#blurG)"/>
</g>
<path d="M77.77,3.77 C80.03,3.06 105.08,2.94 107.59,3.77 C110.1,4.6 109.29,12.79 109.16,14.12 C109.04,15.46 107.03,19.57 106.02,20.4 C105.02,21.23 98.24,24.48 96.61,24.48 C94.97,24.48 87,21.36 85.62,20.4 C84.24,19.45 79.97,13.89 79.34,12.55 C78.72,11.22 75.51,4.47 77.77,3.77 Z" fill="none" stroke="#d7d7d7" stroke-width="1.0" stroke-linejoin="round"/>
<g clip-path="url(#cAC)">
<path d="M57.37,17.26 C57.37,16.21 59.44,11.42 60.2,10.67 C60.95,9.92 65.73,7.85 66.79,7.85 C67.84,7.85 72.63,9.92 73.38,10.67 C74.13,11.42 76.21,16.21 76.21,17.26 C76.21,18.32 74.13,23.1 73.38,23.85 C72.63,24.61 67.84,26.68 66.79,26.68 C65.73,26.68 60.95,24.61 60.2,23.85 C59.44,23.1 57.37,18.32 57.37,17.26 Z" fill="#8f8f8f"/>
<path d="M62.08,16.32 C62.17,15.89 66.37,11.95 66.79,11.93 C67.2,11.9 72.28,15.29 72.44,15.69 C72.6,16.1 71.18,21.69 70.87,21.97 C70.56,22.25 64.94,22.82 64.59,22.6 C64.24,22.37 61.99,16.75 62.08,16.32 Z" fill="#888888" stroke="#a2a2a2" stroke-width="0.45"/>
<path d="M57.37,17.26 C57.37,16.21 59.44,11.42 60.2,10.67 C60.95,9.92 65.73,7.85 66.79,7.85 C67.84,7.85 72.63,9.92 73.38,10.67 C74.13,11.42 76.21,16.21 76.21,17.26 C76.21,18.32 74.13,23.1 73.38,23.85 C72.63,24.61 67.84,26.68 66.79,26.68 C65.73,26.68 60.95,24.61 60.2,23.85 C59.44,23.1 57.37,18.32 57.37,17.26 Z" fill="none" stroke="#fff" stroke-opacity="0.3" stroke-width="4.6" filter="url(#blurG)"/>
</g>
<path d="M57.37,17.26 C57.37,16.21 59.44,11.42 60.2,10.67 C60.95,9.92 65.73,7.85 66.79,7.85 C67.84,7.85 72.63,9.92 73.38,10.67 C74.13,11.42 76.21,16.21 76.21,17.26 C76.21,18.32 74.13,23.1 73.38,23.85 C72.63,24.61 67.84,26.68 66.79,26.68 C65.73,26.68 60.95,24.61 60.2,23.85 C59.44,23.1 57.37,18.32 57.37,17.26 Z" fill="none" stroke="#e8e8e8" stroke-width="1.1" stroke-linejoin="round"/>
<g clip-path="url(#cAF)">
<path d="M75.26,42.37 C75.39,41.12 76.69,36.97 77.77,36.1 C78.85,35.22 87,31.46 88.76,31.39 C90.52,31.31 98.49,34.02 99.75,35.15 C101,36.28 104.45,43.8 104.45,45.51 C104.45,47.22 100.88,55.12 99.75,56.5 C98.62,57.88 91.84,62.52 90.33,62.77 C88.82,63.03 82.04,60.51 80.91,59.64 C79.78,58.76 76.66,53.17 76.21,51.79 C75.75,50.41 75.14,43.63 75.26,42.37 Z" fill="#9f9f9f"/>
<path d="M79.97,43.94 C80.25,43.16 88.04,36.59 88.76,36.41 C89.48,36.23 97.4,39.12 97.86,39.55 C98.33,39.97 100.45,46.43 100.37,47.08 C100.3,47.73 96.43,55.39 95.98,55.87 C95.53,56.35 89.64,59.01 89.07,59.01 C88.51,59.01 82.22,56.47 81.85,55.87 C81.49,55.27 79.7,44.72 79.97,43.94 Z" fill="#8b8b8b" stroke="#a5a5a5" stroke-width="0.45"/>
<path d="M75.26,42.37 C75.39,41.12 76.69,36.97 77.77,36.1 C78.85,35.22 87,31.46 88.76,31.39 C90.52,31.31 98.49,34.02 99.75,35.15 C101,36.28 104.45,43.8 104.45,45.51 C104.45,47.22 100.88,55.12 99.75,56.5 C98.62,57.88 91.84,62.52 90.33,62.77 C88.82,63.03 82.04,60.51 80.91,59.64 C79.78,58.76 76.66,53.17 76.21,51.79 C75.75,50.41 75.14,43.63 75.26,42.37 Z" fill="none" stroke="#fff" stroke-opacity="0.35" stroke-width="4.6" filter="url(#blurG)"/>
</g>
<path d="M75.26,42.37 C75.39,41.12 76.69,36.97 77.77,36.1 C78.85,35.22 87,31.46 88.76,31.39 C90.52,31.31 98.49,34.02 99.75,35.15 C101,36.28 104.45,43.8 104.45,45.51 C104.45,47.22 100.88,55.12 99.75,56.5 C98.62,57.88 91.84,62.52 90.33,62.77 C88.82,63.03 82.04,60.51 80.91,59.64 C79.78,58.76 76.66,53.17 76.21,51.79 C75.75,50.41 75.14,43.63 75.26,42.37 Z" fill="none" stroke="#ececec" stroke-width="1.2" stroke-linejoin="round"/>
<g clip-path="url(#cAL)">
<path d="M198.62,3.77 C200.3,2.44 223.74,1.93 225.92,3.77 C228.11,5.6 226.73,24.97 225.92,26.68 C225.12,28.39 217.56,25.61 215.88,25.11 C214.2,24.61 206.27,22.11 204.89,20.4 C203.51,18.69 196.93,5.1 198.62,3.77 Z" fill="#979797"/>
<path d="M203.32,3.77 C203.73,3.14 225.02,3.09 225.92,3.77 C226.83,4.44 226.32,20.09 225.92,20.72 C225.52,21.34 216.78,20.14 215.88,19.46 C214.97,18.78 202.92,4.39 203.32,3.77 Z" fill="#909090" stroke="#aaaaaa" stroke-width="0.45"/>
<path d="M198.62,3.77 C200.3,2.44 223.74,1.93 225.92,3.77 C228.11,5.6 226.73,24.97 225.92,26.68 C225.12,28.39 217.56,25.61 215.88,25.11 C214.2,24.61 206.27,22.11 204.89,20.4 C203.51,18.69 196.93,5.1 198.62,3.77 Z" fill="none" stroke="#fff" stroke-opacity="0.3" stroke-width="4.6" filter="url(#blurG)"/>
</g>
<path d="M198.62,3.77 C200.3,2.44 223.74,1.93 225.92,3.77 C228.11,5.6 226.73,24.97 225.92,26.68 C225.12,28.39 217.56,25.61 215.88,25.11 C214.2,24.61 206.27,22.11 204.89,20.4 C203.51,18.69 196.93,5.1 198.62,3.77 Z" fill="none" stroke="#ebebeb" stroke-width="1.2" stroke-linejoin="round"/>
<g clip-path="url(#cAK)">
<path d="M156.24,3.77 C158.13,1.93 185.68,2.06 189.2,3.77 C192.72,5.47 199.68,22.9 200.19,25.11 C200.69,27.32 196.61,30.43 195.48,31.39 C194.35,32.34 187.94,36.59 186.06,37.04 C184.18,37.49 173.57,37.87 171.94,37.04 C170.3,36.21 166.91,29.34 165.66,26.68 C164.4,24.02 154.36,5.6 156.24,3.77 Z" fill="#a5a5a5"/>
<path d="M161.26,5.02 C161.99,4.22 185.6,4.24 187,5.02 C188.41,5.8 196.46,23.33 196.42,24.48 C196.38,25.64 186.98,33.52 186.06,33.9 C185.14,34.27 174.2,34.25 173.51,33.9 C172.82,33.55 169.29,26.26 168.8,25.11 C168.31,23.95 160.54,5.83 161.26,5.02 Z" fill="#9e9e9e" stroke="#b8b8b8" stroke-width="0.45"/>
<path d="M156.24,3.77 C158.13,1.93 185.68,2.06 189.2,3.77 C192.72,5.47 199.68,22.9 200.19,25.11 C200.69,27.32 196.61,30.43 195.48,31.39 C194.35,32.34 187.94,36.59 186.06,37.04 C184.18,37.49 173.57,37.87 171.94,37.04 C170.3,36.21 166.91,29.34 165.66,26.68 C164.4,24.02 154.36,5.6 156.24,3.77 Z" fill="none" stroke="#fff" stroke-opacity="0.25" stroke-width="4.6" filter="url(#blurG)"/>
</g>
<path d="M156.24,3.77 C158.13,1.93 185.68,2.06 189.2,3.77 C192.72,5.47 199.68,22.9 200.19,25.11 C200.69,27.32 196.61,30.43 195.48,31.39 C194.35,32.34 187.94,36.59 186.06,37.04 C184.18,37.49 173.57,37.87 171.94,37.04 C170.3,36.21 166.91,29.34 165.66,26.68 C164.4,24.02 154.36,5.6 156.24,3.77 Z" fill="none" stroke="#dedede" stroke-width="1.0" stroke-linejoin="round"/>
<g clip-path="url(#cAJ)">
<path d="M107.59,3.77 C111.23,2.56 153.54,2.56 157.81,3.77 C162.08,4.97 161.33,16.87 160.95,18.83 C160.57,20.79 154.61,27.12 153.1,28.25 C151.6,29.38 143.75,32.83 142.12,32.96 C140.49,33.08 135.09,30.95 132.7,29.82 C130.32,28.69 114.31,20.92 112.3,18.83 C110.29,16.75 103.95,4.97 107.59,3.77 Z" fill="#b9b9b9"/>
<path d="M109.79,3.77 C111.42,3.35 153.69,3.23 155.62,3.77 C157.54,4.31 158.1,16.47 157.81,17.26 C157.52,18.05 149.27,23.33 148.4,23.54 C147.52,23.75 137.18,22.98 135.84,22.6 C134.5,22.22 115.85,14.88 114.81,14.12 C113.77,13.37 108.16,4.18 109.79,3.77 Z" fill="#a8a8a8" stroke="#c2c2c2" stroke-width="0.45"/>
<path d="M107.59,3.77 C111.23,2.56 153.54,2.56 157.81,3.77 C162.08,4.97 161.33,16.87 160.95,18.83 C160.57,20.79 154.61,27.12 153.1,28.25 C151.6,29.38 143.75,32.83 142.12,32.96 C140.49,33.08 135.09,30.95 132.7,29.82 C130.32,28.69 114.31,20.92 112.3,18.83 C110.29,16.75 103.95,4.97 107.59,3.77 Z" fill="none" stroke="#fff" stroke-opacity="0.35" stroke-width="4.6" filter="url(#blurG)"/>
</g>
<path d="M107.59,3.77 C111.23,2.56 153.54,2.56 157.81,3.77 C162.08,4.97 161.33,16.87 160.95,18.83 C160.57,20.79 154.61,27.12 153.1,28.25 C151.6,29.38 143.75,32.83 142.12,32.96 C140.49,33.08 135.09,30.95 132.7,29.82 C130.32,28.69 114.31,20.92 112.3,18.83 C110.29,16.75 103.95,4.97 107.59,3.77 Z" fill="none" stroke="#eeeeee" stroke-width="1.2" stroke-linejoin="round"/>
<g clip-path="url(#cAN)">
<path d="M190.14,47.08 C190.27,45.07 191.28,34.59 192.34,32.96 C193.39,31.32 201.57,26.93 203.32,26.68 C205.08,26.43 213.05,28.81 214.31,29.82 C215.56,30.82 218.77,37.35 219.02,39.23 C219.27,41.12 218.2,51.48 217.45,53.36 C216.69,55.24 211.23,61.9 209.6,62.77 C207.97,63.65 198.55,64.72 197.05,64.34 C195.54,63.97 191.32,59.45 190.77,58.07 C190.22,56.69 190.02,49.09 190.14,47.08 Z" fill="#a9a9a9"/>
<path d="M195.48,47.08 C195.41,46.1 196.68,35.81 197.05,35.15 C197.41,34.5 203.98,30.83 204.58,30.76 C205.18,30.68 211.69,32.87 212.11,33.27 C212.54,33.67 215.2,40.06 215.25,40.8 C215.3,41.54 213.69,51.06 213.37,51.79 C213.04,52.52 207.68,58.69 207.09,59.01 C206.5,59.32 199.08,60.11 198.62,59.64 C198.15,59.16 195.54,48.06 195.48,47.08 Z" fill="#9f9f9f" stroke="#b9b9b9" stroke-width="0.45"/>
<path d="M190.14,47.08 C190.27,45.07 191.28,34.59 192.34,32.96 C193.39,31.32 201.57,26.93 203.32,26.68 C205.08,26.43 213.05,28.81 214.31,29.82 C215.56,30.82 218.77,37.35 219.02,39.23 C219.27,41.12 218.2,51.48 217.45,53.36 C216.69,55.24 211.23,61.9 209.6,62.77 C207.97,63.65 198.55,64.72 197.05,64.34 C195.54,63.97 191.32,59.45 190.77,58.07 C190.22,56.69 190.02,49.09 190.14,47.08 Z" fill="none" stroke="#fff" stroke-opacity="0.3" stroke-width="4.6" filter="url(#blurG)"/>
</g>
<path d="M190.14,47.08 C190.27,45.07 191.28,34.59 192.34,32.96 C193.39,31.32 201.57,26.93 203.32,26.68 C205.08,26.43 213.05,28.81 214.31,29.82 C215.56,30.82 218.77,37.35 219.02,39.23 C219.27,41.12 218.2,51.48 217.45,53.36 C216.69,55.24 211.23,61.9 209.6,62.77 C207.97,63.65 198.55,64.72 197.05,64.34 C195.54,63.97 191.32,59.45 190.77,58.07 C190.22,56.69 190.02,49.09 190.14,47.08 Z" fill="none" stroke="#e6e6e6" stroke-width="1.1" stroke-linejoin="round"/>
<g clip-path="url(#cAI)">
<path d="M106.02,67.48 C106.02,65.35 108.41,49.47 109.16,47.08 C109.92,44.7 114.18,38.92 115.44,37.66 C116.69,36.41 122.97,31.69 124.86,31.39 C126.74,31.09 137.22,33.15 138.98,33.9 C140.74,34.65 146.32,39 146.83,40.8 C147.33,42.61 145.63,53.86 145.26,56.5 C144.88,59.13 142.87,71.7 142.12,73.76 C141.37,75.82 137.22,82.11 135.84,82.23 C134.46,82.36 126.99,76.01 124.86,75.33 C122.72,74.65 110.67,74.39 109.16,73.76 C107.66,73.13 106.02,69.62 106.02,67.48 Z" fill="#9d9d9d"/>
<path d="M112.3,47.08 C112.87,45.83 123.66,36.35 124.86,36.1 C126.05,35.84 141.49,39.99 142.12,40.8 C142.75,41.62 140.8,55.24 140.55,56.5 C140.3,57.75 136.59,71.63 135.84,72.19 C135.09,72.76 122.72,70.81 121.72,70.62 C120.71,70.43 111.11,68.42 110.73,67.48 C110.35,66.54 111.74,48.34 112.3,47.08 Z" fill="#939393" stroke="#adadad" stroke-width="0.45"/>
<path d="M115.44,50.22 C115.69,49.28 124.17,43.94 124.86,43.94 C125.55,43.94 132.45,49.28 132.7,50.22 C132.95,51.16 131.7,66.79 131.13,67.48 C130.57,68.17 119.21,68.17 118.58,67.48 C117.95,66.79 115.19,51.16 115.44,50.22 Z" fill="#8c8c8c" stroke="#a6a6a6" stroke-width="0.45"/>
<path d="M106.02,67.48 C106.02,65.35 108.41,49.47 109.16,47.08 C109.92,44.7 114.18,38.92 115.44,37.66 C116.69,36.41 122.97,31.69 124.86,31.39 C126.74,31.09 137.22,33.15 138.98,33.9 C140.74,34.65 146.32,39 146.83,40.8 C147.33,42.61 145.63,53.86 145.26,56.5 C144.88,59.13 142.87,71.7 142.12,73.76 C141.37,75.82 137.22,82.11 135.84,82.23 C134.46,82.36 126.99,76.01 124.86,75.33 C122.72,74.65 110.67,74.39 109.16,73.76 C107.66,73.13 106.02,69.62 106.02,67.48 Z" fill="none" stroke="#fff" stroke-opacity="0.25" stroke-width="4.6" filter="url(#blurG)"/>
</g>
<path d="M106.02,67.48 C106.02,65.35 108.41,49.47 109.16,47.08 C109.92,44.7 114.18,38.92 115.44,37.66 C116.69,36.41 122.97,31.69 124.86,31.39 C126.74,31.09 137.22,33.15 138.98,33.9 C140.74,34.65 146.32,39 146.83,40.8 C147.33,42.61 145.63,53.86 145.26,56.5 C144.88,59.13 142.87,71.7 142.12,73.76 C141.37,75.82 137.22,82.11 135.84,82.23 C134.46,82.36 126.99,76.01 124.86,75.33 C122.72,74.65 110.67,74.39 109.16,73.76 C107.66,73.13 106.02,69.62 106.02,67.48 Z" fill="none" stroke="#cdcdcd" stroke-width="0.9" stroke-linejoin="round"/>
<g clip-path="url(#cAP)">
<path d="M142.12,73.76 C142.12,71.5 144.13,62.84 145.26,61.21 C146.39,59.57 154.36,54.11 156.24,53.36 C158.13,52.61 166.66,51.41 168.8,51.79 C170.93,52.17 181.42,56.81 182.92,58.07 C184.43,59.32 187.25,65.47 187.63,67.48 C188.01,69.49 188.13,81.04 187.63,83.18 C187.13,85.31 182.86,92.78 181.35,94.16 C179.85,95.54 170.81,100.06 168.8,100.44 C166.79,100.82 158.13,99.75 156.24,98.87 C154.36,97.99 146.39,91.46 145.26,89.45 C144.13,87.45 142.12,76.02 142.12,73.76 Z" fill="#a1a1a1"/>
<path d="M162.52,64.34 C162.71,63.72 172.69,59.38 173.51,59.64 C174.32,59.89 182.55,69.72 182.92,70.62 C183.3,71.53 183.17,81.48 182.92,82.23 C182.67,82.99 177.21,89.73 176.64,89.45 C176.08,89.18 169.36,76.33 168.8,75.33 C168.23,74.33 162.33,64.97 162.52,64.34 Z" fill="#8c8c8c" stroke="#a6a6a6" stroke-width="0.45"/>
<path d="M146.83,73.76 C147.39,72.88 161.64,64.28 162.52,64.34 C163.4,64.41 168.23,74.33 168.8,75.33 C169.36,76.33 176.96,88.7 176.64,89.45 C176.33,90.21 162.08,94.29 160.95,94.16 C159.82,94.04 148.96,87.13 148.4,86.32 C147.83,85.5 146.26,74.64 146.83,73.76 Z" fill="#979797" stroke="#b1b1b1" stroke-width="0.45"/>
<path d="M142.12,73.76 C142.12,71.5 144.13,62.84 145.26,61.21 C146.39,59.57 154.36,54.11 156.24,53.36 C158.13,52.61 166.66,51.41 168.8,51.79 C170.93,52.17 181.42,56.81 182.92,58.07 C184.43,59.32 187.25,65.47 187.63,67.48 C188.01,69.49 188.13,81.04 187.63,83.18 C187.13,85.31 182.86,92.78 181.35,94.16 C179.85,95.54 170.81,100.06 168.8,100.44 C166.79,100.82 158.13,99.75 156.24,98.87 C154.36,97.99 146.39,91.46 145.26,89.45 C144.13,87.45 142.12,76.02 142.12,73.76 Z" fill="none" stroke="#fff" stroke-opacity="0.35" stroke-width="4.6" filter="url(#blurG)"/>
</g>
<path d="M142.12,73.76 C142.12,71.5 144.13,62.84 145.26,61.21 C146.39,59.57 154.36,54.11 156.24,53.36 C158.13,52.61 166.66,51.41 168.8,51.79 C170.93,52.17 181.42,56.81 182.92,58.07 C184.43,59.32 187.25,65.47 187.63,67.48 C188.01,69.49 188.13,81.04 187.63,83.18 C187.13,85.31 182.86,92.78 181.35,94.16 C179.85,95.54 170.81,100.06 168.8,100.44 C166.79,100.82 158.13,99.75 156.24,98.87 C154.36,97.99 146.39,91.46 145.26,89.45 C144.13,87.45 142.12,76.02 142.12,73.76 Z" fill="none" stroke="#ebebeb" stroke-width="1.2" stroke-linejoin="round"/>
<g clip-path="url(#cAQ)">
<path d="M189.2,78.47 C189.5,75.83 192.53,68.86 193.91,67.48 C195.29,66.1 204.45,61.58 206.46,61.21 C208.47,60.83 217.46,62.27 219.02,62.77 C220.57,63.28 225.37,62.84 225.92,67.48 C226.48,72.13 226.48,116.2 225.92,120.84 C225.37,125.49 220.57,125.3 219.02,125.55 C217.46,125.8 208.35,124.86 206.46,123.98 C204.58,123.1 196.78,116.45 195.48,114.56 C194.17,112.68 190.64,103.33 190.14,100.44 C189.64,97.55 188.9,81.1 189.2,78.47 Z" fill="#959595"/>
<path d="M196.42,80.04 C196.61,78.91 199.72,71.19 200.19,70.62 C200.65,70.06 207.28,66.05 208.03,65.91 C208.79,65.78 218.3,66.94 219.02,67.17 C219.73,67.39 225.65,69.6 225.92,71.56 C226.2,73.52 226.22,114.17 225.92,116.13 C225.62,118.09 219.11,120.4 218.39,120.53 C217.67,120.65 208.76,119.64 208.03,119.27 C207.3,118.91 200.69,112.24 200.19,111.42 C199.68,110.61 195.63,100.13 195.48,98.87 C195.33,97.61 196.23,81.17 196.42,80.04 Z" fill="#8a8a8a" stroke="#a4a4a4" stroke-width="0.45"/>
<path d="M189.2,78.47 C189.5,75.83 192.53,68.86 193.91,67.48 C195.29,66.1 204.45,61.58 206.46,61.21 C208.47,60.83 217.46,62.27 219.02,62.77 C220.57,63.28 225.37,62.84 225.92,67.48 C226.48,72.13 226.48,116.2 225.92,120.84 C225.37,125.49 220.57,125.3 219.02,125.55 C217.46,125.8 208.35,124.86 206.46,123.98 C204.58,123.1 196.78,116.45 195.48,114.56 C194.17,112.68 190.64,103.33 190.14,100.44 C189.64,97.55 188.9,81.1 189.2,78.47 Z" fill="none" stroke="#fff" stroke-opacity="0.5" stroke-width="4.6" filter="url(#blurG)"/>
</g>
<path d="M189.2,78.47 C189.5,75.83 192.53,68.86 193.91,67.48 C195.29,66.1 204.45,61.58 206.46,61.21 C208.47,60.83 217.46,62.27 219.02,62.77 C220.57,63.28 225.37,62.84 225.92,67.48 C226.48,72.13 226.48,116.2 225.92,120.84 C225.37,125.49 220.57,125.3 219.02,125.55 C217.46,125.8 208.35,124.86 206.46,123.98 C204.58,123.1 196.78,116.45 195.48,114.56 C194.17,112.68 190.64,103.33 190.14,100.44 C189.64,97.55 188.9,81.1 189.2,78.47 Z" fill="none" stroke="#fafafa" stroke-width="2.1" stroke-linejoin="round"/>
<g clip-path="url(#cAH)">
<path d="M27.55,78.47 C27.68,76.84 29.31,71.68 30.69,70.62 C32.07,69.57 42.68,65.54 44.82,65.29 C46.95,65.03 55.11,66.43 57.37,67.48 C59.63,68.54 71.43,76.59 73.07,78.47 C74.7,80.35 77.52,89.27 77.77,91.02 C78.03,92.78 76.96,99.18 76.21,100.44 C75.45,101.69 70.24,106.09 68.36,106.72 C66.48,107.34 55.18,108.66 52.66,108.29 C50.15,107.91 38.85,103.39 36.97,102.01 C35.09,100.63 29.88,92.91 29.12,91.02 C28.37,89.14 27.43,80.1 27.55,78.47 Z" fill="#9f9f9f"/>
<path d="M34.46,77.84 C34.75,76.81 43.94,71.14 44.82,70.94 C45.7,70.73 55.36,72.27 56.43,72.82 C57.5,73.37 70.89,83.7 71.5,84.75 C72.1,85.79 71.75,98.14 71.5,98.87 C71.25,99.6 65.97,102.74 65.22,102.95 C64.47,103.16 53.77,104.46 52.66,104.21 C51.56,103.95 38.33,97.73 37.6,96.67 C36.87,95.62 34.17,78.87 34.46,77.84 Z" fill="#8c8c8c" stroke="#a6a6a6" stroke-width="0.45"/>
<path d="M27.55,78.47 C27.68,76.84 29.31,71.68 30.69,70.62 C32.07,69.57 42.68,65.54 44.82,65.29 C46.95,65.03 55.11,66.43 57.37,67.48 C59.63,68.54 71.43,76.59 73.07,78.47 C74.7,80.35 77.52,89.27 77.77,91.02 C78.03,92.78 76.96,99.18 76.21,100.44 C75.45,101.69 70.24,106.09 68.36,106.72 C66.48,107.34 55.18,108.66 52.66,108.29 C50.15,107.91 38.85,103.39 36.97,102.01 C35.09,100.63 29.88,92.91 29.12,91.02 C28.37,89.14 27.43,80.1 27.55,78.47 Z" fill="none" stroke="#fff" stroke-opacity="0.4" stroke-width="4.6" filter="url(#blurG)"/>
</g>
<path d="M27.55,78.47 C27.68,76.84 29.31,71.68 30.69,70.62 C32.07,69.57 42.68,65.54 44.82,65.29 C46.95,65.03 55.11,66.43 57.37,67.48 C59.63,68.54 71.43,76.59 73.07,78.47 C74.7,80.35 77.52,89.27 77.77,91.02 C78.03,92.78 76.96,99.18 76.21,100.44 C75.45,101.69 70.24,106.09 68.36,106.72 C66.48,107.34 55.18,108.66 52.66,108.29 C50.15,107.91 38.85,103.39 36.97,102.01 C35.09,100.63 29.88,92.91 29.12,91.02 C28.37,89.14 27.43,80.1 27.55,78.47 Z" fill="none" stroke="#eeeeee" stroke-width="1.3" stroke-linejoin="round"/>
<g clip-path="url(#cAT)">
<path d="M91.9,89.45 C91.7,87.95 92.72,82.74 93.47,81.61 C94.22,80.48 99.68,75.96 101.32,75.33 C102.95,74.7 112.11,73.51 113.87,73.76 C115.63,74.01 122.28,77.46 123.29,78.47 C124.29,79.47 126.42,84.81 126.42,86.32 C126.42,87.82 124.17,95.79 123.29,97.3 C122.41,98.81 116.95,104.39 115.44,105.15 C113.93,105.9 106.01,107.09 104.45,106.72 C102.9,106.34 96.98,101.82 95.98,100.44 C94.97,99.06 92.1,90.96 91.9,89.45 Z" fill="#959595"/>
<path d="M97.23,88.51 C97.41,87.85 102.85,80.44 103.51,80.04 C104.18,79.64 113.17,78.31 113.87,78.47 C114.57,78.63 120.88,83.43 121.09,84.12 C121.3,84.81 119.53,95.05 119.21,95.73 C118.88,96.41 113.52,100.82 112.93,101.07 C112.34,101.32 105.01,102.18 104.45,102.01 C103.9,101.83 99.41,97.21 99.12,96.67 C98.83,96.13 97.06,89.18 97.23,88.51 Z" fill="#8b8b8b" stroke="#a5a5a5" stroke-width="0.45"/>
<path d="M91.9,89.45 C91.7,87.95 92.72,82.74 93.47,81.61 C94.22,80.48 99.68,75.96 101.32,75.33 C102.95,74.7 112.11,73.51 113.87,73.76 C115.63,74.01 122.28,77.46 123.29,78.47 C124.29,79.47 126.42,84.81 126.42,86.32 C126.42,87.82 124.17,95.79 123.29,97.3 C122.41,98.81 116.95,104.39 115.44,105.15 C113.93,105.9 106.01,107.09 104.45,106.72 C102.9,106.34 96.98,101.82 95.98,100.44 C94.97,99.06 92.1,90.96 91.9,89.45 Z" fill="none" stroke="#fff" stroke-opacity="0.3" stroke-width="4.6" filter="url(#blurG)"/>
</g>
<path d="M91.9,89.45 C91.7,87.95 92.72,82.74 93.47,81.61 C94.22,80.48 99.68,75.96 101.32,75.33 C102.95,74.7 112.11,73.51 113.87,73.76 C115.63,74.01 122.28,77.46 123.29,78.47 C124.29,79.47 126.42,84.81 126.42,86.32 C126.42,87.82 124.17,95.79 123.29,97.3 C122.41,98.81 116.95,104.39 115.44,105.15 C113.93,105.9 106.01,107.09 104.45,106.72 C102.9,106.34 96.98,101.82 95.98,100.44 C94.97,99.06 92.1,90.96 91.9,89.45 Z" fill="none" stroke="#e4e4e4" stroke-width="1.1" stroke-linejoin="round"/>
<g clip-path="url(#cAS)">
<path d="M120.15,105.15 C120.15,103.77 122.53,95.74 123.29,94.16 C124.04,92.58 128.31,86.25 129.56,85.37 C130.82,84.49 137.6,82.85 138.98,83.18 C140.36,83.5 146.07,88.2 146.83,89.45 C147.58,90.71 148.77,97.36 148.4,98.87 C148.02,100.38 143.5,107.16 142.12,108.29 C140.74,109.42 132.64,112.74 131.13,112.99 C129.63,113.25 124.17,112.05 123.29,111.42 C122.41,110.8 120.15,106.53 120.15,105.15 Z" fill="#959595"/>
<path d="M124.86,104.21 C124.73,103.64 127.68,94.75 127.99,94.16 C128.31,93.57 132.26,89.7 132.7,89.45 C133.14,89.2 138.54,87.76 138.98,87.88 C139.42,88.01 143.47,92.15 143.69,92.59 C143.9,93.03 144.47,98.37 144.32,98.87 C144.17,99.37 140.45,104.77 139.92,105.15 C139.39,105.52 131.74,108.32 131.13,108.29 C130.53,108.25 124.98,104.77 124.86,104.21 Z" fill="#8d8d8d" stroke="#a7a7a7" stroke-width="0.45"/>
<path d="M120.15,105.15 C120.15,103.77 122.53,95.74 123.29,94.16 C124.04,92.58 128.31,86.25 129.56,85.37 C130.82,84.49 137.6,82.85 138.98,83.18 C140.36,83.5 146.07,88.2 146.83,89.45 C147.58,90.71 148.77,97.36 148.4,98.87 C148.02,100.38 143.5,107.16 142.12,108.29 C140.74,109.42 132.64,112.74 131.13,112.99 C129.63,113.25 124.17,112.05 123.29,111.42 C122.41,110.8 120.15,106.53 120.15,105.15 Z" fill="none" stroke="#fff" stroke-opacity="0.3" stroke-width="4.6" filter="url(#blurG)"/>
</g>
<path d="M120.15,105.15 C120.15,103.77 122.53,95.74 123.29,94.16 C124.04,92.58 128.31,86.25 129.56,85.37 C130.82,84.49 137.6,82.85 138.98,83.18 C140.36,83.5 146.07,88.2 146.83,89.45 C147.58,90.71 148.77,97.36 148.4,98.87 C148.02,100.38 143.5,107.16 142.12,108.29 C140.74,109.42 132.64,112.74 131.13,112.99 C129.63,113.25 124.17,112.05 123.29,111.42 C122.41,110.8 120.15,106.53 120.15,105.15 Z" fill="none" stroke="#e4e4e4" stroke-width="1.1" stroke-linejoin="round"/>
<g clip-path="url(#cAU)">
<path d="M76.21,116.13 C75.83,114.12 77.02,108.22 77.77,106.72 C78.53,105.21 84.24,98.18 85.62,97.3 C87,96.42 93.66,95.23 95.04,95.73 C96.42,96.23 101.75,102.07 102.88,103.58 C104.01,105.08 108.71,112.55 109.16,114.56 C109.61,116.57 109.16,126.8 108.53,128.69 C107.91,130.57 102.65,137.23 101.32,138.1 C99.98,138.98 93.41,140.18 91.9,139.67 C90.39,139.17 83.74,133.71 82.48,131.83 C81.23,129.94 76.58,118.14 76.21,116.13 Z" fill="#979797"/>
<path d="M81.54,115.51 C81.45,114.69 83.14,108.83 83.42,108.29 C83.71,107.75 88.33,102.3 88.76,102.01 C89.19,101.72 93.66,100.85 94.1,101.07 C94.54,101.28 99.33,106.74 99.75,107.34 C100.16,107.95 104.28,115.34 104.45,116.13 C104.63,116.92 104.35,126.43 104.14,127.12 C103.93,127.81 99.6,133.08 99.12,133.4 C98.64,133.71 92.75,135.15 92.21,134.97 C91.67,134.78 86.05,129.47 85.62,128.69 C85.19,127.91 81.63,116.32 81.54,115.51 Z" fill="#8c8c8c" stroke="#a6a6a6" stroke-width="0.45"/>
<path d="M76.21,116.13 C75.83,114.12 77.02,108.22 77.77,106.72 C78.53,105.21 84.24,98.18 85.62,97.3 C87,96.42 93.66,95.23 95.04,95.73 C96.42,96.23 101.75,102.07 102.88,103.58 C104.01,105.08 108.71,112.55 109.16,114.56 C109.61,116.57 109.16,126.8 108.53,128.69 C107.91,130.57 102.65,137.23 101.32,138.1 C99.98,138.98 93.41,140.18 91.9,139.67 C90.39,139.17 83.74,133.71 82.48,131.83 C81.23,129.94 76.58,118.14 76.21,116.13 Z" fill="none" stroke="#fff" stroke-opacity="0.3" stroke-width="4.6" filter="url(#blurG)"/>
</g>
<path d="M76.21,116.13 C75.83,114.12 77.02,108.22 77.77,106.72 C78.53,105.21 84.24,98.18 85.62,97.3 C87,96.42 93.66,95.23 95.04,95.73 C96.42,96.23 101.75,102.07 102.88,103.58 C104.01,105.08 108.71,112.55 109.16,114.56 C109.61,116.57 109.16,126.8 108.53,128.69 C107.91,130.57 102.65,137.23 101.32,138.1 C99.98,138.98 93.41,140.18 91.9,139.67 C90.39,139.17 83.74,133.71 82.48,131.83 C81.23,129.94 76.58,118.14 76.21,116.13 Z" fill="none" stroke="#e4e4e4" stroke-width="1.1" stroke-linejoin="round"/>
<g clip-path="url(#cAV)">
<path d="M22.85,120.84 C22.72,119.33 24.86,114 25.99,112.99 C27.12,111.99 34.59,108.66 36.97,108.29 C39.36,107.91 53.17,107.91 55.8,108.29 C58.44,108.66 68.55,111.74 69.93,112.99 C71.31,114.25 73.07,122.22 73.07,123.98 C73.07,125.74 70.81,133.21 69.93,134.97 C69.05,136.72 63.59,144.82 62.08,145.95 C60.57,147.08 52.98,149.34 51.1,149.09 C49.21,148.84 40.42,144.19 38.54,142.81 C36.66,141.43 28.81,133.58 27.55,131.83 C26.3,130.07 22.97,122.35 22.85,120.84 Z" fill="#a1a1a1"/>
<path d="M36.97,114.56 C37.6,113.58 56.12,113.25 57.37,113.62 C58.63,114 68.17,122.88 68.36,123.98 C68.55,125.08 62.81,140.43 62.08,141.24 C61.35,142.06 50.97,144.51 50.15,144.38 C49.34,144.26 42.21,139.3 41.68,138.1 C41.15,136.91 36.34,115.54 36.97,114.56 Z" fill="#949494" stroke="#aeaeae" stroke-width="0.45"/>
<path d="M25.99,120.84 C26.26,120.21 36.34,113.87 36.97,114.56 C37.6,115.25 41.96,137.48 41.68,138.1 C41.4,138.73 30.69,130.95 30.07,130.26 C29.44,129.57 25.71,121.47 25.99,120.84 Z" fill="#9f9f9f" stroke="#b9b9b9" stroke-width="0.45"/>
<path d="M22.85,120.84 C22.72,119.33 24.86,114 25.99,112.99 C27.12,111.99 34.59,108.66 36.97,108.29 C39.36,107.91 53.17,107.91 55.8,108.29 C58.44,108.66 68.55,111.74 69.93,112.99 C71.31,114.25 73.07,122.22 73.07,123.98 C73.07,125.74 70.81,133.21 69.93,134.97 C69.05,136.72 63.59,144.82 62.08,145.95 C60.57,147.08 52.98,149.34 51.1,149.09 C49.21,148.84 40.42,144.19 38.54,142.81 C36.66,141.43 28.81,133.58 27.55,131.83 C26.3,130.07 22.97,122.35 22.85,120.84 Z" fill="none" stroke="#fff" stroke-opacity="0.3" stroke-width="4.6" filter="url(#blurG)"/>
</g>
<path d="M22.85,120.84 C22.72,119.33 24.86,114 25.99,112.99 C27.12,111.99 34.59,108.66 36.97,108.29 C39.36,107.91 53.17,107.91 55.8,108.29 C58.44,108.66 68.55,111.74 69.93,112.99 C71.31,114.25 73.07,122.22 73.07,123.98 C73.07,125.74 70.81,133.21 69.93,134.97 C69.05,136.72 63.59,144.82 62.08,145.95 C60.57,147.08 52.98,149.34 51.1,149.09 C49.21,148.84 40.42,144.19 38.54,142.81 C36.66,141.43 28.81,133.58 27.55,131.83 C26.3,130.07 22.97,122.35 22.85,120.84 Z" fill="none" stroke="#e1e1e1" stroke-width="1.1" stroke-linejoin="round"/>
<g clip-path="url(#cAZ)">
<path d="M112.3,147.52 C112.23,145.46 112.43,134.21 112.93,131.83 C113.43,129.44 117.37,119.33 118.58,117.7 C119.78,116.07 126.11,112.18 127.99,111.42 C129.88,110.67 140.36,107.53 142.12,108.29 C143.88,109.04 146.58,119.84 149.97,120.84 C153.36,121.85 181.1,121.34 184.49,120.84 C187.88,120.34 190.58,114.31 192.34,114.56 C194.1,114.81 204.58,122.98 206.46,123.98 C208.35,124.98 215.5,125.99 215.88,127.12 C216.26,128.25 213.18,136.35 211.17,138.1 C209.16,139.86 193.41,147.53 190.77,149.09 C188.13,150.65 184.37,156.89 178.21,157.56 C172.06,158.24 119.14,158.37 113.87,157.56 C108.6,156.76 112.38,149.58 112.3,147.52 Z" fill="#9b9b9b"/>
<path d="M134.27,138.1 C134.15,137.15 150.84,126.72 153.1,126.18 C155.36,125.64 188.7,124.44 190.77,124.61 C192.84,124.77 204.89,129.47 204.89,130.26 C204.89,131.05 192.72,143.59 190.77,144.38 C188.82,145.17 158.5,150.28 156.24,150.03 C153.98,149.78 134.4,139.06 134.27,138.1 Z" fill="#828282" stroke="#9c9c9c" stroke-width="0.45"/>
<path d="M117.01,133.4 C117.2,131.99 121.84,118.93 123.29,118.64 C124.73,118.36 152.66,125.4 153.1,126.18 C153.54,126.96 135.65,137 134.27,138.1 C132.89,139.21 119.27,153.99 118.58,153.8 C117.89,153.61 116.82,134.8 117.01,133.4 Z" fill="#939393" stroke="#adadad" stroke-width="0.45"/>
<path d="M112.3,147.52 C112.23,145.46 112.43,134.21 112.93,131.83 C113.43,129.44 117.37,119.33 118.58,117.7 C119.78,116.07 126.11,112.18 127.99,111.42 C129.88,110.67 140.36,107.53 142.12,108.29 C143.88,109.04 146.58,119.84 149.97,120.84 C153.36,121.85 181.1,121.34 184.49,120.84 C187.88,120.34 190.58,114.31 192.34,114.56 C194.1,114.81 204.58,122.98 206.46,123.98 C208.35,124.98 215.5,125.99 215.88,127.12 C216.26,128.25 213.18,136.35 211.17,138.1 C209.16,139.86 193.41,147.53 190.77,149.09 C188.13,150.65 184.37,156.89 178.21,157.56 C172.06,158.24 119.14,158.37 113.87,157.56 C108.6,156.76 112.38,149.58 112.3,147.52 Z" fill="none" stroke="#fff" stroke-opacity="0.25" stroke-width="4.6" filter="url(#blurG)"/>
</g>
<path d="M112.3,147.52 C112.23,145.46 112.43,134.21 112.93,131.83 C113.43,129.44 117.37,119.33 118.58,117.7 C119.78,116.07 126.11,112.18 127.99,111.42 C129.88,110.67 140.36,107.53 142.12,108.29 C143.88,109.04 146.58,119.84 149.97,120.84 C153.36,121.85 181.1,121.34 184.49,120.84 C187.88,120.34 190.58,114.31 192.34,114.56 C194.1,114.81 204.58,122.98 206.46,123.98 C208.35,124.98 215.5,125.99 215.88,127.12 C216.26,128.25 213.18,136.35 211.17,138.1 C209.16,139.86 193.41,147.53 190.77,149.09 C188.13,150.65 184.37,156.89 178.21,157.56 C172.06,158.24 119.14,158.37 113.87,157.56 C108.6,156.76 112.38,149.58 112.3,147.52 Z" fill="none" stroke="#c8c8c8" stroke-width="0.9" stroke-linejoin="round"/>
<g clip-path="url(#cAAA)">
<path d="M140.55,116.76 C140.17,115.76 141.11,110.91 142.12,109.86 C143.12,108.8 150.72,104.53 153.1,103.58 C155.49,102.62 169.3,98.48 171.94,97.93 C174.57,97.38 184.55,96.22 186.06,96.67 C187.57,97.12 190.44,102.22 190.77,103.58 C191.1,104.93 190.64,112.37 190.14,113.62 C189.64,114.88 186.7,118.57 184.49,119.27 C182.28,119.97 165.53,122.16 162.52,122.41 C159.51,122.66 148.58,122.86 146.83,122.41 C145.07,121.96 140.93,117.77 140.55,116.76 Z" fill="#b5b5b5"/>
<path d="M148.4,114.56 C148.15,114.19 153.73,108.75 154.67,108.29 C155.62,107.82 170.77,103.21 171.94,102.95 C173.1,102.69 183.3,101.54 183.86,101.69 C184.43,101.85 186.04,106.26 186.06,106.72 C186.09,107.17 184.81,112.62 184.49,112.99 C184.18,113.37 179.16,115.94 178.21,116.13 C177.27,116.32 162.14,117.77 160.95,117.7 C159.76,117.64 148.65,114.94 148.4,114.56 Z" fill="#9e9e9e" stroke="#b8b8b8" stroke-width="0.45"/>
<path d="M140.55,116.76 C140.17,115.76 141.11,110.91 142.12,109.86 C143.12,108.8 150.72,104.53 153.1,103.58 C155.49,102.62 169.3,98.48 171.94,97.93 C174.57,97.38 184.55,96.22 186.06,96.67 C187.57,97.12 190.44,102.22 190.77,103.58 C191.1,104.93 190.64,112.37 190.14,113.62 C189.64,114.88 186.7,118.57 184.49,119.27 C182.28,119.97 165.53,122.16 162.52,122.41 C159.51,122.66 148.58,122.86 146.83,122.41 C145.07,121.96 140.93,117.77 140.55,116.76 Z" fill="none" stroke="#fff" stroke-opacity="0.35" stroke-width="4.6" filter="url(#blurG)"/>
</g>
<path d="M140.55,116.76 C140.17,115.76 141.11,110.91 142.12,109.86 C143.12,108.8 150.72,104.53 153.1,103.58 C155.49,102.62 169.3,98.48 171.94,97.93 C174.57,97.38 184.55,96.22 186.06,96.67 C187.57,97.12 190.44,102.22 190.77,103.58 C191.1,104.93 190.64,112.37 190.14,113.62 C189.64,114.88 186.7,118.57 184.49,119.27 C182.28,119.97 165.53,122.16 162.52,122.41 C159.51,122.66 148.58,122.86 146.83,122.41 C145.07,121.96 140.93,117.77 140.55,116.76 Z" fill="none" stroke="#e8e8e8" stroke-width="1.0" stroke-linejoin="round"/>
</g>
<rect x="183.8" y="146.7" width="35.2" height="3.9" fill="#fff" stroke="none" stroke-width="1" />
<text x="183.4" y="143" font-size="12.2" fill="#fff" stroke="#fff" stroke-width="0.25">20 µm</text>
</g>
<text x="3" y="14.4" font-size="19.5" font-weight="bold" fill="#000" >a</text>
<clipPath id="clipD"><rect x="18.0" y="210.2" width="206.9" height="154.2"/></clipPath>
<g clip-path="url(#clipD)">
<rect x="18" y="210.2" width="206.9" height="154.2" fill="url(#dBg)" stroke="none" stroke-width="1" />
<g filter="url(#blurD)">
<rect x="17" y="220.2" width="64" height="20.3" fill="url(#dRod)" stroke="none" stroke-width="1" />
<path d="M79.5,209 L90.5,209 L90.5,252 Q84,251 80.5,246 Q78.6,243 79,238 Z" fill="url(#dCollar)"/>
<rect x="88.8" y="209" width="138" height="45.5" fill="#979c93" stroke="none" stroke-width="1" />
<rect x="88.8" y="209" width="138" height="45.5" fill="#c4c9c1" stroke="none" stroke-width="1" filter="url(#hammer)" opacity="0.4"/>
<rect x="89.5" y="232" width="8.5" height="23" fill="#c6cac3" stroke="none" stroke-width="1" opacity="0.8"/>
<rect x="88.8" y="209" width="138" height="5" fill="#70766e" stroke="none" stroke-width="1" opacity="0.2"/>
<g filter="url(#blurD2)">
<rect x="132" y="219.8" width="95" height="4.2" fill="#d4d8d1" stroke="none" stroke-width="1" opacity="0.75"/>
<rect x="98" y="243.5" width="130" height="9.5" fill="#c2c6bf" stroke="none" stroke-width="1" opacity="0.7"/>
<rect x="150" y="228" width="75" height="12" fill="#9da29a" stroke="none" stroke-width="1" opacity="0.5"/>
</g>
<circle cx="110.6" cy="221.6" r="12.6" fill="#28292b"/>
<circle cx="111" cy="220.6" r="10.4" fill="#3a3b3c"/>
<circle cx="111.6" cy="219" r="7.7" fill="#57564e"/>
<circle cx="110.6" cy="217.6" r="4.6" fill="#8f8b7e" opacity="0.7"/>
<path d="M111.6,213.2 L113.1,217.5 L117.4,219 L113.1,220.5 L111.6,224.8 L110.1,220.5 L105.8,219 L110.1,217.5 Z" fill="#1d1d1c"/>
<g transform="translate(113.5,225) rotate(48.5)"><rect x="-3" y="-5.3" width="33.5" height="10.6" rx="5.2" fill="#2b2c2e"/><rect x="6.5" y="-2.6" width="20.5" height="5.2" rx="2.6" fill="#74767a"/><rect x="8" y="-1.4" width="18" height="3" rx="1.5" fill="#4b4d50"/></g>
<rect x="89.6" y="254.3" width="137" height="112" fill="#24262a" stroke="none" stroke-width="1" />
<path d="M89.6,255.2 L226,252.6 L226,253.9 L89.6,256.6 Z" fill="#d9dcd6"/>
<path d="M89.6,256.6 L226,253.9 L226,263 L89.6,263 Z" fill="#34373c"/>
<rect x="104.4" y="266" width="118.2" height="47.4" fill="#121417" stroke="#3b3e44" stroke-width="0.7" rx="1.5"/>
<rect x="113.5" y="273" width="95" height="34.6" fill="url(#dLcd)" stroke="none" stroke-width="1" />
<rect x="113.5" y="273" width="95" height="3" fill="#8d928e" stroke="none" stroke-width="1" opacity="0.5"/>
</g>
<text x="133" y="279.3" font-size="5.2" fill="#3c568c" letter-spacing="0.2">INC</text>
<text x="193" y="279.6" font-size="7.2" font-weight="bold" fill="#2f4f8f" >mm</text>
<text transform="translate(0,305.8) skewX(-4) scale(1,1.6)" x="153.2 161.4 167.6 182.4 195.6" y="0" font-family="'Liberation Mono', monospace" font-size="21" fill="#27498b" stroke="#27498b" stroke-width="0.8">0.430</text>
<text x="114.2" y="324.4" font-size="6.7" fill="#eceef0" >ORIGIN</text>
<text x="146" y="324.4" font-size="6.7" fill="#eceef0" >mm/in/0</text>
<text x="111.8" y="345.6" font-size="6.7" fill="#eceef0" >ON/0/ABS</text>
<rect x="117" y="326" width="20.3" height="9.6" fill="#e9e6da" stroke="none" stroke-width="1" rx="4.8"/>
<rect x="151.4" y="325.2" width="20.3" height="9.6" fill="#e9e6da" stroke="none" stroke-width="1" rx="4.8"/>
<rect x="117" y="348.4" width="20.3" height="9.4" fill="#d8363a" stroke="none" stroke-width="1" rx="4.7"/>
<rect x="171.6" y="309.3" width="54" height="56" fill="#3e50d8" stroke="none" stroke-width="1" />
<circle cx="198.9" cy="337.4" r="24.6" fill="#f1f3f7"/>
<g transform="translate(171.5,363.5) rotate(-38)"><rect x="-3" y="-4.4" width="31" height="8.8" rx="4.2" fill="#a2a3a6"/><rect x="-3" y="-2.8" width="29.5" height="2" fill="#cfd0d3" opacity="0.75"/><rect x="-3" y="1.6" width="29.5" height="2" fill="#77797d" opacity="0.7"/></g>
<g filter="url(#blurD)">
<path d="M17,302 L45.7,280.3 L58,276.4 L70.4,274.8 L82,275.6 L89.6,278 L89.6,290 L72.1,304 L17,304 Z" fill="url(#dGlove)"/>
<path d="M17,303.2 L72.3,303.2 L88.6,289.2 L89.8,289.2 L89.8,366 L17,366 Z" fill="#323438"/>
<path d="M17,303.2 L72.3,303.2 L88.6,289.2" fill="none" stroke="#7c8088" stroke-width="0.9"/>
<line x1="89.8" y1="256" x2="89.8" y2="366" stroke="#17181b" stroke-width="1.2" />
</g>
<text x="17.4" y="332.2" font-size="10.6" font-weight="bold" font-style="italic" fill="#f3f3f3" textLength="16.6" lengthAdjust="spacingAndGlyphs">ng</text>
<text x="18.2" y="349.9" font-size="7.6" font-weight="bold" fill="#eeeeee" textLength="58.3" lengthAdjust="spacingAndGlyphs">MICROMETER</text>
<line x1="18" y1="352.6" x2="76.5" y2="352.6" stroke="#dcdcdc" stroke-width="0.7" />
<text x="18.6" y="363.2" font-size="8.3" fill="#e8e8e8" >25mm</text>
<text x="49.4" y="363.2" font-size="6.2" font-weight="bold" fill="#e8e8e8" textLength="27.4" lengthAdjust="spacingAndGlyphs">0.001mm</text>
</g>
<text x="3" y="198.2" font-size="19.5" font-weight="bold" fill="#000" >d</text>
</svg>
</body></html>
